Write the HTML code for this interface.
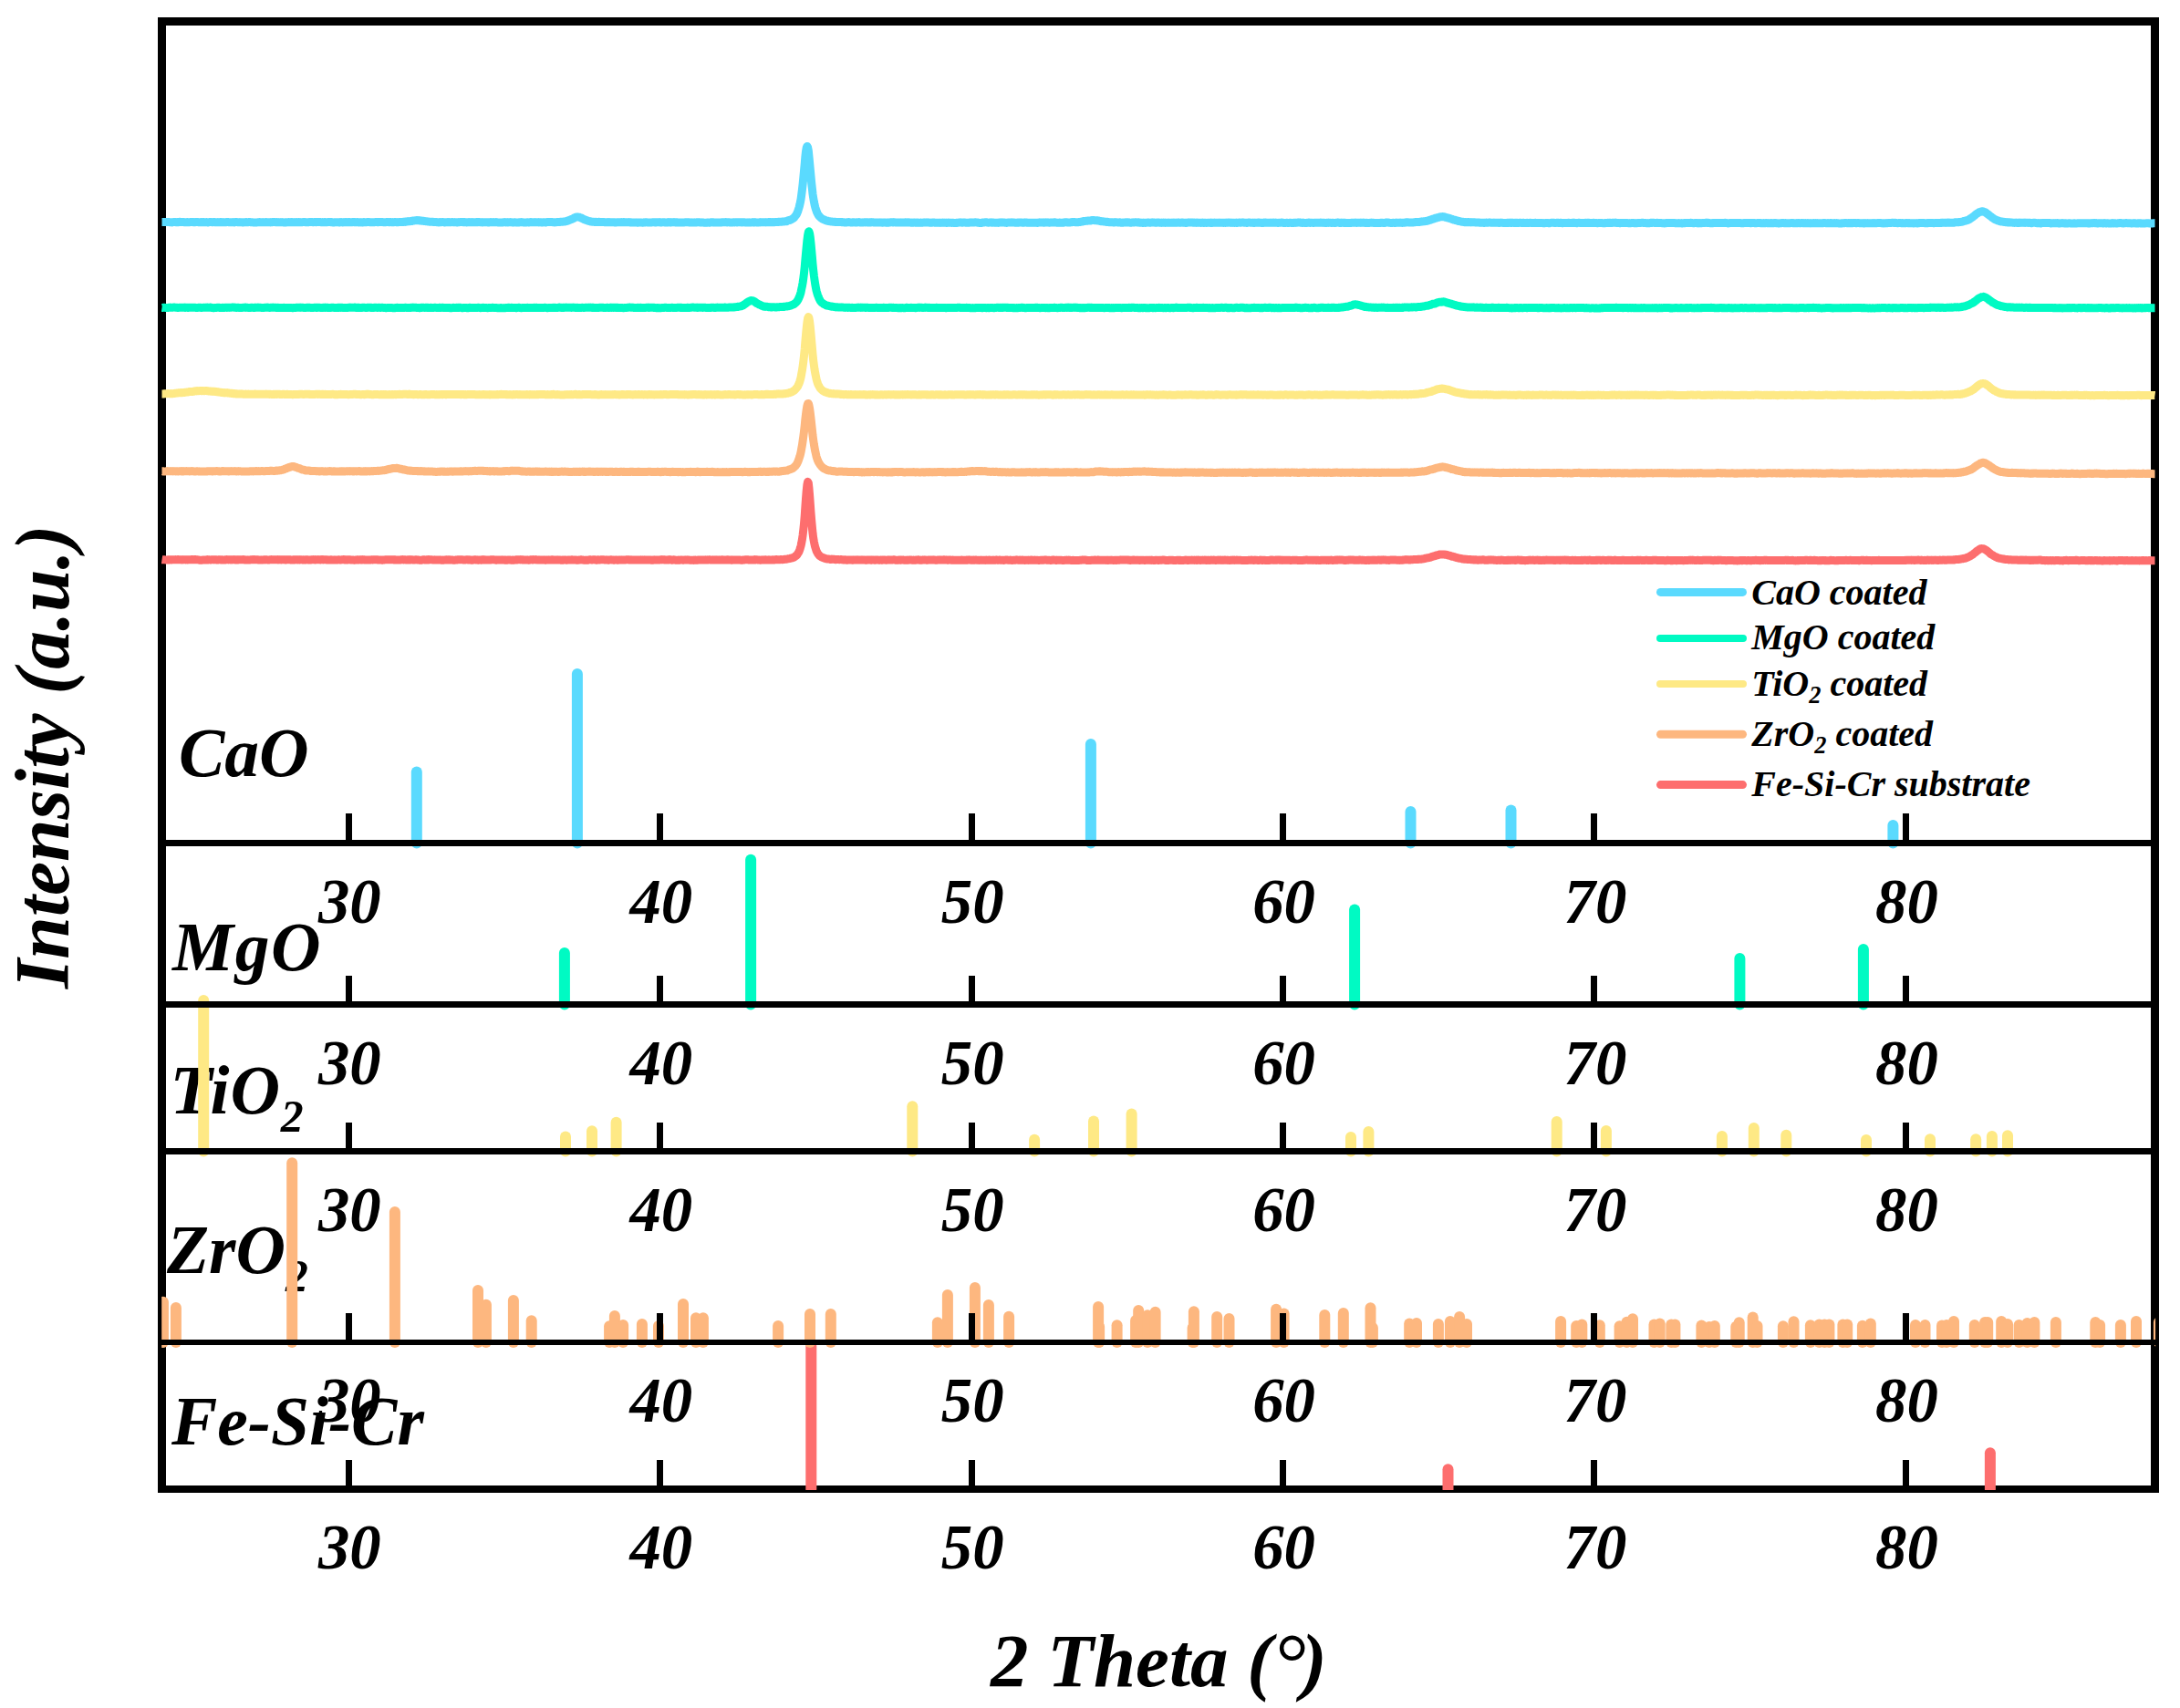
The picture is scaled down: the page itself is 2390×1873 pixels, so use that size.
<!DOCTYPE html>
<html lang="en"><head><meta charset="utf-8"><title>XRD patterns</title>
<style>html,body{margin:0;padding:0;background:#fff}svg{display:block}</style>
</head><body>
<svg width="2390" height="1873" viewBox="0 0 2390 1873"><rect x="0" y="0" width="2390" height="1873" fill="#fff"/>
<g fill="#000"><rect x="173" y="19" width="9" height="1618"/><rect x="2358" y="19" width="9" height="1618"/><rect x="173" y="19" width="2194" height="9"/><rect x="173" y="1629" width="2194" height="8"/></g>
<g style="font-family:'Liberation Serif','Times New Roman',serif;font-weight:bold;font-style:italic" fill="#000">
<text transform="translate(75.4,830) rotate(-90)" font-size="83.6" text-anchor="middle">Intensity (a.u.)</text>
<text x="1086" y="1849" font-size="83">2 Theta (<tspan style="font-weight:normal;font-style:normal" font-size="91" dx="3.5" dy="4.5">°</tspan><tspan dx="-7.7" dy="-4.5">)</tspan></text>
<text x="196.0" y="850.5" font-size="75.5" text-anchor="start" >CaO</text>
<text x="189.0" y="1064.0" font-size="75.5" text-anchor="start" letter-spacing="1.6">MgO</text>
<text x="186.5" y="1221" font-size="75.5" letter-spacing="0.8">TiO<tspan font-size="49.8" dy="20.0">2</tspan></text>
<text x="183" y="1396" font-size="75.5">ZrO<tspan font-size="49.8" dy="20.0">2</tspan></text>
<text x="188.0" y="1584.0" font-size="75.5" text-anchor="start" >Fe-Si-Cr</text>
<text x="383.3" y="1011.8" font-size="68.8" text-anchor="middle" >30</text>
<text x="724.8" y="1011.8" font-size="68.8" text-anchor="middle" >40</text>
<text x="1066.2" y="1011.8" font-size="68.8" text-anchor="middle" >50</text>
<text x="1407.6" y="1011.8" font-size="68.8" text-anchor="middle" >60</text>
<text x="1749.0" y="1011.8" font-size="68.8" text-anchor="middle" >70</text>
<text x="2090.4" y="1011.8" font-size="68.8" text-anchor="middle" >80</text>
<text x="383.3" y="1188.8" font-size="68.8" text-anchor="middle" >30</text>
<text x="724.8" y="1188.8" font-size="68.8" text-anchor="middle" >40</text>
<text x="1066.2" y="1188.8" font-size="68.8" text-anchor="middle" >50</text>
<text x="1407.6" y="1188.8" font-size="68.8" text-anchor="middle" >60</text>
<text x="1749.0" y="1188.8" font-size="68.8" text-anchor="middle" >70</text>
<text x="2090.4" y="1188.8" font-size="68.8" text-anchor="middle" >80</text>
<text x="383.3" y="1349.8" font-size="68.8" text-anchor="middle" >30</text>
<text x="724.8" y="1349.8" font-size="68.8" text-anchor="middle" >40</text>
<text x="1066.2" y="1349.8" font-size="68.8" text-anchor="middle" >50</text>
<text x="1407.6" y="1349.8" font-size="68.8" text-anchor="middle" >60</text>
<text x="1749.0" y="1349.8" font-size="68.8" text-anchor="middle" >70</text>
<text x="2090.4" y="1349.8" font-size="68.8" text-anchor="middle" >80</text>
<text x="383.3" y="1559.3" font-size="68.8" text-anchor="middle" >30</text>
<text x="724.8" y="1559.3" font-size="68.8" text-anchor="middle" >40</text>
<text x="1066.2" y="1559.3" font-size="68.8" text-anchor="middle" >50</text>
<text x="1407.6" y="1559.3" font-size="68.8" text-anchor="middle" >60</text>
<text x="1749.0" y="1559.3" font-size="68.8" text-anchor="middle" >70</text>
<text x="2090.4" y="1559.3" font-size="68.8" text-anchor="middle" >80</text>
<text x="383.3" y="1720.3" font-size="68.8" text-anchor="middle" >30</text>
<text x="724.8" y="1720.3" font-size="68.8" text-anchor="middle" >40</text>
<text x="1066.2" y="1720.3" font-size="68.8" text-anchor="middle" >50</text>
<text x="1407.6" y="1720.3" font-size="68.8" text-anchor="middle" >60</text>
<text x="1749.0" y="1720.3" font-size="68.8" text-anchor="middle" >70</text>
<text x="2090.4" y="1720.3" font-size="68.8" text-anchor="middle" >80</text>
<text x="1920.3" y="662.7" font-size="40.0" text-anchor="start" >CaO coated</text>
<text x="1920.3" y="712.4" font-size="40.0" text-anchor="start" >MgO coated</text>
<text x="1920.3" y="763.0" font-size="40.0" text-anchor="start" >TiO<tspan font-size="26.4" dy="7.8">2</tspan><tspan dy="-7.8"> coated</tspan></text>
<text x="1920.3" y="818.3" font-size="40.0" text-anchor="start" >ZrO<tspan font-size="26.4" dy="7.8">2</tspan><tspan dy="-7.8"> coated</tspan></text>
<text x="1920.3" y="873.4" font-size="40.0" text-anchor="start" >Fe-Si-Cr substrate</text>
</g>
<line x1="1820.5" y1="649.4" x2="1910.5" y2="649.4" stroke="#5ADAFE" stroke-width="9" stroke-linecap="round"/>
<line x1="1820.0" y1="699.9" x2="1911.0" y2="699.9" stroke="#00FAC3" stroke-width="8" stroke-linecap="round"/>
<line x1="1820.0" y1="750.0" x2="1911.0" y2="750.0" stroke="#FEE985" stroke-width="8" stroke-linecap="round"/>
<line x1="1820.5" y1="805.3" x2="1910.5" y2="805.3" stroke="#FDB77F" stroke-width="9" stroke-linecap="round"/>
<line x1="1820.5" y1="860.6" x2="1910.5" y2="860.6" stroke="#FD6E6E" stroke-width="9" stroke-linecap="round"/>
<clipPath id="clip_main"><rect x="177.0" y="0" width="2186.0" height="1873"/></clipPath>
<g clip-path="url(#clip_main)">
<path d="M177.5 243.6 L178.2 243.6 L178.9 243.6 L179.5 243.6 L180.2 243.6 L180.9 243.4 L181.6 243.5 L182.3 243.5 L183.0 243.5 L183.6 243.5 L184.3 243.4 L185.0 243.5 L185.7 243.6 L186.4 243.7 L187.1 243.8 L187.7 243.8 L188.4 243.9 L189.1 243.7 L189.8 243.6 L190.5 243.5 L191.2 243.5 L191.8 243.5 L192.5 243.5 L193.2 243.7 L193.9 243.6 L194.6 243.5 L195.3 243.7 L195.9 243.5 L196.6 243.4 L197.3 243.3 L198.0 243.5 L198.7 243.6 L199.4 243.6 L200.0 243.5 L200.7 243.6 L201.4 243.5 L202.1 243.6 L202.8 243.8 L203.4 243.8 L204.1 243.7 L204.8 243.6 L205.5 243.5 L206.2 243.7 L206.9 243.7 L207.5 243.7 L208.2 243.6 L208.9 243.5 L209.6 243.6 L210.3 243.5 L211.0 243.6 L211.6 243.6 L212.3 243.6 L213.0 243.8 L213.7 243.6 L214.4 243.5 L215.1 243.6 L215.7 243.4 L216.4 243.6 L217.1 243.5 L217.8 243.7 L218.5 243.7 L219.2 243.8 L219.8 243.6 L220.5 243.5 L221.2 243.7 L221.9 243.6 L222.6 243.8 L223.2 243.6 L223.9 243.6 L224.6 243.7 L225.3 243.7 L226.0 243.6 L226.7 243.6 L227.3 243.7 L228.0 243.9 L228.7 243.7 L229.4 243.6 L230.1 243.5 L230.8 243.5 L231.4 243.5 L232.1 243.6 L232.8 243.7 L233.5 243.6 L234.2 243.5 L234.9 243.6 L235.5 243.6 L236.2 243.8 L236.9 243.8 L237.6 243.8 L238.3 243.8 L239.0 243.6 L239.6 243.7 L240.3 243.7 L241.0 243.6 L241.7 243.6 L242.4 243.6 L243.1 243.8 L243.7 243.7 L244.4 243.6 L245.1 243.7 L245.8 243.7 L246.5 243.7 L247.1 243.8 L247.8 243.6 L248.5 243.5 L249.2 243.6 L249.9 243.5 L250.6 243.6 L251.2 243.7 L251.9 243.8 L252.6 243.8 L253.3 243.8 L254.0 243.8 L254.7 243.7 L255.3 243.6 L256.0 243.8 L256.7 243.9 L257.4 243.7 L258.1 243.5 L258.8 243.4 L259.4 243.6 L260.1 243.6 L260.8 243.7 L261.5 243.7 L262.2 243.7 L262.9 243.6 L263.5 243.7 L264.2 243.8 L264.9 243.8 L265.6 243.9 L266.3 243.9 L266.9 243.7 L267.6 243.7 L268.3 243.8 L269.0 243.8 L269.7 243.6 L270.4 243.6 L271.0 243.7 L271.7 243.7 L272.4 243.6 L273.1 243.6 L273.8 243.5 L274.5 243.6 L275.1 243.8 L275.8 243.7 L276.5 243.8 L277.2 243.9 L277.9 243.9 L278.6 243.9 L279.2 244.0 L279.9 244.0 L280.6 243.9 L281.3 243.9 L282.0 243.9 L282.7 243.8 L283.3 243.8 L284.0 243.6 L284.7 243.5 L285.4 243.7 L286.1 243.8 L286.8 243.8 L287.4 243.7 L288.1 243.6 L288.8 243.7 L289.5 243.7 L290.2 243.7 L290.8 243.8 L291.5 243.6 L292.2 243.6 L292.9 243.7 L293.6 243.7 L294.3 243.8 L294.9 243.7 L295.6 243.8 L296.3 243.9 L297.0 243.8 L297.7 243.8 L298.4 243.6 L299.0 243.6 L299.7 243.6 L300.4 243.5 L301.1 243.6 L301.8 243.6 L302.5 243.7 L303.1 243.6 L303.8 243.6 L304.5 243.7 L305.2 243.6 L305.9 243.7 L306.6 243.7 L307.2 243.7 L307.9 243.6 L308.6 243.7 L309.3 243.6 L310.0 243.7 L310.6 243.9 L311.3 244.0 L312.0 244.0 L312.7 243.9 L313.4 243.7 L314.1 243.9 L314.7 243.8 L315.4 243.8 L316.1 243.6 L316.8 243.5 L317.5 243.7 L318.2 243.7 L318.8 243.6 L319.5 243.6 L320.2 243.6 L320.9 243.8 L321.6 243.7 L322.3 243.7 L322.9 243.6 L323.6 243.7 L324.3 243.8 L325.0 243.6 L325.7 243.8 L326.4 243.7 L327.0 243.6 L327.7 243.5 L328.4 243.7 L329.1 243.6 L329.8 243.7 L330.5 243.7 L331.1 243.7 L331.8 243.6 L332.5 243.5 L333.2 243.6 L333.9 243.6 L334.5 243.5 L335.2 243.7 L335.9 243.8 L336.6 243.7 L337.3 243.7 L338.0 243.7 L338.6 243.6 L339.3 243.5 L340.0 243.4 L340.7 243.5 L341.4 243.5 L342.1 243.5 L342.7 243.6 L343.4 243.7 L344.1 243.6 L344.8 243.5 L345.5 243.4 L346.2 243.7 L346.8 243.6 L347.5 243.6 L348.2 243.5 L348.9 243.4 L349.6 243.4 L350.3 243.6 L350.9 243.5 L351.6 243.6 L352.3 243.7 L353.0 243.8 L353.7 243.6 L354.3 243.7 L355.0 243.8 L355.7 243.6 L356.4 243.6 L357.1 243.8 L357.8 243.7 L358.4 243.7 L359.1 243.6 L359.8 243.6 L360.5 243.5 L361.2 243.5 L361.9 243.6 L362.5 243.4 L363.2 243.6 L363.9 243.8 L364.6 243.9 L365.3 244.0 L366.0 244.0 L366.6 243.8 L367.3 243.7 L368.0 243.8 L368.7 243.7 L369.4 243.8 L370.1 243.7 L370.7 243.8 L371.4 243.7 L372.1 243.9 L372.8 243.9 L373.5 243.8 L374.1 243.6 L374.8 243.8 L375.5 243.9 L376.2 243.7 L376.9 243.6 L377.6 243.8 L378.2 243.8 L378.9 243.6 L379.6 243.6 L380.3 243.7 L381.0 243.6 L381.7 243.5 L382.3 243.7 L383.0 243.6 L383.7 243.6 L384.4 243.7 L385.1 243.7 L385.8 243.8 L386.4 243.6 L387.1 243.6 L387.8 243.5 L388.5 243.7 L389.2 243.5 L389.9 243.7 L390.5 243.7 L391.2 243.6 L391.9 243.6 L392.6 243.8 L393.3 243.9 L394.0 243.7 L394.6 243.8 L395.3 243.9 L396.0 243.8 L396.7 243.9 L397.4 244.0 L398.0 243.8 L398.7 243.6 L399.4 243.6 L400.1 243.7 L400.8 243.8 L401.5 243.7 L402.1 243.6 L402.8 243.5 L403.5 243.4 L404.2 243.6 L404.9 243.5 L405.6 243.7 L406.2 243.7 L406.9 243.7 L407.6 243.7 L408.3 243.7 L409.0 243.7 L409.7 243.7 L410.3 243.7 L411.0 243.6 L411.7 243.5 L412.4 243.5 L413.1 243.4 L413.8 243.6 L414.4 243.7 L415.1 243.5 L415.8 243.5 L416.5 243.5 L417.2 243.4 L417.8 243.6 L418.5 243.6 L419.2 243.5 L419.9 243.6 L420.6 243.7 L421.3 243.8 L421.9 243.8 L422.6 243.7 L423.3 243.6 L424.0 243.5 L424.7 243.4 L425.4 243.6 L426.0 243.5 L426.7 243.7 L427.4 243.6 L428.1 243.6 L428.8 243.6 L429.5 243.7 L430.1 243.8 L430.8 243.6 L431.5 243.7 L432.2 243.6 L432.9 243.6 L433.6 243.6 L434.2 243.6 L434.9 243.7 L435.6 243.6 L436.3 243.7 L437.0 243.6 L437.7 243.6 L438.3 243.6 L439.0 243.6 L439.7 243.6 L440.4 243.5 L441.1 243.6 L441.7 243.4 L442.4 243.3 L443.1 243.4 L443.8 243.3 L444.5 243.4 L445.2 243.1 L445.8 243.0 L446.5 242.8 L447.2 242.9 L447.9 242.8 L448.6 242.7 L449.3 242.8 L449.9 242.6 L450.6 242.6 L451.3 242.5 L452.0 242.2 L452.7 242.0 L453.4 241.9 L454.0 242.0 L454.7 241.9 L455.4 241.8 L456.1 241.7 L456.8 241.5 L457.5 241.6 L458.1 241.7 L458.8 241.6 L459.5 241.8 L460.2 242.0 L460.9 242.1 L461.6 242.0 L462.2 242.0 L462.9 242.3 L463.6 242.2 L464.3 242.3 L465.0 242.5 L465.6 242.6 L466.3 242.6 L467.0 242.7 L467.7 242.8 L468.4 242.9 L469.1 243.0 L469.7 243.0 L470.4 243.1 L471.1 243.2 L471.8 243.2 L472.5 243.3 L473.2 243.3 L473.8 243.2 L474.5 243.3 L475.2 243.4 L475.9 243.6 L476.6 243.5 L477.3 243.5 L477.9 243.4 L478.6 243.6 L479.3 243.7 L480.0 243.8 L480.7 243.9 L481.4 243.7 L482.0 243.6 L482.7 243.6 L483.4 243.7 L484.1 243.6 L484.8 243.6 L485.4 243.6 L486.1 243.6 L486.8 243.7 L487.5 243.9 L488.2 243.7 L488.9 243.7 L489.5 243.7 L490.2 243.6 L490.9 243.8 L491.6 243.6 L492.3 243.5 L493.0 243.7 L493.6 243.7 L494.3 243.7 L495.0 243.6 L495.7 243.6 L496.4 243.6 L497.1 243.7 L497.7 243.7 L498.4 243.6 L499.1 243.7 L499.8 243.7 L500.5 243.7 L501.2 243.9 L501.8 243.7 L502.5 243.6 L503.2 243.7 L503.9 243.6 L504.6 243.5 L505.3 243.4 L505.9 243.5 L506.6 243.4 L507.3 243.5 L508.0 243.7 L508.7 243.6 L509.3 243.5 L510.0 243.6 L510.7 243.8 L511.4 243.9 L512.1 243.7 L512.8 243.8 L513.4 243.8 L514.1 243.6 L514.8 243.8 L515.5 243.7 L516.2 243.6 L516.9 243.7 L517.5 243.8 L518.2 243.6 L518.9 243.7 L519.6 243.8 L520.3 243.7 L521.0 243.7 L521.6 243.8 L522.3 243.6 L523.0 243.8 L523.7 243.6 L524.4 243.6 L525.1 243.5 L525.7 243.5 L526.4 243.7 L527.1 243.7 L527.8 243.8 L528.5 243.9 L529.1 243.7 L529.8 243.8 L530.5 243.8 L531.2 243.7 L531.9 243.8 L532.6 243.7 L533.2 243.7 L533.9 243.8 L534.6 243.9 L535.3 243.7 L536.0 243.9 L536.7 243.7 L537.3 243.8 L538.0 243.6 L538.7 243.8 L539.4 243.8 L540.1 243.7 L540.8 243.6 L541.4 243.8 L542.1 243.7 L542.8 243.7 L543.5 243.6 L544.2 243.6 L544.9 243.7 L545.5 243.9 L546.2 244.0 L546.9 244.0 L547.6 243.9 L548.3 243.9 L549.0 243.9 L549.6 244.0 L550.3 243.9 L551.0 244.0 L551.7 243.9 L552.4 243.7 L553.0 243.8 L553.7 243.6 L554.4 243.7 L555.1 243.9 L555.8 243.8 L556.5 243.9 L557.1 243.7 L557.8 243.8 L558.5 243.7 L559.2 243.6 L559.9 243.8 L560.6 243.8 L561.2 243.8 L561.9 244.0 L562.6 244.0 L563.3 244.0 L564.0 243.8 L564.7 243.7 L565.3 243.9 L566.0 244.0 L566.7 243.9 L567.4 243.9 L568.1 244.0 L568.8 244.0 L569.4 243.8 L570.1 243.7 L570.8 243.8 L571.5 243.6 L572.2 243.8 L572.8 243.8 L573.5 243.9 L574.2 243.9 L574.9 243.9 L575.6 243.9 L576.3 244.0 L576.9 244.0 L577.6 243.9 L578.3 243.8 L579.0 243.9 L579.7 244.0 L580.4 243.9 L581.0 243.7 L581.7 243.5 L582.4 243.6 L583.1 243.7 L583.8 243.7 L584.5 243.7 L585.1 243.7 L585.8 243.7 L586.5 243.6 L587.2 243.7 L587.9 243.7 L588.6 243.8 L589.2 243.7 L589.9 243.8 L590.6 243.9 L591.3 243.8 L592.0 243.9 L592.6 243.8 L593.3 243.8 L594.0 244.0 L594.7 244.0 L595.4 243.9 L596.1 243.7 L596.7 243.8 L597.4 243.9 L598.1 244.0 L598.8 243.7 L599.5 243.6 L600.2 243.6 L600.8 243.5 L601.5 243.4 L602.2 243.6 L602.9 243.6 L603.6 243.5 L604.3 243.5 L604.9 243.5 L605.6 243.5 L606.3 243.7 L607.0 243.8 L607.7 243.9 L608.4 243.7 L609.0 243.7 L609.7 243.7 L610.4 243.6 L611.1 243.5 L611.8 243.6 L612.5 243.5 L613.1 243.4 L613.8 243.5 L614.5 243.3 L615.2 243.2 L615.9 243.2 L616.5 243.2 L617.2 243.2 L617.9 242.9 L618.6 242.9 L619.3 243.0 L620.0 242.8 L620.6 242.6 L621.3 242.5 L622.0 242.1 L622.7 242.1 L623.4 241.7 L624.1 241.5 L624.7 241.2 L625.4 240.8 L626.1 240.6 L626.8 240.4 L627.5 240.2 L628.2 239.8 L628.8 239.5 L629.5 239.0 L630.2 238.7 L630.9 238.4 L631.6 238.0 L632.3 238.1 L632.9 238.0 L633.6 238.1 L634.3 238.1 L635.0 238.2 L635.7 238.4 L636.3 238.7 L637.0 239.0 L637.7 239.2 L638.4 239.7 L639.1 239.9 L639.8 240.3 L640.4 240.7 L641.1 240.9 L641.8 241.1 L642.5 241.3 L643.2 241.6 L643.9 241.9 L644.5 242.1 L645.2 242.4 L645.9 242.4 L646.6 242.7 L647.3 242.9 L648.0 243.1 L648.6 243.0 L649.3 243.2 L650.0 243.2 L650.7 243.3 L651.4 243.4 L652.1 243.5 L652.7 243.4 L653.4 243.3 L654.1 243.5 L654.8 243.4 L655.5 243.5 L656.2 243.4 L656.8 243.3 L657.5 243.5 L658.2 243.6 L658.9 243.5 L659.6 243.5 L660.2 243.6 L660.9 243.5 L661.6 243.5 L662.3 243.5 L663.0 243.7 L663.7 243.7 L664.3 243.7 L665.0 243.7 L665.7 243.8 L666.4 243.6 L667.1 243.7 L667.8 243.6 L668.4 243.8 L669.1 243.8 L669.8 243.8 L670.5 243.7 L671.2 243.8 L671.9 243.7 L672.5 243.7 L673.2 243.7 L673.9 243.9 L674.6 243.9 L675.3 243.9 L676.0 243.9 L676.6 243.8 L677.3 243.7 L678.0 243.7 L678.7 243.8 L679.4 243.7 L680.0 243.8 L680.7 243.8 L681.4 243.6 L682.1 243.7 L682.8 243.8 L683.5 243.6 L684.1 243.6 L684.8 243.8 L685.5 243.7 L686.2 243.7 L686.9 243.8 L687.6 243.8 L688.2 243.7 L688.9 243.7 L689.6 243.6 L690.3 243.7 L691.0 243.9 L691.7 243.8 L692.3 244.0 L693.0 244.0 L693.7 243.9 L694.4 243.9 L695.1 243.9 L695.8 244.0 L696.4 243.9 L697.1 244.0 L697.8 244.1 L698.5 244.1 L699.2 244.2 L699.9 244.0 L700.5 243.9 L701.2 243.9 L701.9 244.0 L702.6 244.0 L703.3 243.9 L703.9 244.1 L704.6 244.2 L705.3 244.0 L706.0 244.1 L706.7 244.0 L707.4 243.8 L708.0 243.9 L708.7 243.8 L709.4 243.9 L710.1 244.0 L710.8 243.9 L711.5 243.9 L712.1 244.0 L712.8 243.9 L713.5 243.9 L714.2 244.0 L714.9 243.9 L715.6 243.8 L716.2 243.8 L716.9 243.8 L717.6 243.7 L718.3 243.9 L719.0 243.9 L719.7 243.9 L720.3 243.8 L721.0 243.7 L721.7 243.8 L722.4 243.7 L723.1 243.6 L723.8 243.7 L724.4 243.9 L725.1 243.9 L725.8 243.9 L726.5 243.8 L727.2 243.8 L727.8 243.7 L728.5 243.9 L729.2 244.0 L729.9 243.9 L730.6 243.9 L731.3 243.9 L731.9 243.8 L732.6 243.9 L733.3 243.8 L734.0 243.9 L734.7 243.8 L735.4 244.0 L736.0 243.8 L736.7 243.7 L737.4 243.8 L738.1 243.7 L738.8 243.6 L739.5 243.8 L740.1 243.9 L740.8 243.7 L741.5 243.7 L742.2 243.9 L742.9 243.9 L743.6 243.9 L744.2 244.0 L744.9 243.9 L745.6 244.0 L746.3 244.0 L747.0 243.9 L747.6 243.9 L748.3 244.0 L749.0 243.9 L749.7 243.9 L750.4 243.9 L751.1 243.8 L751.7 243.7 L752.4 243.7 L753.1 243.8 L753.8 243.8 L754.5 243.8 L755.2 243.9 L755.8 244.1 L756.5 244.0 L757.2 244.1 L757.9 244.1 L758.6 244.1 L759.3 244.0 L759.9 244.0 L760.6 244.0 L761.3 244.1 L762.0 244.0 L762.7 244.0 L763.4 244.1 L764.0 243.9 L764.7 243.8 L765.4 243.7 L766.1 243.7 L766.8 243.8 L767.5 244.0 L768.1 244.0 L768.8 244.0 L769.5 244.1 L770.2 244.0 L770.9 244.1 L771.5 244.1 L772.2 244.2 L772.9 244.3 L773.6 244.3 L774.3 244.3 L775.0 244.1 L775.6 244.0 L776.3 244.0 L777.0 244.1 L777.7 244.2 L778.4 244.0 L779.1 243.8 L779.7 243.9 L780.4 243.8 L781.1 243.7 L781.8 243.9 L782.5 244.1 L783.2 244.0 L783.8 243.9 L784.5 243.9 L785.2 244.0 L785.9 244.1 L786.6 243.9 L787.3 244.0 L787.9 244.0 L788.6 243.9 L789.3 244.0 L790.0 244.0 L790.7 244.0 L791.3 243.8 L792.0 243.8 L792.7 243.7 L793.4 243.7 L794.1 243.8 L794.8 243.7 L795.4 243.6 L796.1 243.8 L796.8 243.9 L797.5 243.9 L798.2 243.8 L798.9 243.7 L799.5 243.8 L800.2 243.9 L800.9 244.1 L801.6 244.0 L802.3 244.0 L803.0 244.0 L803.6 243.9 L804.3 243.8 L805.0 243.9 L805.7 243.9 L806.4 243.8 L807.1 243.8 L807.7 243.9 L808.4 243.9 L809.1 243.8 L809.8 243.7 L810.5 243.7 L811.2 243.7 L811.8 243.7 L812.5 243.7 L813.2 243.9 L813.9 243.8 L814.6 243.9 L815.2 243.8 L815.9 243.8 L816.6 243.9 L817.3 243.9 L818.0 243.9 L818.7 244.0 L819.3 244.0 L820.0 244.1 L820.7 244.0 L821.4 244.1 L822.1 244.0 L822.8 244.0 L823.4 244.0 L824.1 243.9 L824.8 243.8 L825.5 243.9 L826.2 243.8 L826.9 243.7 L827.5 243.9 L828.2 243.8 L828.9 243.9 L829.6 244.0 L830.3 243.9 L831.0 243.9 L831.6 244.0 L832.3 243.9 L833.0 243.8 L833.7 243.9 L834.4 243.8 L835.0 243.8 L835.7 243.7 L836.4 243.7 L837.1 243.8 L837.8 243.7 L838.5 243.7 L839.1 243.8 L839.8 243.9 L840.5 243.8 L841.2 243.7 L841.9 243.7 L842.6 243.5 L843.2 243.5 L843.9 243.7 L844.6 243.5 L845.3 243.6 L846.0 243.7 L846.7 243.7 L847.3 243.5 L848.0 243.6 L848.7 243.7 L849.4 243.6 L850.1 243.6 L850.8 243.4 L851.4 243.4 L852.1 243.5 L852.8 243.6 L853.5 243.4 L854.2 243.2 L854.9 243.3 L855.5 243.2 L856.2 243.3 L856.9 243.2 L857.6 243.1 L858.3 242.9 L858.9 242.9 L859.6 243.0 L860.3 242.8 L861.0 242.8 L861.7 242.8 L862.4 242.7 L863.0 242.3 L863.7 241.9 L864.4 241.6 L865.1 241.6 L865.8 241.5 L866.5 241.1 L867.1 240.9 L867.8 240.7 L868.5 240.1 L869.2 239.7 L869.9 239.3 L870.6 238.7 L871.2 237.8 L871.9 236.9 L872.6 236.1 L873.3 235.0 L874.0 233.5 L874.7 231.9 L875.3 229.8 L876.0 227.7 L876.7 225.0 L877.4 221.8 L878.1 218.1 L878.7 213.6 L879.4 208.1 L880.1 202.0 L880.8 195.0 L881.5 187.5 L882.2 179.9 L882.8 172.6 L883.5 166.2 L884.2 162.0 L884.9 160.4 L885.6 161.7 L886.3 165.2 L886.9 171.2 L887.6 178.4 L888.3 186.0 L889.0 193.5 L889.7 200.6 L890.4 207.1 L891.0 212.6 L891.7 217.1 L892.4 221.2 L893.1 224.6 L893.8 227.4 L894.5 229.6 L895.1 231.5 L895.8 233.2 L896.5 234.7 L897.2 235.8 L897.9 236.8 L898.6 237.5 L899.2 238.1 L899.9 238.8 L900.6 239.4 L901.3 239.8 L902.0 240.3 L902.6 240.5 L903.3 240.9 L904.0 241.2 L904.7 241.4 L905.4 241.8 L906.1 241.9 L906.7 242.3 L907.4 242.2 L908.1 242.4 L908.8 242.4 L909.5 242.7 L910.2 242.8 L910.8 242.7 L911.5 243.0 L912.2 242.9 L912.9 243.2 L913.6 243.2 L914.3 243.2 L914.9 243.2 L915.6 243.4 L916.3 243.6 L917.0 243.4 L917.7 243.5 L918.4 243.5 L919.0 243.4 L919.7 243.4 L920.4 243.5 L921.1 243.5 L921.8 243.4 L922.4 243.4 L923.1 243.6 L923.8 243.8 L924.5 243.7 L925.2 243.9 L925.9 244.0 L926.5 244.0 L927.2 244.0 L927.9 244.0 L928.6 243.8 L929.3 243.7 L930.0 243.6 L930.6 243.6 L931.3 243.8 L932.0 243.9 L932.7 244.0 L933.4 244.1 L934.1 243.9 L934.7 243.9 L935.4 243.7 L936.1 243.8 L936.8 243.9 L937.5 244.0 L938.2 244.1 L938.8 244.1 L939.5 244.0 L940.2 243.8 L940.9 243.7 L941.6 243.6 L942.2 243.8 L942.9 243.9 L943.6 244.1 L944.3 244.0 L945.0 244.0 L945.7 244.1 L946.3 243.9 L947.0 243.9 L947.7 243.8 L948.4 243.9 L949.1 243.7 L949.8 243.8 L950.4 243.7 L951.1 243.9 L951.8 243.9 L952.5 244.0 L953.2 243.8 L953.9 244.0 L954.5 243.8 L955.2 243.9 L955.9 243.8 L956.6 243.7 L957.3 243.9 L958.0 244.0 L958.6 244.0 L959.3 244.1 L960.0 243.9 L960.7 244.0 L961.4 244.0 L962.1 244.0 L962.7 243.9 L963.4 244.0 L964.1 244.1 L964.8 244.1 L965.5 244.1 L966.1 243.9 L966.8 244.1 L967.5 244.2 L968.2 244.1 L968.9 244.0 L969.6 244.0 L970.2 244.1 L970.9 244.0 L971.6 244.2 L972.3 244.1 L973.0 244.0 L973.7 244.2 L974.3 244.0 L975.0 244.1 L975.7 243.9 L976.4 243.8 L977.1 243.8 L977.8 243.7 L978.4 243.7 L979.1 243.9 L979.8 243.9 L980.5 243.8 L981.2 243.9 L981.9 244.0 L982.5 243.9 L983.2 244.0 L983.9 244.0 L984.6 243.9 L985.3 243.9 L986.0 244.0 L986.6 244.1 L987.3 244.1 L988.0 244.1 L988.7 244.0 L989.4 244.0 L990.0 244.1 L990.7 244.0 L991.4 243.9 L992.1 243.9 L992.8 243.8 L993.5 244.0 L994.1 244.0 L994.8 244.1 L995.5 244.0 L996.2 243.8 L996.9 244.0 L997.6 244.0 L998.2 244.1 L998.9 244.2 L999.6 244.1 L1000.3 244.1 L1001.0 244.2 L1001.7 244.1 L1002.3 244.0 L1003.0 244.0 L1003.7 244.2 L1004.4 244.1 L1005.1 244.2 L1005.8 244.0 L1006.4 244.1 L1007.1 244.2 L1007.8 244.3 L1008.5 244.2 L1009.2 244.1 L1009.8 244.1 L1010.5 244.2 L1011.2 244.2 L1011.9 244.1 L1012.6 244.0 L1013.3 244.1 L1013.9 244.1 L1014.6 243.9 L1015.3 244.0 L1016.0 244.1 L1016.7 244.0 L1017.4 244.1 L1018.0 244.1 L1018.7 244.1 L1019.4 244.2 L1020.1 244.1 L1020.8 244.2 L1021.5 244.3 L1022.1 244.1 L1022.8 244.1 L1023.5 243.9 L1024.2 244.0 L1024.9 244.2 L1025.6 244.3 L1026.2 244.3 L1026.9 244.2 L1027.6 244.2 L1028.3 244.3 L1029.0 244.2 L1029.7 244.2 L1030.3 244.3 L1031.0 244.4 L1031.7 244.3 L1032.4 244.3 L1033.1 244.3 L1033.7 244.1 L1034.4 244.2 L1035.1 244.1 L1035.8 244.2 L1036.5 244.3 L1037.2 244.4 L1037.8 244.4 L1038.5 244.2 L1039.2 244.2 L1039.9 244.0 L1040.6 244.2 L1041.3 244.2 L1041.9 244.2 L1042.6 244.3 L1043.3 244.4 L1044.0 244.4 L1044.7 244.3 L1045.4 244.4 L1046.0 244.4 L1046.7 244.4 L1047.4 244.4 L1048.1 244.4 L1048.8 244.4 L1049.5 244.2 L1050.1 244.2 L1050.8 244.1 L1051.5 244.0 L1052.2 244.1 L1052.9 244.1 L1053.5 244.1 L1054.2 244.0 L1054.9 244.2 L1055.6 244.1 L1056.3 244.1 L1057.0 244.1 L1057.6 244.1 L1058.3 244.1 L1059.0 244.2 L1059.7 244.2 L1060.4 244.2 L1061.1 244.3 L1061.7 244.3 L1062.4 244.1 L1063.1 244.0 L1063.8 244.0 L1064.5 244.1 L1065.2 244.0 L1065.8 243.9 L1066.5 243.9 L1067.2 243.9 L1067.9 244.0 L1068.6 243.9 L1069.3 243.8 L1069.9 243.9 L1070.6 244.0 L1071.3 243.9 L1072.0 244.1 L1072.7 244.3 L1073.3 244.4 L1074.0 244.4 L1074.7 244.5 L1075.4 244.4 L1076.1 244.4 L1076.8 244.2 L1077.4 244.0 L1078.1 243.9 L1078.8 243.9 L1079.5 243.9 L1080.2 243.8 L1080.9 243.7 L1081.5 243.8 L1082.2 244.0 L1082.9 244.1 L1083.6 244.2 L1084.3 244.1 L1085.0 244.0 L1085.6 244.0 L1086.3 244.1 L1087.0 244.0 L1087.7 244.2 L1088.4 244.0 L1089.1 243.9 L1089.7 244.1 L1090.4 244.2 L1091.1 244.2 L1091.8 244.3 L1092.5 244.3 L1093.2 244.2 L1093.8 244.3 L1094.5 244.4 L1095.2 244.1 L1095.9 244.0 L1096.6 244.1 L1097.2 244.1 L1097.9 244.0 L1098.6 244.1 L1099.3 244.0 L1100.0 244.0 L1100.7 244.0 L1101.3 244.0 L1102.0 244.2 L1102.7 244.3 L1103.4 244.4 L1104.1 244.2 L1104.8 244.1 L1105.4 244.0 L1106.1 243.9 L1106.8 244.1 L1107.5 244.1 L1108.2 244.1 L1108.9 243.9 L1109.5 244.1 L1110.2 243.9 L1110.9 243.9 L1111.6 244.0 L1112.3 244.1 L1113.0 244.2 L1113.6 244.3 L1114.3 244.3 L1115.0 244.3 L1115.7 244.1 L1116.4 244.2 L1117.0 244.1 L1117.7 243.9 L1118.4 244.1 L1119.1 244.0 L1119.8 244.0 L1120.5 244.1 L1121.1 244.2 L1121.8 244.3 L1122.5 244.1 L1123.2 244.1 L1123.9 244.1 L1124.6 244.0 L1125.2 244.1 L1125.9 244.1 L1126.6 244.3 L1127.3 244.2 L1128.0 244.2 L1128.7 244.3 L1129.3 244.2 L1130.0 244.2 L1130.7 244.2 L1131.4 244.3 L1132.1 244.2 L1132.8 244.2 L1133.4 244.2 L1134.1 244.3 L1134.8 244.2 L1135.5 244.3 L1136.2 244.3 L1136.9 244.4 L1137.5 244.2 L1138.2 244.2 L1138.9 244.0 L1139.6 244.1 L1140.3 244.0 L1140.9 244.0 L1141.6 243.9 L1142.3 243.9 L1143.0 243.9 L1143.7 244.0 L1144.4 244.2 L1145.0 244.0 L1145.7 244.0 L1146.4 244.1 L1147.1 244.0 L1147.8 244.1 L1148.5 244.1 L1149.1 244.1 L1149.8 244.0 L1150.5 244.2 L1151.2 244.1 L1151.9 244.0 L1152.6 244.0 L1153.2 243.9 L1153.9 244.0 L1154.6 244.0 L1155.3 243.9 L1156.0 243.8 L1156.7 243.8 L1157.3 244.0 L1158.0 244.0 L1158.7 244.2 L1159.4 244.2 L1160.1 244.2 L1160.8 244.2 L1161.4 244.1 L1162.1 244.1 L1162.8 244.2 L1163.5 244.2 L1164.2 244.3 L1164.8 244.2 L1165.5 244.3 L1166.2 244.0 L1166.9 243.9 L1167.6 243.8 L1168.3 243.7 L1168.9 243.7 L1169.6 243.9 L1170.3 244.0 L1171.0 244.0 L1171.7 244.0 L1172.4 243.9 L1173.0 243.9 L1173.7 243.9 L1174.4 243.8 L1175.1 243.6 L1175.8 243.6 L1176.5 243.5 L1177.1 243.5 L1177.8 243.6 L1178.5 243.6 L1179.2 243.7 L1179.9 243.7 L1180.6 243.7 L1181.2 243.7 L1181.9 243.7 L1182.6 243.5 L1183.3 243.5 L1184.0 243.5 L1184.6 243.4 L1185.3 243.2 L1186.0 243.0 L1186.7 243.0 L1187.4 242.7 L1188.1 242.5 L1188.7 242.4 L1189.4 242.4 L1190.1 242.4 L1190.8 242.3 L1191.5 242.3 L1192.2 242.1 L1192.8 242.0 L1193.5 242.0 L1194.2 242.0 L1194.9 242.0 L1195.6 242.0 L1196.3 241.7 L1196.9 241.5 L1197.6 241.5 L1198.3 241.6 L1199.0 241.6 L1199.7 241.6 L1200.4 241.7 L1201.0 241.7 L1201.7 241.7 L1202.4 241.7 L1203.1 241.9 L1203.8 242.1 L1204.5 242.0 L1205.1 242.1 L1205.8 242.4 L1206.5 242.6 L1207.2 242.6 L1207.9 242.8 L1208.5 242.8 L1209.2 242.8 L1209.9 243.0 L1210.6 243.0 L1211.3 243.1 L1212.0 243.2 L1212.6 243.2 L1213.3 243.4 L1214.0 243.3 L1214.7 243.4 L1215.4 243.6 L1216.1 243.7 L1216.7 243.7 L1217.4 243.8 L1218.1 243.7 L1218.8 243.7 L1219.5 243.8 L1220.2 243.9 L1220.8 244.0 L1221.5 243.8 L1222.2 243.9 L1222.9 243.8 L1223.6 243.8 L1224.3 243.7 L1224.9 243.9 L1225.6 244.0 L1226.3 244.0 L1227.0 243.9 L1227.7 243.8 L1228.3 244.0 L1229.0 244.2 L1229.7 244.2 L1230.4 244.1 L1231.1 244.2 L1231.8 244.0 L1232.4 244.0 L1233.1 244.0 L1233.8 243.9 L1234.5 243.8 L1235.2 244.0 L1235.9 243.9 L1236.5 243.8 L1237.2 244.0 L1237.9 244.1 L1238.6 244.1 L1239.3 244.2 L1240.0 244.2 L1240.6 244.1 L1241.3 244.1 L1242.0 244.0 L1242.7 244.1 L1243.4 244.0 L1244.1 243.9 L1244.7 243.8 L1245.4 243.8 L1246.1 243.9 L1246.8 244.0 L1247.5 243.9 L1248.2 243.8 L1248.8 244.0 L1249.5 244.2 L1250.2 244.2 L1250.9 244.1 L1251.6 244.2 L1252.2 244.2 L1252.9 244.4 L1253.6 244.4 L1254.3 244.3 L1255.0 244.2 L1255.7 244.4 L1256.3 244.3 L1257.0 244.2 L1257.7 244.1 L1258.4 244.1 L1259.1 244.1 L1259.8 244.1 L1260.4 244.2 L1261.1 244.2 L1261.8 244.1 L1262.5 244.0 L1263.2 244.1 L1263.9 244.0 L1264.5 244.1 L1265.2 244.1 L1265.9 244.1 L1266.6 244.2 L1267.3 244.1 L1268.0 244.2 L1268.6 244.1 L1269.3 244.0 L1270.0 244.0 L1270.7 244.0 L1271.4 244.2 L1272.0 244.2 L1272.7 244.3 L1273.4 244.4 L1274.1 244.3 L1274.8 244.2 L1275.5 244.0 L1276.1 244.2 L1276.8 244.3 L1277.5 244.4 L1278.2 244.3 L1278.9 244.2 L1279.6 244.2 L1280.2 244.2 L1280.9 244.1 L1281.6 244.3 L1282.3 244.2 L1283.0 244.3 L1283.7 244.3 L1284.3 244.2 L1285.0 244.1 L1285.7 244.2 L1286.4 244.1 L1287.1 244.2 L1287.8 244.1 L1288.4 244.2 L1289.1 244.2 L1289.8 244.1 L1290.5 244.2 L1291.2 244.1 L1291.8 244.1 L1292.5 244.0 L1293.2 244.2 L1293.9 244.3 L1294.6 244.1 L1295.3 244.0 L1295.9 243.9 L1296.6 244.1 L1297.3 244.2 L1298.0 244.2 L1298.7 244.2 L1299.4 244.2 L1300.0 244.4 L1300.7 244.4 L1301.4 244.2 L1302.1 244.1 L1302.8 244.1 L1303.5 244.0 L1304.1 244.0 L1304.8 243.9 L1305.5 243.9 L1306.2 244.1 L1306.9 244.0 L1307.6 244.0 L1308.2 244.1 L1308.9 244.3 L1309.6 244.1 L1310.3 244.3 L1311.0 244.3 L1311.7 244.4 L1312.3 244.3 L1313.0 244.1 L1313.7 244.2 L1314.4 244.2 L1315.1 244.2 L1315.7 244.3 L1316.4 244.4 L1317.1 244.2 L1317.8 244.3 L1318.5 244.1 L1319.2 244.2 L1319.8 244.4 L1320.5 244.2 L1321.2 244.3 L1321.9 244.3 L1322.6 244.5 L1323.3 244.3 L1323.9 244.3 L1324.6 244.2 L1325.3 244.2 L1326.0 244.2 L1326.7 244.2 L1327.4 244.4 L1328.0 244.2 L1328.7 244.4 L1329.4 244.2 L1330.1 244.2 L1330.8 244.2 L1331.5 244.1 L1332.1 244.2 L1332.8 244.2 L1333.5 244.2 L1334.2 244.2 L1334.9 244.3 L1335.5 244.2 L1336.2 244.2 L1336.9 244.1 L1337.6 244.2 L1338.3 244.3 L1339.0 244.2 L1339.6 244.3 L1340.3 244.3 L1341.0 244.4 L1341.7 244.2 L1342.4 244.3 L1343.1 244.4 L1343.7 244.4 L1344.4 244.3 L1345.1 244.1 L1345.8 244.2 L1346.5 244.1 L1347.2 244.0 L1347.8 244.0 L1348.5 244.2 L1349.2 244.3 L1349.9 244.4 L1350.6 244.3 L1351.3 244.3 L1351.9 244.4 L1352.6 244.3 L1353.3 244.4 L1354.0 244.4 L1354.7 244.3 L1355.4 244.4 L1356.0 244.4 L1356.7 244.2 L1357.4 244.2 L1358.1 244.1 L1358.8 244.1 L1359.4 244.1 L1360.1 244.2 L1360.8 244.1 L1361.5 244.0 L1362.2 244.1 L1362.9 244.1 L1363.5 244.0 L1364.2 244.2 L1364.9 244.3 L1365.6 244.2 L1366.3 244.2 L1367.0 244.4 L1367.6 244.2 L1368.3 244.1 L1369.0 244.1 L1369.7 244.1 L1370.4 244.1 L1371.1 244.2 L1371.7 244.2 L1372.4 244.3 L1373.1 244.3 L1373.8 244.4 L1374.5 244.4 L1375.2 244.2 L1375.8 244.4 L1376.5 244.3 L1377.2 244.3 L1377.9 244.3 L1378.6 244.3 L1379.2 244.1 L1379.9 244.1 L1380.6 244.1 L1381.3 244.3 L1382.0 244.2 L1382.7 244.3 L1383.3 244.5 L1384.0 244.5 L1384.7 244.3 L1385.4 244.4 L1386.1 244.3 L1386.8 244.1 L1387.4 244.1 L1388.1 244.1 L1388.8 244.2 L1389.5 244.2 L1390.2 244.3 L1390.9 244.3 L1391.5 244.3 L1392.2 244.2 L1392.9 244.1 L1393.6 244.2 L1394.3 244.2 L1395.0 244.1 L1395.6 244.2 L1396.3 244.1 L1397.0 244.3 L1397.7 244.2 L1398.4 244.1 L1399.1 244.2 L1399.7 244.3 L1400.4 244.3 L1401.1 244.5 L1401.8 244.3 L1402.5 244.3 L1403.1 244.3 L1403.8 244.2 L1404.5 244.1 L1405.2 244.1 L1405.9 244.1 L1406.6 244.2 L1407.2 244.4 L1407.9 244.4 L1408.6 244.4 L1409.3 244.5 L1410.0 244.4 L1410.7 244.3 L1411.3 244.4 L1412.0 244.5 L1412.7 244.5 L1413.4 244.4 L1414.1 244.3 L1414.8 244.3 L1415.4 244.4 L1416.1 244.4 L1416.8 244.5 L1417.5 244.6 L1418.2 244.4 L1418.9 244.2 L1419.5 244.3 L1420.2 244.4 L1420.9 244.3 L1421.6 244.2 L1422.3 244.1 L1422.9 244.1 L1423.6 244.1 L1424.3 244.0 L1425.0 244.1 L1425.7 244.1 L1426.4 244.3 L1427.0 244.2 L1427.7 244.4 L1428.4 244.4 L1429.1 244.3 L1429.8 244.4 L1430.5 244.4 L1431.1 244.5 L1431.8 244.4 L1432.5 244.5 L1433.2 244.4 L1433.9 244.2 L1434.6 244.1 L1435.2 244.0 L1435.9 244.2 L1436.6 244.4 L1437.3 244.3 L1438.0 244.3 L1438.7 244.2 L1439.3 244.4 L1440.0 244.5 L1440.7 244.3 L1441.4 244.3 L1442.1 244.3 L1442.8 244.2 L1443.4 244.2 L1444.1 244.3 L1444.8 244.2 L1445.5 244.3 L1446.2 244.3 L1446.8 244.2 L1447.5 244.1 L1448.2 244.1 L1448.9 244.2 L1449.6 244.3 L1450.3 244.3 L1450.9 244.4 L1451.6 244.3 L1452.3 244.4 L1453.0 244.4 L1453.7 244.5 L1454.4 244.3 L1455.0 244.4 L1455.7 244.3 L1456.4 244.4 L1457.1 244.3 L1457.8 244.2 L1458.5 244.3 L1459.1 244.4 L1459.8 244.4 L1460.5 244.4 L1461.2 244.3 L1461.9 244.4 L1462.6 244.5 L1463.2 244.5 L1463.9 244.5 L1464.6 244.3 L1465.3 244.2 L1466.0 244.1 L1466.6 244.1 L1467.3 244.0 L1468.0 244.2 L1468.7 244.4 L1469.4 244.2 L1470.1 244.4 L1470.7 244.4 L1471.4 244.3 L1472.1 244.2 L1472.8 244.4 L1473.5 244.5 L1474.2 244.3 L1474.8 244.3 L1475.5 244.5 L1476.2 244.5 L1476.9 244.5 L1477.6 244.5 L1478.3 244.4 L1478.9 244.5 L1479.6 244.5 L1480.3 244.6 L1481.0 244.5 L1481.7 244.3 L1482.4 244.2 L1483.0 244.2 L1483.7 244.3 L1484.4 244.3 L1485.1 244.2 L1485.8 244.1 L1486.5 244.3 L1487.1 244.4 L1487.8 244.2 L1488.5 244.2 L1489.2 244.3 L1489.9 244.3 L1490.5 244.3 L1491.2 244.3 L1491.9 244.4 L1492.6 244.3 L1493.3 244.2 L1494.0 244.2 L1494.6 244.1 L1495.3 244.2 L1496.0 244.3 L1496.7 244.5 L1497.4 244.6 L1498.1 244.3 L1498.7 244.4 L1499.4 244.5 L1500.1 244.4 L1500.8 244.4 L1501.5 244.4 L1502.2 244.3 L1502.8 244.2 L1503.5 244.1 L1504.2 244.2 L1504.9 244.2 L1505.6 244.4 L1506.3 244.5 L1506.9 244.6 L1507.6 244.5 L1508.3 244.5 L1509.0 244.4 L1509.7 244.5 L1510.3 244.4 L1511.0 244.5 L1511.7 244.4 L1512.4 244.4 L1513.1 244.5 L1513.8 244.2 L1514.4 244.3 L1515.1 244.3 L1515.8 244.3 L1516.5 244.5 L1517.2 244.5 L1517.9 244.5 L1518.5 244.3 L1519.2 244.1 L1519.9 244.1 L1520.6 244.0 L1521.3 244.0 L1522.0 243.9 L1522.6 244.1 L1523.3 244.3 L1524.0 244.4 L1524.7 244.5 L1525.4 244.5 L1526.1 244.4 L1526.7 244.4 L1527.4 244.3 L1528.1 244.4 L1528.8 244.4 L1529.5 244.4 L1530.2 244.4 L1530.8 244.1 L1531.5 244.2 L1532.2 244.2 L1532.9 244.2 L1533.6 244.3 L1534.2 244.2 L1534.9 244.1 L1535.6 244.3 L1536.3 244.3 L1537.0 244.4 L1537.7 244.4 L1538.3 244.3 L1539.0 244.2 L1539.7 244.2 L1540.4 244.1 L1541.1 243.9 L1541.8 243.8 L1542.4 243.9 L1543.1 243.8 L1543.8 243.8 L1544.5 244.0 L1545.2 244.0 L1545.9 244.0 L1546.5 244.1 L1547.2 243.9 L1547.9 244.0 L1548.6 243.9 L1549.3 244.0 L1550.0 243.9 L1550.6 243.8 L1551.3 243.6 L1552.0 243.5 L1552.7 243.4 L1553.4 243.6 L1554.0 243.5 L1554.7 243.6 L1555.4 243.6 L1556.1 243.4 L1556.8 243.3 L1557.5 243.2 L1558.1 243.0 L1558.8 243.1 L1559.5 243.0 L1560.2 242.9 L1560.9 242.8 L1561.6 242.8 L1562.2 242.6 L1562.9 242.5 L1563.6 242.5 L1564.3 242.4 L1565.0 242.2 L1565.7 242.0 L1566.3 241.7 L1567.0 241.4 L1567.7 241.3 L1568.4 241.1 L1569.1 240.9 L1569.8 240.5 L1570.4 240.3 L1571.1 240.2 L1571.8 240.1 L1572.5 239.7 L1573.2 239.4 L1573.9 239.2 L1574.5 239.1 L1575.2 238.8 L1575.9 238.7 L1576.6 238.5 L1577.3 238.3 L1577.9 238.2 L1578.6 238.0 L1579.3 237.7 L1580.0 237.7 L1580.7 237.7 L1581.4 237.5 L1582.0 237.6 L1582.7 237.7 L1583.4 237.8 L1584.1 238.0 L1584.8 238.3 L1585.5 238.5 L1586.1 238.5 L1586.8 238.8 L1587.5 238.9 L1588.2 239.2 L1588.9 239.3 L1589.6 239.4 L1590.2 239.7 L1590.9 240.1 L1591.6 240.2 L1592.3 240.5 L1593.0 240.6 L1593.7 241.0 L1594.3 241.0 L1595.0 241.2 L1595.7 241.6 L1596.4 241.6 L1597.1 241.9 L1597.7 242.0 L1598.4 242.4 L1599.1 242.4 L1599.8 242.5 L1600.5 242.6 L1601.2 242.9 L1601.8 243.1 L1602.5 243.2 L1603.2 243.2 L1603.9 243.4 L1604.6 243.5 L1605.3 243.5 L1605.9 243.7 L1606.6 243.6 L1607.3 243.6 L1608.0 243.7 L1608.7 243.6 L1609.4 243.5 L1610.0 243.7 L1610.7 243.6 L1611.4 243.7 L1612.1 243.8 L1612.8 243.9 L1613.5 243.8 L1614.1 243.8 L1614.8 243.8 L1615.5 243.8 L1616.2 243.8 L1616.9 243.8 L1617.6 244.0 L1618.2 244.0 L1618.9 243.9 L1619.6 243.9 L1620.3 244.0 L1621.0 244.0 L1621.6 244.0 L1622.3 244.1 L1623.0 244.3 L1623.7 244.2 L1624.4 244.2 L1625.1 244.3 L1625.7 244.3 L1626.4 244.3 L1627.1 244.5 L1627.8 244.3 L1628.5 244.2 L1629.2 244.1 L1629.8 244.1 L1630.5 244.2 L1631.2 244.2 L1631.9 244.1 L1632.6 244.0 L1633.3 244.1 L1633.9 244.1 L1634.6 244.2 L1635.3 244.3 L1636.0 244.3 L1636.7 244.2 L1637.4 244.2 L1638.0 244.1 L1638.7 244.2 L1639.4 244.2 L1640.1 244.2 L1640.8 244.3 L1641.4 244.2 L1642.1 244.2 L1642.8 244.2 L1643.5 244.4 L1644.2 244.2 L1644.9 244.2 L1645.5 244.1 L1646.2 244.2 L1646.9 244.3 L1647.6 244.4 L1648.3 244.4 L1649.0 244.4 L1649.6 244.4 L1650.3 244.5 L1651.0 244.5 L1651.7 244.5 L1652.4 244.3 L1653.1 244.3 L1653.7 244.5 L1654.4 244.3 L1655.1 244.3 L1655.8 244.4 L1656.5 244.3 L1657.2 244.2 L1657.8 244.4 L1658.5 244.3 L1659.2 244.4 L1659.9 244.5 L1660.6 244.4 L1661.3 244.3 L1661.9 244.5 L1662.6 244.4 L1663.3 244.3 L1664.0 244.5 L1664.7 244.6 L1665.3 244.4 L1666.0 244.3 L1666.7 244.3 L1667.4 244.3 L1668.1 244.5 L1668.8 244.6 L1669.4 244.4 L1670.1 244.3 L1670.8 244.4 L1671.5 244.6 L1672.2 244.6 L1672.9 244.5 L1673.5 244.5 L1674.2 244.3 L1674.9 244.5 L1675.6 244.5 L1676.3 244.5 L1677.0 244.4 L1677.6 244.3 L1678.3 244.4 L1679.0 244.5 L1679.7 244.6 L1680.4 244.5 L1681.1 244.4 L1681.7 244.5 L1682.4 244.5 L1683.1 244.3 L1683.8 244.4 L1684.5 244.4 L1685.1 244.5 L1685.8 244.4 L1686.5 244.4 L1687.2 244.5 L1687.9 244.4 L1688.6 244.4 L1689.2 244.4 L1689.9 244.4 L1690.6 244.5 L1691.3 244.6 L1692.0 244.7 L1692.7 244.6 L1693.3 244.7 L1694.0 244.6 L1694.7 244.6 L1695.4 244.5 L1696.1 244.5 L1696.8 244.6 L1697.4 244.6 L1698.1 244.7 L1698.8 244.7 L1699.5 244.5 L1700.2 244.4 L1700.9 244.3 L1701.5 244.3 L1702.2 244.3 L1702.9 244.2 L1703.6 244.4 L1704.3 244.5 L1705.0 244.4 L1705.6 244.5 L1706.3 244.4 L1707.0 244.3 L1707.7 244.2 L1708.4 244.4 L1709.0 244.4 L1709.7 244.4 L1710.4 244.4 L1711.1 244.3 L1711.8 244.4 L1712.5 244.6 L1713.1 244.7 L1713.8 244.6 L1714.5 244.6 L1715.2 244.5 L1715.9 244.6 L1716.6 244.5 L1717.2 244.4 L1717.9 244.5 L1718.6 244.5 L1719.3 244.3 L1720.0 244.3 L1720.7 244.5 L1721.3 244.6 L1722.0 244.6 L1722.7 244.4 L1723.4 244.4 L1724.1 244.3 L1724.8 244.2 L1725.4 244.4 L1726.1 244.3 L1726.8 244.5 L1727.5 244.5 L1728.2 244.6 L1728.8 244.7 L1729.5 244.5 L1730.2 244.4 L1730.9 244.3 L1731.6 244.3 L1732.3 244.5 L1732.9 244.6 L1733.6 244.6 L1734.3 244.6 L1735.0 244.5 L1735.7 244.5 L1736.4 244.4 L1737.0 244.5 L1737.7 244.4 L1738.4 244.3 L1739.1 244.5 L1739.8 244.5 L1740.5 244.3 L1741.1 244.2 L1741.8 244.4 L1742.5 244.4 L1743.2 244.5 L1743.9 244.6 L1744.6 244.4 L1745.2 244.5 L1745.9 244.6 L1746.6 244.4 L1747.3 244.3 L1748.0 244.5 L1748.7 244.6 L1749.3 244.6 L1750.0 244.6 L1750.7 244.6 L1751.4 244.7 L1752.1 244.6 L1752.7 244.5 L1753.4 244.5 L1754.1 244.5 L1754.8 244.4 L1755.5 244.5 L1756.2 244.6 L1756.8 244.6 L1757.5 244.7 L1758.2 244.7 L1758.9 244.8 L1759.6 244.6 L1760.3 244.4 L1760.9 244.4 L1761.6 244.4 L1762.3 244.4 L1763.0 244.3 L1763.7 244.5 L1764.4 244.4 L1765.0 244.3 L1765.7 244.4 L1766.4 244.6 L1767.1 244.4 L1767.8 244.3 L1768.5 244.3 L1769.1 244.3 L1769.8 244.2 L1770.5 244.2 L1771.2 244.1 L1771.9 244.4 L1772.5 244.4 L1773.2 244.4 L1773.9 244.4 L1774.6 244.5 L1775.3 244.6 L1776.0 244.7 L1776.6 244.5 L1777.3 244.6 L1778.0 244.6 L1778.7 244.5 L1779.4 244.5 L1780.1 244.5 L1780.7 244.5 L1781.4 244.5 L1782.1 244.4 L1782.8 244.4 L1783.5 244.4 L1784.2 244.5 L1784.8 244.5 L1785.5 244.7 L1786.2 244.6 L1786.9 244.7 L1787.6 244.7 L1788.3 244.6 L1788.9 244.6 L1789.6 244.5 L1790.3 244.4 L1791.0 244.6 L1791.7 244.7 L1792.4 244.8 L1793.0 244.7 L1793.7 244.6 L1794.4 244.7 L1795.1 244.6 L1795.8 244.6 L1796.4 244.6 L1797.1 244.5 L1797.8 244.4 L1798.5 244.5 L1799.2 244.4 L1799.9 244.3 L1800.5 244.2 L1801.2 244.4 L1801.9 244.5 L1802.6 244.6 L1803.3 244.6 L1804.0 244.5 L1804.6 244.5 L1805.3 244.7 L1806.0 244.7 L1806.7 244.6 L1807.4 244.7 L1808.1 244.8 L1808.7 244.6 L1809.4 244.4 L1810.1 244.3 L1810.8 244.4 L1811.5 244.4 L1812.2 244.3 L1812.8 244.3 L1813.5 244.4 L1814.2 244.4 L1814.9 244.4 L1815.6 244.5 L1816.2 244.4 L1816.9 244.3 L1817.6 244.5 L1818.3 244.6 L1819.0 244.6 L1819.7 244.5 L1820.3 244.4 L1821.0 244.5 L1821.7 244.6 L1822.4 244.7 L1823.1 244.8 L1823.8 244.8 L1824.4 244.9 L1825.1 244.7 L1825.8 244.8 L1826.5 244.6 L1827.2 244.6 L1827.9 244.5 L1828.5 244.6 L1829.2 244.6 L1829.9 244.6 L1830.6 244.6 L1831.3 244.6 L1832.0 244.5 L1832.6 244.4 L1833.3 244.4 L1834.0 244.4 L1834.7 244.5 L1835.4 244.4 L1836.1 244.4 L1836.7 244.6 L1837.4 244.8 L1838.1 244.7 L1838.8 244.7 L1839.5 244.7 L1840.1 244.8 L1840.8 244.6 L1841.5 244.7 L1842.2 244.8 L1842.9 244.8 L1843.6 244.9 L1844.2 244.9 L1844.9 244.7 L1845.6 244.7 L1846.3 244.5 L1847.0 244.7 L1847.7 244.5 L1848.3 244.5 L1849.0 244.6 L1849.7 244.6 L1850.4 244.5 L1851.1 244.6 L1851.8 244.5 L1852.4 244.4 L1853.1 244.4 L1853.8 244.3 L1854.5 244.5 L1855.2 244.5 L1855.9 244.6 L1856.5 244.7 L1857.2 244.7 L1857.9 244.5 L1858.6 244.6 L1859.3 244.6 L1860.0 244.5 L1860.6 244.6 L1861.3 244.8 L1862.0 244.9 L1862.7 244.8 L1863.4 244.6 L1864.0 244.7 L1864.7 244.6 L1865.4 244.7 L1866.1 244.5 L1866.8 244.6 L1867.5 244.5 L1868.1 244.6 L1868.8 244.5 L1869.5 244.4 L1870.2 244.3 L1870.9 244.4 L1871.6 244.3 L1872.2 244.4 L1872.9 244.3 L1873.6 244.5 L1874.3 244.6 L1875.0 244.7 L1875.7 244.8 L1876.3 244.7 L1877.0 244.6 L1877.7 244.7 L1878.4 244.5 L1879.1 244.4 L1879.8 244.5 L1880.4 244.5 L1881.1 244.5 L1881.8 244.5 L1882.5 244.6 L1883.2 244.5 L1883.8 244.6 L1884.5 244.5 L1885.2 244.6 L1885.9 244.6 L1886.6 244.6 L1887.3 244.5 L1887.9 244.6 L1888.6 244.5 L1889.3 244.4 L1890.0 244.5 L1890.7 244.4 L1891.4 244.3 L1892.0 244.5 L1892.7 244.6 L1893.4 244.6 L1894.1 244.7 L1894.8 244.9 L1895.5 244.8 L1896.1 244.6 L1896.8 244.5 L1897.5 244.6 L1898.2 244.5 L1898.9 244.5 L1899.6 244.4 L1900.2 244.6 L1900.9 244.6 L1901.6 244.4 L1902.3 244.5 L1903.0 244.6 L1903.7 244.4 L1904.3 244.6 L1905.0 244.6 L1905.7 244.5 L1906.4 244.6 L1907.1 244.6 L1907.7 244.6 L1908.4 244.6 L1909.1 244.7 L1909.8 244.8 L1910.5 244.7 L1911.2 244.7 L1911.8 244.5 L1912.5 244.5 L1913.2 244.5 L1913.9 244.6 L1914.6 244.5 L1915.3 244.4 L1915.9 244.4 L1916.6 244.5 L1917.3 244.6 L1918.0 244.6 L1918.7 244.6 L1919.4 244.7 L1920.0 244.6 L1920.7 244.4 L1921.4 244.4 L1922.1 244.5 L1922.8 244.4 L1923.5 244.6 L1924.1 244.7 L1924.8 244.8 L1925.5 244.7 L1926.2 244.6 L1926.9 244.6 L1927.5 244.5 L1928.2 244.5 L1928.9 244.4 L1929.6 244.6 L1930.3 244.6 L1931.0 244.8 L1931.6 244.7 L1932.3 244.7 L1933.0 244.8 L1933.7 244.6 L1934.4 244.8 L1935.1 244.7 L1935.7 244.6 L1936.4 244.6 L1937.1 244.6 L1937.8 244.7 L1938.5 244.6 L1939.2 244.7 L1939.8 244.7 L1940.5 244.7 L1941.2 244.5 L1941.9 244.7 L1942.6 244.6 L1943.3 244.8 L1943.9 244.8 L1944.6 244.6 L1945.3 244.5 L1946.0 244.4 L1946.7 244.5 L1947.4 244.7 L1948.0 244.8 L1948.7 244.8 L1949.4 244.9 L1950.1 244.9 L1950.8 244.9 L1951.4 244.8 L1952.1 244.8 L1952.8 244.6 L1953.5 244.5 L1954.2 244.5 L1954.9 244.6 L1955.5 244.6 L1956.2 244.7 L1956.9 244.6 L1957.6 244.5 L1958.3 244.7 L1959.0 244.8 L1959.6 244.7 L1960.3 244.7 L1961.0 244.8 L1961.7 244.8 L1962.4 244.7 L1963.1 244.6 L1963.7 244.5 L1964.4 244.6 L1965.1 244.4 L1965.8 244.6 L1966.5 244.8 L1967.2 244.8 L1967.8 244.8 L1968.5 244.8 L1969.2 244.7 L1969.9 244.5 L1970.6 244.7 L1971.2 244.6 L1971.9 244.6 L1972.6 244.6 L1973.3 244.7 L1974.0 244.7 L1974.7 244.5 L1975.3 244.6 L1976.0 244.5 L1976.7 244.7 L1977.4 244.6 L1978.1 244.7 L1978.8 244.7 L1979.4 244.5 L1980.1 244.7 L1980.8 244.7 L1981.5 244.6 L1982.2 244.6 L1982.9 244.7 L1983.5 244.8 L1984.2 244.8 L1984.9 244.9 L1985.6 244.8 L1986.3 244.8 L1987.0 244.7 L1987.6 244.8 L1988.3 244.6 L1989.0 244.6 L1989.7 244.7 L1990.4 244.6 L1991.1 244.8 L1991.7 244.8 L1992.4 244.6 L1993.1 244.7 L1993.8 244.7 L1994.5 244.8 L1995.1 244.7 L1995.8 244.7 L1996.5 244.7 L1997.2 244.7 L1997.9 244.8 L1998.6 244.6 L1999.2 244.5 L1999.9 244.6 L2000.6 244.5 L2001.3 244.6 L2002.0 244.7 L2002.7 244.7 L2003.3 244.7 L2004.0 244.5 L2004.7 244.7 L2005.4 244.7 L2006.1 244.6 L2006.8 244.8 L2007.4 244.6 L2008.1 244.6 L2008.8 244.7 L2009.5 244.7 L2010.2 244.7 L2010.9 244.6 L2011.5 244.6 L2012.2 244.7 L2012.9 244.8 L2013.6 244.6 L2014.3 244.8 L2014.9 244.8 L2015.6 244.9 L2016.3 244.9 L2017.0 245.0 L2017.7 244.9 L2018.4 244.9 L2019.0 244.9 L2019.7 244.7 L2020.4 244.7 L2021.1 244.6 L2021.8 244.7 L2022.5 244.6 L2023.1 244.5 L2023.8 244.5 L2024.5 244.6 L2025.2 244.7 L2025.9 244.6 L2026.6 244.6 L2027.2 244.6 L2027.9 244.8 L2028.6 244.6 L2029.3 244.5 L2030.0 244.5 L2030.7 244.7 L2031.3 244.6 L2032.0 244.5 L2032.7 244.5 L2033.4 244.4 L2034.1 244.5 L2034.8 244.7 L2035.4 244.7 L2036.1 244.5 L2036.8 244.5 L2037.5 244.5 L2038.2 244.6 L2038.8 244.7 L2039.5 244.8 L2040.2 244.7 L2040.9 244.7 L2041.6 244.8 L2042.3 244.8 L2042.9 244.9 L2043.6 244.9 L2044.3 244.7 L2045.0 244.6 L2045.7 244.7 L2046.4 244.7 L2047.0 244.7 L2047.7 244.6 L2048.4 244.7 L2049.1 244.8 L2049.8 244.7 L2050.5 244.8 L2051.1 244.8 L2051.8 244.8 L2052.5 244.8 L2053.2 244.6 L2053.9 244.7 L2054.6 244.6 L2055.2 244.7 L2055.9 244.6 L2056.6 244.7 L2057.3 244.7 L2058.0 244.6 L2058.6 244.6 L2059.3 244.5 L2060.0 244.4 L2060.7 244.4 L2061.4 244.4 L2062.1 244.4 L2062.7 244.7 L2063.4 244.8 L2064.1 244.7 L2064.8 244.9 L2065.5 244.8 L2066.2 244.9 L2066.8 244.8 L2067.5 244.8 L2068.2 244.6 L2068.9 244.7 L2069.6 244.6 L2070.3 244.5 L2070.9 244.6 L2071.6 244.5 L2072.3 244.6 L2073.0 244.5 L2073.7 244.4 L2074.4 244.3 L2075.0 244.3 L2075.7 244.3 L2076.4 244.5 L2077.1 244.4 L2077.8 244.3 L2078.5 244.5 L2079.1 244.6 L2079.8 244.6 L2080.5 244.7 L2081.2 244.6 L2081.9 244.5 L2082.5 244.6 L2083.2 244.6 L2083.9 244.5 L2084.6 244.7 L2085.3 244.6 L2086.0 244.6 L2086.6 244.7 L2087.3 244.7 L2088.0 244.8 L2088.7 244.8 L2089.4 244.6 L2090.1 244.6 L2090.7 244.5 L2091.4 244.6 L2092.1 244.7 L2092.8 244.5 L2093.5 244.6 L2094.2 244.7 L2094.8 244.8 L2095.5 244.8 L2096.2 244.8 L2096.9 244.8 L2097.6 244.9 L2098.3 244.7 L2098.9 244.8 L2099.6 244.8 L2100.3 244.8 L2101.0 244.8 L2101.7 244.9 L2102.3 244.7 L2103.0 244.8 L2103.7 244.6 L2104.4 244.6 L2105.1 244.6 L2105.8 244.6 L2106.4 244.5 L2107.1 244.5 L2107.8 244.4 L2108.5 244.6 L2109.2 244.5 L2109.9 244.6 L2110.5 244.8 L2111.2 244.8 L2111.9 244.7 L2112.6 244.6 L2113.3 244.7 L2114.0 244.5 L2114.6 244.4 L2115.3 244.4 L2116.0 244.5 L2116.7 244.6 L2117.4 244.5 L2118.1 244.4 L2118.7 244.6 L2119.4 244.6 L2120.1 244.7 L2120.8 244.6 L2121.5 244.5 L2122.2 244.5 L2122.8 244.5 L2123.5 244.5 L2124.2 244.5 L2124.9 244.4 L2125.6 244.4 L2126.2 244.5 L2126.9 244.6 L2127.6 244.4 L2128.3 244.3 L2129.0 244.4 L2129.7 244.3 L2130.3 244.2 L2131.0 244.3 L2131.7 244.2 L2132.4 244.3 L2133.1 244.4 L2133.8 244.3 L2134.4 244.2 L2135.1 244.1 L2135.8 244.0 L2136.5 244.2 L2137.2 244.1 L2137.9 244.2 L2138.5 244.3 L2139.2 244.2 L2139.9 244.2 L2140.6 244.3 L2141.3 244.3 L2142.0 244.2 L2142.6 244.1 L2143.3 243.9 L2144.0 243.7 L2144.7 243.7 L2145.4 243.7 L2146.0 243.8 L2146.7 243.8 L2147.4 243.6 L2148.1 243.6 L2148.8 243.6 L2149.5 243.4 L2150.1 243.2 L2150.8 243.2 L2151.5 243.1 L2152.2 242.8 L2152.9 242.5 L2153.6 242.4 L2154.2 242.2 L2154.9 242.1 L2155.6 241.9 L2156.3 241.7 L2157.0 241.5 L2157.7 241.3 L2158.3 240.9 L2159.0 240.5 L2159.7 240.0 L2160.4 239.5 L2161.1 239.1 L2161.8 238.6 L2162.4 238.3 L2163.1 237.6 L2163.8 237.1 L2164.5 236.6 L2165.2 236.0 L2165.9 235.4 L2166.5 234.8 L2167.2 234.3 L2167.9 233.8 L2168.6 233.5 L2169.3 233.1 L2169.9 232.7 L2170.6 232.5 L2171.3 232.3 L2172.0 232.0 L2172.7 231.8 L2173.4 231.8 L2174.0 231.9 L2174.7 232.1 L2175.4 232.5 L2176.1 232.7 L2176.8 233.0 L2177.5 233.6 L2178.1 234.0 L2178.8 234.5 L2179.5 234.9 L2180.2 235.5 L2180.9 236.1 L2181.6 236.6 L2182.2 237.1 L2182.9 237.7 L2183.6 238.2 L2184.3 238.8 L2185.0 239.2 L2185.7 239.7 L2186.3 240.1 L2187.0 240.6 L2187.7 240.9 L2188.4 241.1 L2189.1 241.4 L2189.7 241.7 L2190.4 242.0 L2191.1 242.2 L2191.8 242.3 L2192.5 242.6 L2193.2 242.9 L2193.8 243.1 L2194.5 243.1 L2195.2 243.0 L2195.9 243.2 L2196.6 243.3 L2197.3 243.5 L2197.9 243.5 L2198.6 243.5 L2199.3 243.8 L2200.0 243.8 L2200.7 243.9 L2201.4 243.8 L2202.0 243.9 L2202.7 243.8 L2203.4 243.9 L2204.1 244.1 L2204.8 244.1 L2205.5 244.0 L2206.1 244.1 L2206.8 244.2 L2207.5 244.3 L2208.2 244.4 L2208.9 244.2 L2209.6 244.2 L2210.2 244.1 L2210.9 244.2 L2211.6 244.4 L2212.3 244.2 L2213.0 244.4 L2213.6 244.4 L2214.3 244.3 L2215.0 244.4 L2215.7 244.3 L2216.4 244.2 L2217.1 244.3 L2217.7 244.3 L2218.4 244.3 L2219.1 244.4 L2219.8 244.3 L2220.5 244.4 L2221.2 244.3 L2221.8 244.2 L2222.5 244.3 L2223.2 244.4 L2223.9 244.4 L2224.6 244.3 L2225.3 244.3 L2225.9 244.4 L2226.6 244.6 L2227.3 244.7 L2228.0 244.5 L2228.7 244.4 L2229.4 244.3 L2230.0 244.3 L2230.7 244.3 L2231.4 244.4 L2232.1 244.4 L2232.8 244.4 L2233.4 244.7 L2234.1 244.8 L2234.8 244.6 L2235.5 244.8 L2236.2 244.7 L2236.9 244.7 L2237.5 244.9 L2238.2 244.7 L2238.9 244.5 L2239.6 244.6 L2240.3 244.5 L2241.0 244.6 L2241.6 244.6 L2242.3 244.5 L2243.0 244.6 L2243.7 244.6 L2244.4 244.6 L2245.1 244.6 L2245.7 244.5 L2246.4 244.4 L2247.1 244.6 L2247.8 244.7 L2248.5 244.9 L2249.2 244.7 L2249.8 244.8 L2250.5 244.7 L2251.2 244.7 L2251.9 244.6 L2252.6 244.7 L2253.2 244.7 L2253.9 244.6 L2254.6 244.7 L2255.3 244.6 L2256.0 244.6 L2256.7 244.7 L2257.3 244.9 L2258.0 244.9 L2258.7 244.9 L2259.4 244.8 L2260.1 244.7 L2260.8 244.6 L2261.4 244.8 L2262.1 244.8 L2262.8 244.9 L2263.5 245.0 L2264.2 244.9 L2264.9 244.7 L2265.5 244.9 L2266.2 244.9 L2266.9 245.0 L2267.6 244.8 L2268.3 244.8 L2269.0 244.8 L2269.6 244.9 L2270.3 245.0 L2271.0 245.0 L2271.7 245.0 L2272.4 245.0 L2273.1 244.9 L2273.7 244.7 L2274.4 244.9 L2275.1 244.9 L2275.8 244.9 L2276.5 245.0 L2277.1 244.9 L2277.8 244.8 L2278.5 244.8 L2279.2 244.7 L2279.9 244.8 L2280.6 244.7 L2281.2 244.8 L2281.9 244.8 L2282.6 244.7 L2283.3 244.7 L2284.0 244.8 L2284.7 244.8 L2285.3 244.8 L2286.0 244.8 L2286.7 244.8 L2287.4 244.7 L2288.1 244.8 L2288.8 244.9 L2289.4 244.8 L2290.1 244.9 L2290.8 245.0 L2291.5 244.8 L2292.2 244.7 L2292.9 244.7 L2293.5 244.6 L2294.2 244.7 L2294.9 244.6 L2295.6 244.5 L2296.3 244.5 L2296.9 244.6 L2297.6 244.8 L2298.3 244.6 L2299.0 244.9 L2299.7 244.9 L2300.4 244.9 L2301.0 244.8 L2301.7 244.8 L2302.4 244.7 L2303.1 244.7 L2303.8 244.7 L2304.5 244.8 L2305.1 244.9 L2305.8 245.0 L2306.5 244.8 L2307.2 244.6 L2307.9 244.7 L2308.6 244.7 L2309.2 244.9 L2309.9 244.9 L2310.6 244.8 L2311.3 244.9 L2312.0 244.9 L2312.7 245.0 L2313.3 245.0 L2314.0 245.0 L2314.7 244.8 L2315.4 244.9 L2316.1 244.8 L2316.8 244.9 L2317.4 244.9 L2318.1 244.7 L2318.8 244.8 L2319.5 244.9 L2320.2 244.9 L2320.8 245.0 L2321.5 244.9 L2322.2 244.8 L2322.9 244.6 L2323.6 244.5 L2324.3 244.5 L2324.9 244.5 L2325.6 244.6 L2326.3 244.8 L2327.0 244.8 L2327.7 245.0 L2328.4 244.9 L2329.0 244.8 L2329.7 244.7 L2330.4 244.6 L2331.1 244.5 L2331.8 244.6 L2332.5 244.7 L2333.1 244.8 L2333.8 244.8 L2334.5 244.7 L2335.2 244.8 L2335.9 244.8 L2336.6 245.0 L2337.2 245.0 L2337.9 244.9 L2338.6 244.8 L2339.3 244.8 L2340.0 244.9 L2340.7 244.8 L2341.3 244.9 L2342.0 245.0 L2342.7 244.9 L2343.4 244.9 L2344.1 244.8 L2344.7 244.9 L2345.4 244.8 L2346.1 244.7 L2346.8 244.9 L2347.5 244.9 L2348.2 244.9 L2348.8 244.9 L2349.5 245.0 L2350.2 245.0 L2350.9 245.0 L2351.6 245.0 L2352.3 244.8 L2352.9 244.8 L2353.6 244.7 L2354.3 244.8 L2355.0 244.7 L2355.7 244.8 L2356.4 245.0 L2357.0 244.9 L2357.7 245.0 L2358.4 245.1 L2359.1 245.1 L2359.8 244.9 L2360.5 244.8 L2361.1 244.8 L2361.8 244.7 L2362.5 244.7" fill="none" stroke="#5ADAFE" stroke-width="9" stroke-linejoin="round" stroke-linecap="butt"/>
<path d="M177.5 337.4 L178.2 337.5 L178.9 337.3 L179.5 337.3 L180.2 337.3 L180.9 337.4 L181.6 337.5 L182.3 337.6 L183.0 337.5 L183.6 337.5 L184.3 337.5 L185.0 337.3 L185.7 337.2 L186.4 337.1 L187.1 337.3 L187.7 337.2 L188.4 337.2 L189.1 337.2 L189.8 337.1 L190.5 337.0 L191.2 337.0 L191.8 337.1 L192.5 337.2 L193.2 337.2 L193.9 337.3 L194.6 337.5 L195.3 337.6 L195.9 337.4 L196.6 337.3 L197.3 337.2 L198.0 337.3 L198.7 337.3 L199.4 337.2 L200.0 337.2 L200.7 337.2 L201.4 337.2 L202.1 337.1 L202.8 337.4 L203.4 337.4 L204.1 337.3 L204.8 337.2 L205.5 337.4 L206.2 337.5 L206.9 337.4 L207.5 337.3 L208.2 337.2 L208.9 337.3 L209.6 337.3 L210.3 337.2 L211.0 337.2 L211.6 337.3 L212.3 337.3 L213.0 337.3 L213.7 337.3 L214.4 337.4 L215.1 337.4 L215.7 337.4 L216.4 337.5 L217.1 337.4 L217.8 337.3 L218.5 337.2 L219.2 337.2 L219.8 337.3 L220.5 337.5 L221.2 337.5 L221.9 337.3 L222.6 337.3 L223.2 337.2 L223.9 337.2 L224.6 337.3 L225.3 337.2 L226.0 337.1 L226.7 337.2 L227.3 337.1 L228.0 337.3 L228.7 337.2 L229.4 337.2 L230.1 337.1 L230.8 337.1 L231.4 337.3 L232.1 337.4 L232.8 337.6 L233.5 337.6 L234.2 337.7 L234.9 337.6 L235.5 337.5 L236.2 337.6 L236.9 337.5 L237.6 337.4 L238.3 337.3 L239.0 337.3 L239.6 337.2 L240.3 337.4 L241.0 337.5 L241.7 337.5 L242.4 337.4 L243.1 337.4 L243.7 337.4 L244.4 337.3 L245.1 337.5 L245.8 337.5 L246.5 337.3 L247.1 337.3 L247.8 337.3 L248.5 337.4 L249.2 337.2 L249.9 337.2 L250.6 337.3 L251.2 337.4 L251.9 337.3 L252.6 337.2 L253.3 337.2 L254.0 337.1 L254.7 337.1 L255.3 337.1 L256.0 337.0 L256.7 337.2 L257.4 337.1 L258.1 337.3 L258.8 337.3 L259.4 337.5 L260.1 337.4 L260.8 337.3 L261.5 337.3 L262.2 337.5 L262.9 337.5 L263.5 337.5 L264.2 337.4 L264.9 337.4 L265.6 337.4 L266.3 337.3 L266.9 337.2 L267.6 337.2 L268.3 337.1 L269.0 337.3 L269.7 337.4 L270.4 337.3 L271.0 337.3 L271.7 337.4 L272.4 337.5 L273.1 337.4 L273.8 337.4 L274.5 337.5 L275.1 337.3 L275.8 337.3 L276.5 337.3 L277.2 337.4 L277.9 337.5 L278.6 337.5 L279.2 337.3 L279.9 337.4 L280.6 337.3 L281.3 337.3 L282.0 337.2 L282.7 337.1 L283.3 337.3 L284.0 337.2 L284.7 337.2 L285.4 337.3 L286.1 337.4 L286.8 337.5 L287.4 337.4 L288.1 337.5 L288.8 337.6 L289.5 337.3 L290.2 337.3 L290.8 337.2 L291.5 337.2 L292.2 337.1 L292.9 337.2 L293.6 337.1 L294.3 337.2 L294.9 337.4 L295.6 337.5 L296.3 337.4 L297.0 337.3 L297.7 337.2 L298.4 337.2 L299.0 337.1 L299.7 337.3 L300.4 337.2 L301.1 337.3 L301.8 337.2 L302.5 337.4 L303.1 337.5 L303.8 337.5 L304.5 337.3 L305.2 337.4 L305.9 337.4 L306.6 337.4 L307.2 337.5 L307.9 337.5 L308.6 337.6 L309.3 337.6 L310.0 337.4 L310.6 337.5 L311.3 337.3 L312.0 337.5 L312.7 337.5 L313.4 337.5 L314.1 337.5 L314.7 337.6 L315.4 337.4 L316.1 337.5 L316.8 337.5 L317.5 337.6 L318.2 337.6 L318.8 337.6 L319.5 337.6 L320.2 337.6 L320.9 337.7 L321.6 337.5 L322.3 337.5 L322.9 337.5 L323.6 337.6 L324.3 337.4 L325.0 337.3 L325.7 337.2 L326.4 337.3 L327.0 337.3 L327.7 337.3 L328.4 337.3 L329.1 337.4 L329.8 337.3 L330.5 337.3 L331.1 337.2 L331.8 337.3 L332.5 337.4 L333.2 337.5 L333.9 337.4 L334.5 337.4 L335.2 337.4 L335.9 337.4 L336.6 337.3 L337.3 337.3 L338.0 337.4 L338.6 337.3 L339.3 337.3 L340.0 337.4 L340.7 337.5 L341.4 337.5 L342.1 337.6 L342.7 337.6 L343.4 337.4 L344.1 337.4 L344.8 337.3 L345.5 337.3 L346.2 337.4 L346.8 337.3 L347.5 337.5 L348.2 337.3 L348.9 337.2 L349.6 337.2 L350.3 337.2 L350.9 337.4 L351.6 337.5 L352.3 337.5 L353.0 337.4 L353.7 337.4 L354.3 337.2 L355.0 337.2 L355.7 337.3 L356.4 337.5 L357.1 337.3 L357.8 337.2 L358.4 337.2 L359.1 337.4 L359.8 337.6 L360.5 337.6 L361.2 337.6 L361.9 337.6 L362.5 337.5 L363.2 337.3 L363.9 337.3 L364.6 337.3 L365.3 337.3 L366.0 337.4 L366.6 337.5 L367.3 337.6 L368.0 337.5 L368.7 337.5 L369.4 337.6 L370.1 337.4 L370.7 337.3 L371.4 337.2 L372.1 337.4 L372.8 337.3 L373.5 337.4 L374.1 337.4 L374.8 337.3 L375.5 337.4 L376.2 337.5 L376.9 337.5 L377.6 337.5 L378.2 337.4 L378.9 337.4 L379.6 337.5 L380.3 337.4 L381.0 337.5 L381.7 337.4 L382.3 337.3 L383.0 337.2 L383.7 337.1 L384.4 337.3 L385.1 337.2 L385.8 337.2 L386.4 337.3 L387.1 337.3 L387.8 337.2 L388.5 337.1 L389.2 337.1 L389.9 337.3 L390.5 337.5 L391.2 337.6 L391.9 337.4 L392.6 337.2 L393.3 337.3 L394.0 337.5 L394.6 337.6 L395.3 337.4 L396.0 337.5 L396.7 337.5 L397.4 337.3 L398.0 337.2 L398.7 337.2 L399.4 337.3 L400.1 337.4 L400.8 337.4 L401.5 337.6 L402.1 337.5 L402.8 337.3 L403.5 337.2 L404.2 337.2 L404.9 337.3 L405.6 337.3 L406.2 337.2 L406.9 337.4 L407.6 337.4 L408.3 337.5 L409.0 337.6 L409.7 337.4 L410.3 337.2 L411.0 337.2 L411.7 337.2 L412.4 337.3 L413.1 337.4 L413.8 337.4 L414.4 337.4 L415.1 337.3 L415.8 337.3 L416.5 337.4 L417.2 337.4 L417.8 337.4 L418.5 337.3 L419.2 337.3 L419.9 337.4 L420.6 337.5 L421.3 337.6 L421.9 337.6 L422.6 337.6 L423.3 337.7 L424.0 337.6 L424.7 337.6 L425.4 337.6 L426.0 337.6 L426.7 337.4 L427.4 337.5 L428.1 337.5 L428.8 337.5 L429.5 337.5 L430.1 337.6 L430.8 337.7 L431.5 337.7 L432.2 337.8 L432.9 337.6 L433.6 337.5 L434.2 337.5 L434.9 337.4 L435.6 337.3 L436.3 337.5 L437.0 337.6 L437.7 337.4 L438.3 337.5 L439.0 337.4 L439.7 337.5 L440.4 337.5 L441.1 337.4 L441.7 337.5 L442.4 337.6 L443.1 337.5 L443.8 337.4 L444.5 337.3 L445.2 337.4 L445.8 337.5 L446.5 337.6 L447.2 337.5 L447.9 337.5 L448.6 337.6 L449.3 337.5 L449.9 337.6 L450.6 337.3 L451.3 337.2 L452.0 337.2 L452.7 337.1 L453.4 337.3 L454.0 337.2 L454.7 337.2 L455.4 337.2 L456.1 337.4 L456.8 337.5 L457.5 337.4 L458.1 337.5 L458.8 337.5 L459.5 337.6 L460.2 337.7 L460.9 337.5 L461.6 337.3 L462.2 337.4 L462.9 337.4 L463.6 337.3 L464.3 337.3 L465.0 337.4 L465.6 337.4 L466.3 337.4 L467.0 337.3 L467.7 337.4 L468.4 337.4 L469.1 337.3 L469.7 337.5 L470.4 337.5 L471.1 337.6 L471.8 337.4 L472.5 337.3 L473.2 337.5 L473.8 337.4 L474.5 337.4 L475.2 337.5 L475.9 337.4 L476.6 337.3 L477.3 337.2 L477.9 337.4 L478.6 337.5 L479.3 337.4 L480.0 337.5 L480.7 337.6 L481.4 337.4 L482.0 337.3 L482.7 337.4 L483.4 337.4 L484.1 337.4 L484.8 337.3 L485.4 337.3 L486.1 337.4 L486.8 337.6 L487.5 337.5 L488.2 337.6 L488.9 337.5 L489.5 337.5 L490.2 337.4 L490.9 337.5 L491.6 337.5 L492.3 337.4 L493.0 337.5 L493.6 337.7 L494.3 337.7 L495.0 337.7 L495.7 337.6 L496.4 337.5 L497.1 337.3 L497.7 337.5 L498.4 337.5 L499.1 337.4 L499.8 337.5 L500.5 337.3 L501.2 337.5 L501.8 337.4 L502.5 337.3 L503.2 337.5 L503.9 337.3 L504.6 337.3 L505.3 337.4 L505.9 337.6 L506.6 337.7 L507.3 337.7 L508.0 337.5 L508.7 337.4 L509.3 337.4 L510.0 337.4 L510.7 337.6 L511.4 337.5 L512.1 337.7 L512.8 337.6 L513.4 337.7 L514.1 337.5 L514.8 337.3 L515.5 337.4 L516.2 337.5 L516.9 337.6 L517.5 337.5 L518.2 337.6 L518.9 337.6 L519.6 337.6 L520.3 337.5 L521.0 337.5 L521.6 337.6 L522.3 337.4 L523.0 337.4 L523.7 337.4 L524.4 337.3 L525.1 337.4 L525.7 337.5 L526.4 337.6 L527.1 337.7 L527.8 337.4 L528.5 337.6 L529.1 337.4 L529.8 337.3 L530.5 337.5 L531.2 337.6 L531.9 337.5 L532.6 337.4 L533.2 337.5 L533.9 337.6 L534.6 337.7 L535.3 337.5 L536.0 337.5 L536.7 337.4 L537.3 337.4 L538.0 337.4 L538.7 337.4 L539.4 337.4 L540.1 337.3 L540.8 337.4 L541.4 337.5 L542.1 337.5 L542.8 337.5 L543.5 337.6 L544.2 337.6 L544.9 337.6 L545.5 337.7 L546.2 337.7 L546.9 337.7 L547.6 337.8 L548.3 337.7 L549.0 337.5 L549.6 337.6 L550.3 337.7 L551.0 337.7 L551.7 337.7 L552.4 337.7 L553.0 337.6 L553.7 337.7 L554.4 337.6 L555.1 337.5 L555.8 337.4 L556.5 337.4 L557.1 337.2 L557.8 337.4 L558.5 337.6 L559.2 337.6 L559.9 337.5 L560.6 337.3 L561.2 337.4 L561.9 337.4 L562.6 337.5 L563.3 337.5 L564.0 337.4 L564.7 337.5 L565.3 337.6 L566.0 337.7 L566.7 337.6 L567.4 337.4 L568.1 337.4 L568.8 337.3 L569.4 337.4 L570.1 337.5 L570.8 337.6 L571.5 337.7 L572.2 337.6 L572.8 337.5 L573.5 337.6 L574.2 337.5 L574.9 337.5 L575.6 337.6 L576.3 337.6 L576.9 337.4 L577.6 337.5 L578.3 337.3 L579.0 337.5 L579.7 337.6 L580.4 337.6 L581.0 337.5 L581.7 337.5 L582.4 337.6 L583.1 337.5 L583.8 337.6 L584.5 337.5 L585.1 337.4 L585.8 337.3 L586.5 337.5 L587.2 337.5 L587.9 337.3 L588.6 337.4 L589.2 337.5 L589.9 337.6 L590.6 337.5 L591.3 337.4 L592.0 337.5 L592.6 337.5 L593.3 337.5 L594.0 337.5 L594.7 337.5 L595.4 337.5 L596.1 337.4 L596.7 337.4 L597.4 337.3 L598.1 337.4 L598.8 337.5 L599.5 337.6 L600.2 337.7 L600.8 337.6 L601.5 337.5 L602.2 337.4 L602.9 337.4 L603.6 337.5 L604.3 337.5 L604.9 337.5 L605.6 337.5 L606.3 337.3 L607.0 337.5 L607.7 337.4 L608.4 337.3 L609.0 337.5 L609.7 337.4 L610.4 337.5 L611.1 337.4 L611.8 337.4 L612.5 337.3 L613.1 337.1 L613.8 337.1 L614.5 337.2 L615.2 337.2 L615.9 337.5 L616.5 337.5 L617.2 337.3 L617.9 337.5 L618.6 337.3 L619.3 337.2 L620.0 337.2 L620.6 337.1 L621.3 337.3 L622.0 337.3 L622.7 337.2 L623.4 337.3 L624.1 337.3 L624.7 337.2 L625.4 337.3 L626.1 337.4 L626.8 337.2 L627.5 337.2 L628.2 337.1 L628.8 337.2 L629.5 337.2 L630.2 337.4 L630.9 337.5 L631.6 337.5 L632.3 337.4 L632.9 337.3 L633.6 337.5 L634.3 337.6 L635.0 337.5 L635.7 337.6 L636.3 337.4 L637.0 337.4 L637.7 337.4 L638.4 337.3 L639.1 337.4 L639.8 337.5 L640.4 337.4 L641.1 337.4 L641.8 337.3 L642.5 337.3 L643.2 337.2 L643.9 337.3 L644.5 337.3 L645.2 337.2 L645.9 337.1 L646.6 337.2 L647.3 337.1 L648.0 337.2 L648.6 337.2 L649.3 337.4 L650.0 337.4 L650.7 337.3 L651.4 337.5 L652.1 337.4 L652.7 337.5 L653.4 337.5 L654.1 337.4 L654.8 337.4 L655.5 337.4 L656.2 337.5 L656.8 337.4 L657.5 337.3 L658.2 337.2 L658.9 337.3 L659.6 337.2 L660.2 337.2 L660.9 337.3 L661.6 337.5 L662.3 337.5 L663.0 337.6 L663.7 337.6 L664.3 337.4 L665.0 337.4 L665.7 337.3 L666.4 337.4 L667.1 337.5 L667.8 337.5 L668.4 337.4 L669.1 337.3 L669.8 337.4 L670.5 337.4 L671.2 337.2 L671.9 337.3 L672.5 337.4 L673.2 337.4 L673.9 337.3 L674.6 337.2 L675.3 337.4 L676.0 337.3 L676.6 337.4 L677.3 337.3 L678.0 337.5 L678.7 337.5 L679.4 337.5 L680.0 337.5 L680.7 337.5 L681.4 337.5 L682.1 337.6 L682.8 337.6 L683.5 337.7 L684.1 337.6 L684.8 337.6 L685.5 337.6 L686.2 337.6 L686.9 337.4 L687.6 337.3 L688.2 337.2 L688.9 337.2 L689.6 337.1 L690.3 337.1 L691.0 337.1 L691.7 337.2 L692.3 337.2 L693.0 337.1 L693.7 337.2 L694.4 337.4 L695.1 337.5 L695.8 337.5 L696.4 337.6 L697.1 337.6 L697.8 337.6 L698.5 337.5 L699.2 337.3 L699.9 337.4 L700.5 337.6 L701.2 337.5 L701.9 337.3 L702.6 337.3 L703.3 337.5 L703.9 337.5 L704.6 337.4 L705.3 337.5 L706.0 337.6 L706.7 337.5 L707.4 337.5 L708.0 337.4 L708.7 337.3 L709.4 337.3 L710.1 337.3 L710.8 337.4 L711.5 337.3 L712.1 337.4 L712.8 337.3 L713.5 337.2 L714.2 337.2 L714.9 337.2 L715.6 337.2 L716.2 337.2 L716.9 337.4 L717.6 337.4 L718.3 337.5 L719.0 337.6 L719.7 337.7 L720.3 337.5 L721.0 337.5 L721.7 337.6 L722.4 337.7 L723.1 337.6 L723.8 337.7 L724.4 337.7 L725.1 337.6 L725.8 337.6 L726.5 337.5 L727.2 337.6 L727.8 337.5 L728.5 337.3 L729.2 337.3 L729.9 337.3 L730.6 337.4 L731.3 337.4 L731.9 337.4 L732.6 337.5 L733.3 337.4 L734.0 337.6 L734.7 337.6 L735.4 337.4 L736.0 337.4 L736.7 337.3 L737.4 337.4 L738.1 337.4 L738.8 337.5 L739.5 337.6 L740.1 337.4 L740.8 337.4 L741.5 337.4 L742.2 337.4 L742.9 337.3 L743.6 337.3 L744.2 337.2 L744.9 337.2 L745.6 337.4 L746.3 337.5 L747.0 337.3 L747.6 337.5 L748.3 337.5 L749.0 337.4 L749.7 337.5 L750.4 337.4 L751.1 337.4 L751.7 337.6 L752.4 337.6 L753.1 337.4 L753.8 337.3 L754.5 337.4 L755.2 337.4 L755.8 337.4 L756.5 337.4 L757.2 337.3 L757.9 337.2 L758.6 337.1 L759.3 337.1 L759.9 337.1 L760.6 337.1 L761.3 337.2 L762.0 337.3 L762.7 337.2 L763.4 337.3 L764.0 337.4 L764.7 337.4 L765.4 337.2 L766.1 337.3 L766.8 337.3 L767.5 337.3 L768.1 337.3 L768.8 337.2 L769.5 337.3 L770.2 337.4 L770.9 337.2 L771.5 337.2 L772.2 337.2 L772.9 337.3 L773.6 337.4 L774.3 337.4 L775.0 337.5 L775.6 337.6 L776.3 337.4 L777.0 337.4 L777.7 337.5 L778.4 337.5 L779.1 337.5 L779.7 337.3 L780.4 337.2 L781.1 337.3 L781.8 337.2 L782.5 337.4 L783.2 337.5 L783.8 337.6 L784.5 337.4 L785.2 337.3 L785.9 337.3 L786.6 337.1 L787.3 337.2 L787.9 337.2 L788.6 337.2 L789.3 337.3 L790.0 337.2 L790.7 337.3 L791.3 337.3 L792.0 337.2 L792.7 337.2 L793.4 337.2 L794.1 337.1 L794.8 337.3 L795.4 337.1 L796.1 337.2 L796.8 337.3 L797.5 337.2 L798.2 337.2 L798.9 337.1 L799.5 337.0 L800.2 336.9 L800.9 336.9 L801.6 336.9 L802.3 337.0 L803.0 337.0 L803.6 336.9 L804.3 337.0 L805.0 336.7 L805.7 336.7 L806.4 336.7 L807.1 336.6 L807.7 336.5 L808.4 336.4 L809.1 336.4 L809.8 336.2 L810.5 335.9 L811.2 336.0 L811.8 335.9 L812.5 335.8 L813.2 335.5 L813.9 335.1 L814.6 334.9 L815.2 334.6 L815.9 334.0 L816.6 333.7 L817.3 333.1 L818.0 332.5 L818.7 331.9 L819.3 331.5 L820.0 331.1 L820.7 330.7 L821.4 330.4 L822.1 330.2 L822.8 329.7 L823.4 329.5 L824.1 329.6 L824.8 329.7 L825.5 329.9 L826.2 330.1 L826.9 330.5 L827.5 331.0 L828.2 331.5 L828.9 332.0 L829.6 332.6 L830.3 332.9 L831.0 333.2 L831.6 333.6 L832.3 334.0 L833.0 334.2 L833.7 334.6 L834.4 334.8 L835.0 335.2 L835.7 335.6 L836.4 335.7 L837.1 336.0 L837.8 336.1 L838.5 336.3 L839.1 336.4 L839.8 336.3 L840.5 336.3 L841.2 336.3 L841.9 336.5 L842.6 336.7 L843.2 336.7 L843.9 336.6 L844.6 336.7 L845.3 336.9 L846.0 336.7 L846.7 336.9 L847.3 336.8 L848.0 336.8 L848.7 336.8 L849.4 336.9 L850.1 337.0 L850.8 336.9 L851.4 336.9 L852.1 336.7 L852.8 336.7 L853.5 336.8 L854.2 336.6 L854.9 336.5 L855.5 336.4 L856.2 336.6 L856.9 336.4 L857.6 336.5 L858.3 336.5 L858.9 336.3 L859.6 336.4 L860.3 336.2 L861.0 336.1 L861.7 336.1 L862.4 335.9 L863.0 335.9 L863.7 335.7 L864.4 335.7 L865.1 335.7 L865.8 335.4 L866.5 335.2 L867.1 335.0 L867.8 334.6 L868.5 334.4 L869.2 334.2 L869.9 333.9 L870.6 333.6 L871.2 333.0 L871.9 332.3 L872.6 331.8 L873.3 331.1 L874.0 330.1 L874.7 329.1 L875.3 328.0 L876.0 326.4 L876.7 324.8 L877.4 322.7 L878.1 320.2 L878.7 317.2 L879.4 313.9 L880.1 310.0 L880.8 305.1 L881.5 299.5 L882.2 293.1 L882.8 285.9 L883.5 278.2 L884.2 270.6 L884.9 263.5 L885.6 258.1 L886.3 254.5 L886.9 253.8 L887.6 256.0 L888.3 260.5 L889.0 266.9 L889.7 274.3 L890.4 282.1 L891.0 289.5 L891.7 296.5 L892.4 302.5 L893.1 307.5 L893.8 312.1 L894.5 315.8 L895.1 318.9 L895.8 321.4 L896.5 323.6 L897.2 325.3 L897.9 327.1 L898.6 328.6 L899.2 329.8 L899.9 330.7 L900.6 331.6 L901.3 332.1 L902.0 332.6 L902.6 333.0 L903.3 333.5 L904.0 333.9 L904.7 334.2 L905.4 334.6 L906.1 335.0 L906.7 335.1 L907.4 335.2 L908.1 335.4 L908.8 335.5 L909.5 335.6 L910.2 335.9 L910.8 335.9 L911.5 336.0 L912.2 336.3 L912.9 336.3 L913.6 336.3 L914.3 336.5 L914.9 336.6 L915.6 336.7 L916.3 336.7 L917.0 336.9 L917.7 336.8 L918.4 336.9 L919.0 336.9 L919.7 336.9 L920.4 337.1 L921.1 337.0 L921.8 336.9 L922.4 337.1 L923.1 337.1 L923.8 337.0 L924.5 337.1 L925.2 337.2 L925.9 337.3 L926.5 337.4 L927.2 337.3 L927.9 337.3 L928.6 337.3 L929.3 337.4 L930.0 337.2 L930.6 337.3 L931.3 337.3 L932.0 337.4 L932.7 337.5 L933.4 337.5 L934.1 337.3 L934.7 337.5 L935.4 337.5 L936.1 337.6 L936.8 337.4 L937.5 337.6 L938.2 337.4 L938.8 337.4 L939.5 337.3 L940.2 337.2 L940.9 337.1 L941.6 337.3 L942.2 337.3 L942.9 337.3 L943.6 337.4 L944.3 337.3 L945.0 337.4 L945.7 337.3 L946.3 337.3 L947.0 337.2 L947.7 337.3 L948.4 337.4 L949.1 337.2 L949.8 337.4 L950.4 337.3 L951.1 337.3 L951.8 337.4 L952.5 337.4 L953.2 337.4 L953.9 337.5 L954.5 337.5 L955.2 337.4 L955.9 337.5 L956.6 337.6 L957.3 337.5 L958.0 337.4 L958.6 337.5 L959.3 337.4 L960.0 337.4 L960.7 337.3 L961.4 337.4 L962.1 337.5 L962.7 337.4 L963.4 337.4 L964.1 337.4 L964.8 337.5 L965.5 337.6 L966.1 337.5 L966.8 337.5 L967.5 337.6 L968.2 337.4 L968.9 337.3 L969.6 337.5 L970.2 337.4 L970.9 337.5 L971.6 337.5 L972.3 337.6 L973.0 337.6 L973.7 337.5 L974.3 337.4 L975.0 337.3 L975.7 337.3 L976.4 337.2 L977.1 337.3 L977.8 337.4 L978.4 337.5 L979.1 337.3 L979.8 337.4 L980.5 337.4 L981.2 337.5 L981.9 337.5 L982.5 337.6 L983.2 337.6 L983.9 337.6 L984.6 337.7 L985.3 337.8 L986.0 337.6 L986.6 337.7 L987.3 337.5 L988.0 337.7 L988.7 337.6 L989.4 337.6 L990.0 337.6 L990.7 337.7 L991.4 337.7 L992.1 337.7 L992.8 337.6 L993.5 337.4 L994.1 337.3 L994.8 337.4 L995.5 337.4 L996.2 337.4 L996.9 337.5 L997.6 337.5 L998.2 337.5 L998.9 337.3 L999.6 337.5 L1000.3 337.4 L1001.0 337.4 L1001.7 337.5 L1002.3 337.5 L1003.0 337.5 L1003.7 337.7 L1004.4 337.5 L1005.1 337.5 L1005.8 337.4 L1006.4 337.3 L1007.1 337.4 L1007.8 337.3 L1008.5 337.4 L1009.2 337.3 L1009.8 337.2 L1010.5 337.3 L1011.2 337.5 L1011.9 337.6 L1012.6 337.5 L1013.3 337.4 L1013.9 337.3 L1014.6 337.4 L1015.3 337.3 L1016.0 337.3 L1016.7 337.4 L1017.4 337.4 L1018.0 337.4 L1018.7 337.3 L1019.4 337.5 L1020.1 337.4 L1020.8 337.6 L1021.5 337.4 L1022.1 337.5 L1022.8 337.5 L1023.5 337.6 L1024.2 337.6 L1024.9 337.5 L1025.6 337.4 L1026.2 337.4 L1026.9 337.3 L1027.6 337.5 L1028.3 337.6 L1029.0 337.6 L1029.7 337.5 L1030.3 337.5 L1031.0 337.4 L1031.7 337.5 L1032.4 337.4 L1033.1 337.5 L1033.7 337.6 L1034.4 337.5 L1035.1 337.6 L1035.8 337.5 L1036.5 337.6 L1037.2 337.7 L1037.8 337.5 L1038.5 337.5 L1039.2 337.4 L1039.9 337.5 L1040.6 337.4 L1041.3 337.6 L1041.9 337.5 L1042.6 337.5 L1043.3 337.6 L1044.0 337.4 L1044.7 337.4 L1045.4 337.4 L1046.0 337.5 L1046.7 337.6 L1047.4 337.5 L1048.1 337.6 L1048.8 337.5 L1049.5 337.4 L1050.1 337.3 L1050.8 337.3 L1051.5 337.2 L1052.2 337.4 L1052.9 337.5 L1053.5 337.5 L1054.2 337.6 L1054.9 337.6 L1055.6 337.6 L1056.3 337.6 L1057.0 337.6 L1057.6 337.6 L1058.3 337.4 L1059.0 337.5 L1059.7 337.3 L1060.4 337.5 L1061.1 337.4 L1061.7 337.6 L1062.4 337.4 L1063.1 337.5 L1063.8 337.7 L1064.5 337.8 L1065.2 337.8 L1065.8 337.8 L1066.5 337.6 L1067.2 337.7 L1067.9 337.8 L1068.6 337.8 L1069.3 337.6 L1069.9 337.6 L1070.6 337.5 L1071.3 337.5 L1072.0 337.4 L1072.7 337.5 L1073.3 337.5 L1074.0 337.4 L1074.7 337.4 L1075.4 337.6 L1076.1 337.6 L1076.8 337.7 L1077.4 337.5 L1078.1 337.4 L1078.8 337.4 L1079.5 337.5 L1080.2 337.5 L1080.9 337.6 L1081.5 337.7 L1082.2 337.5 L1082.9 337.5 L1083.6 337.6 L1084.3 337.7 L1085.0 337.5 L1085.6 337.6 L1086.3 337.6 L1087.0 337.5 L1087.7 337.5 L1088.4 337.5 L1089.1 337.6 L1089.7 337.7 L1090.4 337.6 L1091.1 337.6 L1091.8 337.4 L1092.5 337.4 L1093.2 337.3 L1093.8 337.3 L1094.5 337.3 L1095.2 337.5 L1095.9 337.4 L1096.6 337.3 L1097.2 337.5 L1097.9 337.4 L1098.6 337.4 L1099.3 337.2 L1100.0 337.4 L1100.7 337.3 L1101.3 337.2 L1102.0 337.2 L1102.7 337.3 L1103.4 337.4 L1104.1 337.4 L1104.8 337.3 L1105.4 337.5 L1106.1 337.4 L1106.8 337.5 L1107.5 337.6 L1108.2 337.6 L1108.9 337.5 L1109.5 337.4 L1110.2 337.6 L1110.9 337.7 L1111.6 337.6 L1112.3 337.6 L1113.0 337.7 L1113.6 337.7 L1114.3 337.6 L1115.0 337.6 L1115.7 337.7 L1116.4 337.5 L1117.0 337.6 L1117.7 337.6 L1118.4 337.5 L1119.1 337.4 L1119.8 337.3 L1120.5 337.3 L1121.1 337.2 L1121.8 337.5 L1122.5 337.6 L1123.2 337.5 L1123.9 337.7 L1124.6 337.7 L1125.2 337.6 L1125.9 337.5 L1126.6 337.6 L1127.3 337.5 L1128.0 337.4 L1128.7 337.4 L1129.3 337.5 L1130.0 337.5 L1130.7 337.5 L1131.4 337.6 L1132.1 337.5 L1132.8 337.5 L1133.4 337.5 L1134.1 337.4 L1134.8 337.4 L1135.5 337.3 L1136.2 337.5 L1136.9 337.3 L1137.5 337.4 L1138.2 337.6 L1138.9 337.5 L1139.6 337.6 L1140.3 337.7 L1140.9 337.6 L1141.6 337.5 L1142.3 337.5 L1143.0 337.4 L1143.7 337.4 L1144.4 337.4 L1145.0 337.4 L1145.7 337.5 L1146.4 337.7 L1147.1 337.6 L1147.8 337.6 L1148.5 337.6 L1149.1 337.7 L1149.8 337.6 L1150.5 337.7 L1151.2 337.5 L1151.9 337.4 L1152.6 337.6 L1153.2 337.5 L1153.9 337.6 L1154.6 337.6 L1155.3 337.4 L1156.0 337.3 L1156.7 337.4 L1157.3 337.5 L1158.0 337.5 L1158.7 337.6 L1159.4 337.7 L1160.1 337.6 L1160.8 337.5 L1161.4 337.6 L1162.1 337.5 L1162.8 337.3 L1163.5 337.2 L1164.2 337.4 L1164.8 337.5 L1165.5 337.4 L1166.2 337.5 L1166.9 337.4 L1167.6 337.4 L1168.3 337.3 L1168.9 337.2 L1169.6 337.4 L1170.3 337.4 L1171.0 337.3 L1171.7 337.4 L1172.4 337.3 L1173.0 337.4 L1173.7 337.4 L1174.4 337.3 L1175.1 337.5 L1175.8 337.4 L1176.5 337.3 L1177.1 337.3 L1177.8 337.4 L1178.5 337.3 L1179.2 337.4 L1179.9 337.3 L1180.6 337.4 L1181.2 337.3 L1181.9 337.5 L1182.6 337.4 L1183.3 337.5 L1184.0 337.7 L1184.6 337.5 L1185.3 337.6 L1186.0 337.7 L1186.7 337.5 L1187.4 337.7 L1188.1 337.5 L1188.7 337.6 L1189.4 337.7 L1190.1 337.5 L1190.8 337.6 L1191.5 337.5 L1192.2 337.4 L1192.8 337.3 L1193.5 337.3 L1194.2 337.2 L1194.9 337.2 L1195.6 337.5 L1196.3 337.4 L1196.9 337.3 L1197.6 337.5 L1198.3 337.5 L1199.0 337.4 L1199.7 337.4 L1200.4 337.5 L1201.0 337.4 L1201.7 337.4 L1202.4 337.6 L1203.1 337.5 L1203.8 337.6 L1204.5 337.4 L1205.1 337.4 L1205.8 337.5 L1206.5 337.6 L1207.2 337.5 L1207.9 337.4 L1208.5 337.6 L1209.2 337.6 L1209.9 337.6 L1210.6 337.7 L1211.3 337.6 L1212.0 337.6 L1212.6 337.4 L1213.3 337.5 L1214.0 337.6 L1214.7 337.5 L1215.4 337.4 L1216.1 337.6 L1216.7 337.7 L1217.4 337.7 L1218.1 337.6 L1218.8 337.6 L1219.5 337.7 L1220.2 337.5 L1220.8 337.5 L1221.5 337.7 L1222.2 337.6 L1222.9 337.5 L1223.6 337.4 L1224.3 337.6 L1224.9 337.6 L1225.6 337.6 L1226.3 337.5 L1227.0 337.6 L1227.7 337.5 L1228.3 337.5 L1229.0 337.6 L1229.7 337.7 L1230.4 337.5 L1231.1 337.6 L1231.8 337.6 L1232.4 337.5 L1233.1 337.5 L1233.8 337.4 L1234.5 337.5 L1235.2 337.6 L1235.9 337.5 L1236.5 337.4 L1237.2 337.5 L1237.9 337.3 L1238.6 337.5 L1239.3 337.4 L1240.0 337.5 L1240.6 337.3 L1241.3 337.2 L1242.0 337.2 L1242.7 337.3 L1243.4 337.4 L1244.1 337.5 L1244.7 337.5 L1245.4 337.6 L1246.1 337.5 L1246.8 337.6 L1247.5 337.6 L1248.2 337.7 L1248.8 337.7 L1249.5 337.5 L1250.2 337.7 L1250.9 337.6 L1251.6 337.5 L1252.2 337.6 L1252.9 337.7 L1253.6 337.5 L1254.3 337.6 L1255.0 337.6 L1255.7 337.6 L1256.3 337.7 L1257.0 337.6 L1257.7 337.7 L1258.4 337.8 L1259.1 337.7 L1259.8 337.7 L1260.4 337.6 L1261.1 337.5 L1261.8 337.6 L1262.5 337.4 L1263.2 337.5 L1263.9 337.7 L1264.5 337.6 L1265.2 337.6 L1265.9 337.6 L1266.6 337.7 L1267.3 337.6 L1268.0 337.5 L1268.6 337.5 L1269.3 337.6 L1270.0 337.5 L1270.7 337.3 L1271.4 337.5 L1272.0 337.6 L1272.7 337.5 L1273.4 337.4 L1274.1 337.5 L1274.8 337.6 L1275.5 337.7 L1276.1 337.6 L1276.8 337.5 L1277.5 337.5 L1278.2 337.7 L1278.9 337.6 L1279.6 337.6 L1280.2 337.5 L1280.9 337.5 L1281.6 337.6 L1282.3 337.7 L1283.0 337.7 L1283.7 337.6 L1284.3 337.5 L1285.0 337.6 L1285.7 337.5 L1286.4 337.7 L1287.1 337.5 L1287.8 337.4 L1288.4 337.4 L1289.1 337.3 L1289.8 337.4 L1290.5 337.3 L1291.2 337.5 L1291.8 337.6 L1292.5 337.5 L1293.2 337.5 L1293.9 337.4 L1294.6 337.5 L1295.3 337.5 L1295.9 337.4 L1296.6 337.4 L1297.3 337.4 L1298.0 337.6 L1298.7 337.6 L1299.4 337.6 L1300.0 337.5 L1300.7 337.5 L1301.4 337.4 L1302.1 337.3 L1302.8 337.2 L1303.5 337.2 L1304.1 337.2 L1304.8 337.4 L1305.5 337.6 L1306.2 337.6 L1306.9 337.6 L1307.6 337.7 L1308.2 337.7 L1308.9 337.6 L1309.6 337.4 L1310.3 337.5 L1311.0 337.5 L1311.7 337.4 L1312.3 337.3 L1313.0 337.5 L1313.7 337.6 L1314.4 337.5 L1315.1 337.6 L1315.7 337.4 L1316.4 337.6 L1317.1 337.5 L1317.8 337.5 L1318.5 337.5 L1319.2 337.3 L1319.8 337.5 L1320.5 337.5 L1321.2 337.5 L1321.9 337.6 L1322.6 337.5 L1323.3 337.4 L1323.9 337.5 L1324.6 337.6 L1325.3 337.7 L1326.0 337.5 L1326.7 337.6 L1327.4 337.7 L1328.0 337.8 L1328.7 337.6 L1329.4 337.5 L1330.1 337.7 L1330.8 337.7 L1331.5 337.8 L1332.1 337.7 L1332.8 337.5 L1333.5 337.5 L1334.2 337.5 L1334.9 337.4 L1335.5 337.5 L1336.2 337.6 L1336.9 337.5 L1337.6 337.5 L1338.3 337.4 L1339.0 337.3 L1339.6 337.3 L1340.3 337.4 L1341.0 337.4 L1341.7 337.5 L1342.4 337.4 L1343.1 337.3 L1343.7 337.2 L1344.4 337.4 L1345.1 337.5 L1345.8 337.7 L1346.5 337.6 L1347.2 337.6 L1347.8 337.7 L1348.5 337.5 L1349.2 337.6 L1349.9 337.5 L1350.6 337.6 L1351.3 337.7 L1351.9 337.8 L1352.6 337.8 L1353.3 337.6 L1354.0 337.5 L1354.7 337.4 L1355.4 337.3 L1356.0 337.3 L1356.7 337.4 L1357.4 337.4 L1358.1 337.5 L1358.8 337.4 L1359.4 337.4 L1360.1 337.3 L1360.8 337.2 L1361.5 337.2 L1362.2 337.2 L1362.9 337.2 L1363.5 337.4 L1364.2 337.6 L1364.9 337.7 L1365.6 337.7 L1366.3 337.5 L1367.0 337.5 L1367.6 337.7 L1368.3 337.7 L1369.0 337.8 L1369.7 337.7 L1370.4 337.7 L1371.1 337.7 L1371.7 337.6 L1372.4 337.5 L1373.1 337.4 L1373.8 337.6 L1374.5 337.4 L1375.2 337.3 L1375.8 337.5 L1376.5 337.4 L1377.2 337.6 L1377.9 337.5 L1378.6 337.4 L1379.2 337.5 L1379.9 337.6 L1380.6 337.6 L1381.3 337.7 L1382.0 337.8 L1382.7 337.5 L1383.3 337.6 L1384.0 337.7 L1384.7 337.5 L1385.4 337.5 L1386.1 337.4 L1386.8 337.3 L1387.4 337.3 L1388.1 337.5 L1388.8 337.5 L1389.5 337.6 L1390.2 337.6 L1390.9 337.4 L1391.5 337.3 L1392.2 337.3 L1392.9 337.3 L1393.6 337.5 L1394.3 337.7 L1395.0 337.5 L1395.6 337.4 L1396.3 337.6 L1397.0 337.7 L1397.7 337.7 L1398.4 337.5 L1399.1 337.6 L1399.7 337.6 L1400.4 337.7 L1401.1 337.6 L1401.8 337.5 L1402.5 337.5 L1403.1 337.7 L1403.8 337.7 L1404.5 337.7 L1405.2 337.6 L1405.9 337.5 L1406.6 337.5 L1407.2 337.6 L1407.9 337.6 L1408.6 337.6 L1409.3 337.5 L1410.0 337.5 L1410.7 337.5 L1411.3 337.4 L1412.0 337.6 L1412.7 337.5 L1413.4 337.5 L1414.1 337.4 L1414.8 337.5 L1415.4 337.6 L1416.1 337.5 L1416.8 337.6 L1417.5 337.6 L1418.2 337.6 L1418.9 337.5 L1419.5 337.4 L1420.2 337.3 L1420.9 337.4 L1421.6 337.3 L1422.3 337.4 L1422.9 337.4 L1423.6 337.5 L1424.3 337.5 L1425.0 337.5 L1425.7 337.7 L1426.4 337.7 L1427.0 337.8 L1427.7 337.7 L1428.4 337.5 L1429.1 337.6 L1429.8 337.5 L1430.5 337.4 L1431.1 337.3 L1431.8 337.3 L1432.5 337.5 L1433.2 337.5 L1433.9 337.5 L1434.6 337.6 L1435.2 337.7 L1435.9 337.7 L1436.6 337.8 L1437.3 337.6 L1438.0 337.5 L1438.7 337.7 L1439.3 337.5 L1440.0 337.4 L1440.7 337.3 L1441.4 337.4 L1442.1 337.5 L1442.8 337.6 L1443.4 337.7 L1444.1 337.7 L1444.8 337.7 L1445.5 337.7 L1446.2 337.5 L1446.8 337.4 L1447.5 337.5 L1448.2 337.3 L1448.9 337.2 L1449.6 337.2 L1450.3 337.3 L1450.9 337.5 L1451.6 337.6 L1452.3 337.6 L1453.0 337.6 L1453.7 337.5 L1454.4 337.5 L1455.0 337.4 L1455.7 337.4 L1456.4 337.3 L1457.1 337.5 L1457.8 337.5 L1458.5 337.6 L1459.1 337.5 L1459.8 337.3 L1460.5 337.5 L1461.2 337.3 L1461.9 337.3 L1462.6 337.2 L1463.2 337.4 L1463.9 337.4 L1464.6 337.5 L1465.3 337.6 L1466.0 337.5 L1466.6 337.6 L1467.3 337.6 L1468.0 337.3 L1468.7 337.2 L1469.4 337.2 L1470.1 337.1 L1470.7 337.0 L1471.4 337.1 L1472.1 336.9 L1472.8 336.8 L1473.5 336.7 L1474.2 336.6 L1474.8 336.5 L1475.5 336.3 L1476.2 336.3 L1476.9 336.3 L1477.6 336.2 L1478.3 336.0 L1478.9 335.9 L1479.6 335.5 L1480.3 335.4 L1481.0 335.2 L1481.7 335.1 L1482.4 334.7 L1483.0 334.4 L1483.7 334.1 L1484.4 333.9 L1485.1 333.9 L1485.8 333.8 L1486.5 333.9 L1487.1 333.9 L1487.8 334.1 L1488.5 334.2 L1489.2 334.2 L1489.9 334.6 L1490.5 334.6 L1491.2 334.9 L1491.9 335.2 L1492.6 335.3 L1493.3 335.5 L1494.0 335.7 L1494.6 336.0 L1495.3 336.2 L1496.0 336.4 L1496.7 336.3 L1497.4 336.4 L1498.1 336.6 L1498.7 336.7 L1499.4 336.8 L1500.1 336.8 L1500.8 337.0 L1501.5 337.0 L1502.2 337.1 L1502.8 337.1 L1503.5 337.1 L1504.2 337.2 L1504.9 337.1 L1505.6 337.3 L1506.3 337.4 L1506.9 337.4 L1507.6 337.3 L1508.3 337.4 L1509.0 337.3 L1509.7 337.4 L1510.3 337.5 L1511.0 337.3 L1511.7 337.3 L1512.4 337.3 L1513.1 337.2 L1513.8 337.2 L1514.4 337.1 L1515.1 337.3 L1515.8 337.3 L1516.5 337.1 L1517.2 337.3 L1517.9 337.3 L1518.5 337.4 L1519.2 337.5 L1519.9 337.6 L1520.6 337.4 L1521.3 337.3 L1522.0 337.5 L1522.6 337.5 L1523.3 337.5 L1524.0 337.5 L1524.7 337.5 L1525.4 337.5 L1526.1 337.4 L1526.7 337.5 L1527.4 337.3 L1528.1 337.4 L1528.8 337.4 L1529.5 337.4 L1530.2 337.3 L1530.8 337.4 L1531.5 337.2 L1532.2 337.4 L1532.9 337.4 L1533.6 337.5 L1534.2 337.3 L1534.9 337.4 L1535.6 337.5 L1536.3 337.5 L1537.0 337.3 L1537.7 337.4 L1538.3 337.2 L1539.0 337.1 L1539.7 337.1 L1540.4 337.0 L1541.1 336.9 L1541.8 337.0 L1542.4 337.0 L1543.1 336.9 L1543.8 337.0 L1544.5 337.2 L1545.2 337.1 L1545.9 337.0 L1546.5 336.9 L1547.2 336.9 L1547.9 336.8 L1548.6 337.0 L1549.3 336.9 L1550.0 336.8 L1550.6 336.8 L1551.3 336.9 L1552.0 336.9 L1552.7 336.9 L1553.4 336.7 L1554.0 336.6 L1554.7 336.6 L1555.4 336.6 L1556.1 336.6 L1556.8 336.5 L1557.5 336.5 L1558.1 336.4 L1558.8 336.2 L1559.5 336.0 L1560.2 336.0 L1560.9 336.0 L1561.6 335.8 L1562.2 335.7 L1562.9 335.4 L1563.6 335.3 L1564.3 335.3 L1565.0 335.2 L1565.7 335.2 L1566.3 334.8 L1567.0 334.6 L1567.7 334.4 L1568.4 334.3 L1569.1 334.0 L1569.8 333.7 L1570.4 333.4 L1571.1 333.2 L1571.8 333.2 L1572.5 333.1 L1573.2 333.0 L1573.9 332.7 L1574.5 332.4 L1575.2 332.1 L1575.9 331.9 L1576.6 331.6 L1577.3 331.6 L1577.9 331.3 L1578.6 331.3 L1579.3 331.3 L1580.0 331.3 L1580.7 331.1 L1581.4 330.9 L1582.0 330.9 L1582.7 330.8 L1583.4 331.0 L1584.1 331.1 L1584.8 331.4 L1585.5 331.7 L1586.1 331.9 L1586.8 332.1 L1587.5 332.2 L1588.2 332.5 L1588.9 332.7 L1589.6 332.7 L1590.2 333.0 L1590.9 333.1 L1591.6 333.3 L1592.3 333.6 L1593.0 333.9 L1593.7 334.0 L1594.3 334.3 L1595.0 334.4 L1595.7 334.6 L1596.4 334.9 L1597.1 335.1 L1597.7 335.3 L1598.4 335.3 L1599.1 335.5 L1599.8 335.5 L1600.5 335.7 L1601.2 336.0 L1601.8 336.1 L1602.5 336.2 L1603.2 336.3 L1603.9 336.3 L1604.6 336.5 L1605.3 336.6 L1605.9 336.5 L1606.6 336.7 L1607.3 336.8 L1608.0 336.8 L1608.7 337.0 L1609.4 337.0 L1610.0 337.0 L1610.7 337.1 L1611.4 337.1 L1612.1 336.9 L1612.8 337.0 L1613.5 336.9 L1614.1 337.1 L1614.8 337.0 L1615.5 337.1 L1616.2 337.0 L1616.9 337.1 L1617.6 337.3 L1618.2 337.2 L1618.9 337.0 L1619.6 337.0 L1620.3 337.2 L1621.0 337.2 L1621.6 337.3 L1622.3 337.2 L1623.0 337.0 L1623.7 337.3 L1624.4 337.4 L1625.1 337.3 L1625.7 337.4 L1626.4 337.5 L1627.1 337.4 L1627.8 337.4 L1628.5 337.4 L1629.2 337.3 L1629.8 337.4 L1630.5 337.5 L1631.2 337.4 L1631.9 337.5 L1632.6 337.4 L1633.3 337.4 L1633.9 337.5 L1634.6 337.5 L1635.3 337.3 L1636.0 337.4 L1636.7 337.3 L1637.4 337.4 L1638.0 337.4 L1638.7 337.4 L1639.4 337.4 L1640.1 337.5 L1640.8 337.5 L1641.4 337.5 L1642.1 337.5 L1642.8 337.3 L1643.5 337.4 L1644.2 337.4 L1644.9 337.4 L1645.5 337.4 L1646.2 337.5 L1646.9 337.5 L1647.6 337.4 L1648.3 337.4 L1649.0 337.4 L1649.6 337.5 L1650.3 337.5 L1651.0 337.5 L1651.7 337.3 L1652.4 337.4 L1653.1 337.4 L1653.7 337.5 L1654.4 337.6 L1655.1 337.7 L1655.8 337.8 L1656.5 337.8 L1657.2 337.9 L1657.8 337.7 L1658.5 337.8 L1659.2 337.8 L1659.9 337.8 L1660.6 337.6 L1661.3 337.7 L1661.9 337.5 L1662.6 337.4 L1663.3 337.5 L1664.0 337.6 L1664.7 337.7 L1665.3 337.8 L1666.0 337.6 L1666.7 337.6 L1667.4 337.5 L1668.1 337.5 L1668.8 337.7 L1669.4 337.7 L1670.1 337.6 L1670.8 337.6 L1671.5 337.6 L1672.2 337.6 L1672.9 337.5 L1673.5 337.6 L1674.2 337.7 L1674.9 337.5 L1675.6 337.5 L1676.3 337.6 L1677.0 337.5 L1677.6 337.5 L1678.3 337.4 L1679.0 337.6 L1679.7 337.5 L1680.4 337.6 L1681.1 337.4 L1681.7 337.4 L1682.4 337.5 L1683.1 337.6 L1683.8 337.4 L1684.5 337.5 L1685.1 337.5 L1685.8 337.6 L1686.5 337.8 L1687.2 337.6 L1687.9 337.6 L1688.6 337.5 L1689.2 337.6 L1689.9 337.6 L1690.6 337.5 L1691.3 337.6 L1692.0 337.7 L1692.7 337.7 L1693.3 337.7 L1694.0 337.8 L1694.7 337.8 L1695.4 337.6 L1696.1 337.6 L1696.8 337.7 L1697.4 337.8 L1698.1 337.9 L1698.8 337.8 L1699.5 337.6 L1700.2 337.7 L1700.9 337.5 L1701.5 337.4 L1702.2 337.5 L1702.9 337.4 L1703.6 337.5 L1704.3 337.5 L1705.0 337.7 L1705.6 337.7 L1706.3 337.7 L1707.0 337.6 L1707.7 337.7 L1708.4 337.6 L1709.0 337.6 L1709.7 337.7 L1710.4 337.8 L1711.1 337.9 L1711.8 337.9 L1712.5 337.8 L1713.1 337.8 L1713.8 337.7 L1714.5 337.5 L1715.2 337.6 L1715.9 337.6 L1716.6 337.7 L1717.2 337.7 L1717.9 337.6 L1718.6 337.8 L1719.3 337.7 L1720.0 337.7 L1720.7 337.7 L1721.3 337.5 L1722.0 337.5 L1722.7 337.5 L1723.4 337.6 L1724.1 337.7 L1724.8 337.5 L1725.4 337.5 L1726.1 337.6 L1726.8 337.6 L1727.5 337.7 L1728.2 337.5 L1728.8 337.5 L1729.5 337.5 L1730.2 337.6 L1730.9 337.5 L1731.6 337.6 L1732.3 337.6 L1732.9 337.5 L1733.6 337.5 L1734.3 337.6 L1735.0 337.5 L1735.7 337.6 L1736.4 337.5 L1737.0 337.7 L1737.7 337.7 L1738.4 337.8 L1739.1 337.6 L1739.8 337.6 L1740.5 337.7 L1741.1 337.7 L1741.8 337.8 L1742.5 337.9 L1743.2 337.9 L1743.9 337.9 L1744.6 337.9 L1745.2 337.8 L1745.9 337.7 L1746.6 337.8 L1747.3 337.9 L1748.0 337.9 L1748.7 338.0 L1749.3 337.8 L1750.0 337.8 L1750.7 337.9 L1751.4 337.9 L1752.1 338.0 L1752.7 338.0 L1753.4 337.9 L1754.1 337.9 L1754.8 337.7 L1755.5 337.6 L1756.2 337.6 L1756.8 337.7 L1757.5 337.6 L1758.2 337.5 L1758.9 337.5 L1759.6 337.4 L1760.3 337.6 L1760.9 337.4 L1761.6 337.6 L1762.3 337.4 L1763.0 337.4 L1763.7 337.5 L1764.4 337.5 L1765.0 337.4 L1765.7 337.4 L1766.4 337.5 L1767.1 337.5 L1767.8 337.6 L1768.5 337.6 L1769.1 337.4 L1769.8 337.6 L1770.5 337.5 L1771.2 337.4 L1771.9 337.3 L1772.5 337.3 L1773.2 337.6 L1773.9 337.5 L1774.6 337.4 L1775.3 337.5 L1776.0 337.5 L1776.6 337.6 L1777.3 337.5 L1778.0 337.4 L1778.7 337.5 L1779.4 337.7 L1780.1 337.5 L1780.7 337.6 L1781.4 337.5 L1782.1 337.5 L1782.8 337.4 L1783.5 337.4 L1784.2 337.6 L1784.8 337.7 L1785.5 337.7 L1786.2 337.5 L1786.9 337.5 L1787.6 337.5 L1788.3 337.7 L1788.9 337.6 L1789.6 337.6 L1790.3 337.5 L1791.0 337.7 L1791.7 337.8 L1792.4 337.6 L1793.0 337.8 L1793.7 337.6 L1794.4 337.7 L1795.1 337.7 L1795.8 337.7 L1796.4 337.7 L1797.1 337.8 L1797.8 337.7 L1798.5 337.8 L1799.2 337.6 L1799.9 337.6 L1800.5 337.7 L1801.2 337.7 L1801.9 337.5 L1802.6 337.6 L1803.3 337.6 L1804.0 337.7 L1804.6 337.8 L1805.3 337.8 L1806.0 337.8 L1806.7 337.8 L1807.4 337.8 L1808.1 337.7 L1808.7 337.8 L1809.4 337.7 L1810.1 337.7 L1810.8 337.7 L1811.5 337.6 L1812.2 337.7 L1812.8 337.7 L1813.5 337.8 L1814.2 337.6 L1814.9 337.7 L1815.6 337.6 L1816.2 337.6 L1816.9 337.7 L1817.6 337.9 L1818.3 337.8 L1819.0 337.8 L1819.7 337.6 L1820.3 337.7 L1821.0 337.8 L1821.7 337.6 L1822.4 337.7 L1823.1 337.5 L1823.8 337.5 L1824.4 337.4 L1825.1 337.6 L1825.8 337.6 L1826.5 337.6 L1827.2 337.5 L1827.9 337.6 L1828.5 337.5 L1829.2 337.4 L1829.9 337.6 L1830.6 337.7 L1831.3 337.9 L1832.0 337.9 L1832.6 337.8 L1833.3 337.9 L1834.0 337.7 L1834.7 337.8 L1835.4 337.7 L1836.1 337.7 L1836.7 337.5 L1837.4 337.4 L1838.1 337.5 L1838.8 337.7 L1839.5 337.7 L1840.1 337.7 L1840.8 337.8 L1841.5 337.7 L1842.2 337.6 L1842.9 337.5 L1843.6 337.5 L1844.2 337.7 L1844.9 337.8 L1845.6 337.7 L1846.3 337.7 L1847.0 337.7 L1847.7 337.6 L1848.3 337.6 L1849.0 337.8 L1849.7 337.6 L1850.4 337.6 L1851.1 337.7 L1851.8 337.6 L1852.4 337.6 L1853.1 337.5 L1853.8 337.6 L1854.5 337.6 L1855.2 337.7 L1855.9 337.7 L1856.5 337.8 L1857.2 337.9 L1857.9 337.8 L1858.6 337.8 L1859.3 337.7 L1860.0 337.7 L1860.6 337.6 L1861.3 337.5 L1862.0 337.7 L1862.7 337.7 L1863.4 337.8 L1864.0 337.7 L1864.7 337.5 L1865.4 337.7 L1866.1 337.5 L1866.8 337.4 L1867.5 337.5 L1868.1 337.6 L1868.8 337.5 L1869.5 337.5 L1870.2 337.4 L1870.9 337.5 L1871.6 337.4 L1872.2 337.5 L1872.9 337.5 L1873.6 337.5 L1874.3 337.4 L1875.0 337.5 L1875.7 337.4 L1876.3 337.3 L1877.0 337.6 L1877.7 337.6 L1878.4 337.6 L1879.1 337.5 L1879.8 337.7 L1880.4 337.7 L1881.1 337.7 L1881.8 337.7 L1882.5 337.7 L1883.2 337.7 L1883.8 337.6 L1884.5 337.7 L1885.2 337.6 L1885.9 337.5 L1886.6 337.4 L1887.3 337.5 L1887.9 337.6 L1888.6 337.8 L1889.3 337.6 L1890.0 337.7 L1890.7 337.6 L1891.4 337.7 L1892.0 337.7 L1892.7 337.7 L1893.4 337.7 L1894.1 337.7 L1894.8 337.5 L1895.5 337.5 L1896.1 337.6 L1896.8 337.7 L1897.5 337.8 L1898.2 337.9 L1898.9 337.8 L1899.6 337.9 L1900.2 337.9 L1900.9 337.8 L1901.6 337.8 L1902.3 337.6 L1903.0 337.7 L1903.7 337.7 L1904.3 337.8 L1905.0 337.7 L1905.7 337.8 L1906.4 337.7 L1907.1 337.7 L1907.7 337.6 L1908.4 337.5 L1909.1 337.5 L1909.8 337.5 L1910.5 337.6 L1911.2 337.7 L1911.8 337.7 L1912.5 337.6 L1913.2 337.5 L1913.9 337.5 L1914.6 337.5 L1915.3 337.7 L1915.9 337.7 L1916.6 337.8 L1917.3 337.8 L1918.0 337.7 L1918.7 337.8 L1919.4 337.7 L1920.0 337.5 L1920.7 337.7 L1921.4 337.6 L1922.1 337.7 L1922.8 337.6 L1923.5 337.6 L1924.1 337.6 L1924.8 337.7 L1925.5 337.7 L1926.2 337.7 L1926.9 337.8 L1927.5 337.7 L1928.2 337.8 L1928.9 337.9 L1929.6 337.8 L1930.3 337.8 L1931.0 337.6 L1931.6 337.7 L1932.3 337.7 L1933.0 337.8 L1933.7 337.7 L1934.4 337.7 L1935.1 337.8 L1935.7 337.8 L1936.4 337.6 L1937.1 337.7 L1937.8 337.5 L1938.5 337.4 L1939.2 337.5 L1939.8 337.6 L1940.5 337.6 L1941.2 337.5 L1941.9 337.5 L1942.6 337.6 L1943.3 337.5 L1943.9 337.7 L1944.6 337.8 L1945.3 337.6 L1946.0 337.6 L1946.7 337.6 L1947.4 337.7 L1948.0 337.8 L1948.7 337.8 L1949.4 337.8 L1950.1 337.6 L1950.8 337.5 L1951.4 337.6 L1952.1 337.7 L1952.8 337.7 L1953.5 337.7 L1954.2 337.6 L1954.9 337.6 L1955.5 337.5 L1956.2 337.4 L1956.9 337.5 L1957.6 337.6 L1958.3 337.5 L1959.0 337.4 L1959.6 337.4 L1960.3 337.6 L1961.0 337.6 L1961.7 337.5 L1962.4 337.5 L1963.1 337.6 L1963.7 337.7 L1964.4 337.6 L1965.1 337.6 L1965.8 337.7 L1966.5 337.8 L1967.2 337.7 L1967.8 337.8 L1968.5 337.8 L1969.2 337.9 L1969.9 337.8 L1970.6 337.7 L1971.2 337.8 L1971.9 337.7 L1972.6 337.6 L1973.3 337.6 L1974.0 337.6 L1974.7 337.6 L1975.3 337.6 L1976.0 337.6 L1976.7 337.5 L1977.4 337.5 L1978.1 337.7 L1978.8 337.8 L1979.4 337.8 L1980.1 337.7 L1980.8 337.6 L1981.5 337.6 L1982.2 337.6 L1982.9 337.7 L1983.5 337.6 L1984.2 337.4 L1984.9 337.4 L1985.6 337.6 L1986.3 337.5 L1987.0 337.4 L1987.6 337.4 L1988.3 337.3 L1989.0 337.6 L1989.7 337.5 L1990.4 337.4 L1991.1 337.4 L1991.7 337.5 L1992.4 337.6 L1993.1 337.7 L1993.8 337.5 L1994.5 337.6 L1995.1 337.8 L1995.8 337.8 L1996.5 337.9 L1997.2 337.9 L1997.9 337.9 L1998.6 337.8 L1999.2 337.8 L1999.9 337.7 L2000.6 337.7 L2001.3 337.6 L2002.0 337.5 L2002.7 337.5 L2003.3 337.5 L2004.0 337.6 L2004.7 337.6 L2005.4 337.5 L2006.1 337.4 L2006.8 337.6 L2007.4 337.7 L2008.1 337.8 L2008.8 337.9 L2009.5 337.9 L2010.2 337.7 L2010.9 337.8 L2011.5 337.8 L2012.2 337.8 L2012.9 337.8 L2013.6 337.7 L2014.3 337.8 L2014.9 337.8 L2015.6 337.7 L2016.3 337.7 L2017.0 337.7 L2017.7 337.5 L2018.4 337.5 L2019.0 337.7 L2019.7 337.8 L2020.4 337.7 L2021.1 337.5 L2021.8 337.6 L2022.5 337.7 L2023.1 337.7 L2023.8 337.5 L2024.5 337.6 L2025.2 337.8 L2025.9 337.6 L2026.6 337.6 L2027.2 337.6 L2027.9 337.7 L2028.6 337.5 L2029.3 337.7 L2030.0 337.6 L2030.7 337.6 L2031.3 337.6 L2032.0 337.5 L2032.7 337.4 L2033.4 337.6 L2034.1 337.5 L2034.8 337.5 L2035.4 337.5 L2036.1 337.4 L2036.8 337.4 L2037.5 337.4 L2038.2 337.5 L2038.8 337.4 L2039.5 337.6 L2040.2 337.6 L2040.9 337.6 L2041.6 337.8 L2042.3 337.6 L2042.9 337.4 L2043.6 337.5 L2044.3 337.6 L2045.0 337.8 L2045.7 337.8 L2046.4 337.7 L2047.0 337.8 L2047.7 337.9 L2048.4 337.9 L2049.1 337.9 L2049.8 337.8 L2050.5 337.9 L2051.1 338.0 L2051.8 338.0 L2052.5 337.9 L2053.2 337.8 L2053.9 337.9 L2054.6 337.9 L2055.2 337.9 L2055.9 337.9 L2056.6 337.8 L2057.3 337.8 L2058.0 337.7 L2058.6 337.6 L2059.3 337.7 L2060.0 337.6 L2060.7 337.8 L2061.4 337.7 L2062.1 337.6 L2062.7 337.6 L2063.4 337.6 L2064.1 337.4 L2064.8 337.4 L2065.5 337.5 L2066.2 337.6 L2066.8 337.6 L2067.5 337.6 L2068.2 337.7 L2068.9 337.8 L2069.6 337.7 L2070.3 337.5 L2070.9 337.5 L2071.6 337.5 L2072.3 337.7 L2073.0 337.7 L2073.7 337.8 L2074.4 337.9 L2075.0 337.7 L2075.7 337.6 L2076.4 337.6 L2077.1 337.6 L2077.8 337.7 L2078.5 337.6 L2079.1 337.6 L2079.8 337.7 L2080.5 337.8 L2081.2 337.7 L2081.9 337.8 L2082.5 337.7 L2083.2 337.6 L2083.9 337.6 L2084.6 337.5 L2085.3 337.6 L2086.0 337.6 L2086.6 337.6 L2087.3 337.7 L2088.0 337.6 L2088.7 337.5 L2089.4 337.7 L2090.1 337.8 L2090.7 337.8 L2091.4 337.6 L2092.1 337.5 L2092.8 337.5 L2093.5 337.5 L2094.2 337.4 L2094.8 337.6 L2095.5 337.6 L2096.2 337.7 L2096.9 337.5 L2097.6 337.5 L2098.3 337.6 L2098.9 337.7 L2099.6 337.6 L2100.3 337.6 L2101.0 337.7 L2101.7 337.8 L2102.3 337.6 L2103.0 337.6 L2103.7 337.6 L2104.4 337.6 L2105.1 337.5 L2105.8 337.5 L2106.4 337.5 L2107.1 337.4 L2107.8 337.5 L2108.5 337.6 L2109.2 337.7 L2109.9 337.6 L2110.5 337.6 L2111.2 337.5 L2111.9 337.6 L2112.6 337.4 L2113.3 337.5 L2114.0 337.5 L2114.6 337.6 L2115.3 337.4 L2116.0 337.3 L2116.7 337.4 L2117.4 337.3 L2118.1 337.2 L2118.7 337.3 L2119.4 337.3 L2120.1 337.2 L2120.8 337.2 L2121.5 337.3 L2122.2 337.3 L2122.8 337.5 L2123.5 337.4 L2124.2 337.3 L2124.9 337.4 L2125.6 337.3 L2126.2 337.2 L2126.9 337.4 L2127.6 337.4 L2128.3 337.2 L2129.0 337.3 L2129.7 337.3 L2130.3 337.4 L2131.0 337.4 L2131.7 337.4 L2132.4 337.4 L2133.1 337.5 L2133.8 337.3 L2134.4 337.3 L2135.1 337.2 L2135.8 337.3 L2136.5 337.2 L2137.2 337.2 L2137.9 337.1 L2138.5 337.2 L2139.2 337.1 L2139.9 337.1 L2140.6 337.2 L2141.3 337.0 L2142.0 337.0 L2142.6 336.9 L2143.3 336.8 L2144.0 336.9 L2144.7 337.0 L2145.4 336.8 L2146.0 336.8 L2146.7 336.9 L2147.4 336.9 L2148.1 336.9 L2148.8 336.8 L2149.5 336.7 L2150.1 336.6 L2150.8 336.5 L2151.5 336.2 L2152.2 336.1 L2152.9 336.1 L2153.6 336.0 L2154.2 335.9 L2154.9 335.7 L2155.6 335.3 L2156.3 335.1 L2157.0 334.7 L2157.7 334.6 L2158.3 334.3 L2159.0 334.1 L2159.7 333.7 L2160.4 333.3 L2161.1 332.9 L2161.8 332.7 L2162.4 332.3 L2163.1 332.0 L2163.8 331.5 L2164.5 331.0 L2165.2 330.4 L2165.9 329.9 L2166.5 329.5 L2167.2 328.9 L2167.9 328.4 L2168.6 327.7 L2169.3 327.2 L2169.9 327.0 L2170.6 326.5 L2171.3 326.3 L2172.0 325.9 L2172.7 325.7 L2173.4 325.4 L2174.0 325.4 L2174.7 325.3 L2175.4 325.7 L2176.1 325.8 L2176.8 326.1 L2177.5 326.5 L2178.1 326.8 L2178.8 327.3 L2179.5 327.9 L2180.2 328.5 L2180.9 329.0 L2181.6 329.5 L2182.2 329.9 L2182.9 330.3 L2183.6 330.9 L2184.3 331.5 L2185.0 331.8 L2185.7 332.2 L2186.3 332.6 L2187.0 332.9 L2187.7 333.3 L2188.4 333.8 L2189.1 334.2 L2189.7 334.4 L2190.4 334.6 L2191.1 334.7 L2191.8 335.0 L2192.5 335.2 L2193.2 335.5 L2193.8 335.5 L2194.5 335.8 L2195.2 335.9 L2195.9 336.0 L2196.6 336.2 L2197.3 336.4 L2197.9 336.5 L2198.6 336.5 L2199.3 336.6 L2200.0 336.7 L2200.7 336.9 L2201.4 336.9 L2202.0 336.9 L2202.7 336.8 L2203.4 336.8 L2204.1 337.0 L2204.8 337.1 L2205.5 337.0 L2206.1 337.1 L2206.8 337.1 L2207.5 337.0 L2208.2 337.2 L2208.9 337.2 L2209.6 337.2 L2210.2 337.2 L2210.9 337.1 L2211.6 337.3 L2212.3 337.2 L2213.0 337.2 L2213.6 337.1 L2214.3 337.3 L2215.0 337.3 L2215.7 337.2 L2216.4 337.1 L2217.1 337.2 L2217.7 337.3 L2218.4 337.4 L2219.1 337.5 L2219.8 337.5 L2220.5 337.3 L2221.2 337.3 L2221.8 337.3 L2222.5 337.4 L2223.2 337.4 L2223.9 337.4 L2224.6 337.4 L2225.3 337.2 L2225.9 337.3 L2226.6 337.4 L2227.3 337.6 L2228.0 337.6 L2228.7 337.5 L2229.4 337.5 L2230.0 337.5 L2230.7 337.5 L2231.4 337.4 L2232.1 337.5 L2232.8 337.5 L2233.4 337.4 L2234.1 337.5 L2234.8 337.5 L2235.5 337.4 L2236.2 337.4 L2236.9 337.5 L2237.5 337.5 L2238.2 337.5 L2238.9 337.6 L2239.6 337.5 L2240.3 337.4 L2241.0 337.4 L2241.6 337.5 L2242.3 337.4 L2243.0 337.4 L2243.7 337.6 L2244.4 337.5 L2245.1 337.6 L2245.7 337.5 L2246.4 337.5 L2247.1 337.5 L2247.8 337.4 L2248.5 337.5 L2249.2 337.5 L2249.8 337.6 L2250.5 337.5 L2251.2 337.7 L2251.9 337.6 L2252.6 337.6 L2253.2 337.8 L2253.9 337.6 L2254.6 337.7 L2255.3 337.8 L2256.0 337.7 L2256.7 337.7 L2257.3 337.6 L2258.0 337.7 L2258.7 337.6 L2259.4 337.8 L2260.1 337.8 L2260.8 337.9 L2261.4 337.7 L2262.1 337.7 L2262.8 337.7 L2263.5 337.8 L2264.2 337.7 L2264.9 337.8 L2265.5 337.8 L2266.2 337.6 L2266.9 337.6 L2267.6 337.8 L2268.3 337.6 L2269.0 337.6 L2269.6 337.6 L2270.3 337.8 L2271.0 337.6 L2271.7 337.5 L2272.4 337.5 L2273.1 337.5 L2273.7 337.6 L2274.4 337.5 L2275.1 337.7 L2275.8 337.8 L2276.5 337.8 L2277.1 337.9 L2277.8 337.7 L2278.5 337.5 L2279.2 337.5 L2279.9 337.5 L2280.6 337.5 L2281.2 337.7 L2281.9 337.6 L2282.6 337.7 L2283.3 337.5 L2284.0 337.5 L2284.7 337.5 L2285.3 337.5 L2286.0 337.5 L2286.7 337.7 L2287.4 337.7 L2288.1 337.6 L2288.8 337.5 L2289.4 337.7 L2290.1 337.5 L2290.8 337.7 L2291.5 337.6 L2292.2 337.7 L2292.9 337.6 L2293.5 337.6 L2294.2 337.7 L2294.9 337.7 L2295.6 337.8 L2296.3 337.7 L2296.9 337.7 L2297.6 337.8 L2298.3 337.7 L2299.0 337.6 L2299.7 337.7 L2300.4 337.6 L2301.0 337.6 L2301.7 337.5 L2302.4 337.4 L2303.1 337.4 L2303.8 337.6 L2304.5 337.7 L2305.1 337.8 L2305.8 337.8 L2306.5 337.8 L2307.2 337.9 L2307.9 337.7 L2308.6 337.6 L2309.2 337.6 L2309.9 337.6 L2310.6 337.8 L2311.3 337.9 L2312.0 337.9 L2312.7 337.9 L2313.3 337.8 L2314.0 337.9 L2314.7 337.8 L2315.4 337.6 L2316.1 337.7 L2316.8 337.6 L2317.4 337.6 L2318.1 337.7 L2318.8 337.7 L2319.5 337.6 L2320.2 337.6 L2320.8 337.5 L2321.5 337.5 L2322.2 337.5 L2322.9 337.5 L2323.6 337.7 L2324.3 337.7 L2324.9 337.7 L2325.6 337.8 L2326.3 337.9 L2327.0 337.7 L2327.7 337.6 L2328.4 337.7 L2329.0 337.7 L2329.7 337.8 L2330.4 337.7 L2331.1 337.6 L2331.8 337.6 L2332.5 337.7 L2333.1 337.8 L2333.8 337.8 L2334.5 337.6 L2335.2 337.8 L2335.9 337.8 L2336.6 337.7 L2337.2 337.8 L2337.9 337.9 L2338.6 337.9 L2339.3 337.7 L2340.0 337.8 L2340.7 337.9 L2341.3 337.9 L2342.0 337.7 L2342.7 337.6 L2343.4 337.7 L2344.1 337.6 L2344.7 337.5 L2345.4 337.7 L2346.1 337.6 L2346.8 337.5 L2347.5 337.7 L2348.2 337.9 L2348.8 337.7 L2349.5 337.8 L2350.2 337.8 L2350.9 337.6 L2351.6 337.5 L2352.3 337.7 L2352.9 337.6 L2353.6 337.6 L2354.3 337.5 L2355.0 337.5 L2355.7 337.6 L2356.4 337.8 L2357.0 337.6 L2357.7 337.6 L2358.4 337.6 L2359.1 337.7 L2359.8 337.7 L2360.5 337.6 L2361.1 337.7 L2361.8 337.7 L2362.5 337.7" fill="none" stroke="#00FAC3" stroke-width="9" stroke-linejoin="round" stroke-linecap="butt"/>
<path d="M177.5 431.9 L178.2 431.9 L178.9 431.9 L179.5 432.0 L180.2 431.9 L180.9 431.7 L181.6 431.8 L182.3 431.7 L183.0 431.7 L183.6 431.6 L184.3 431.5 L185.0 431.6 L185.7 431.7 L186.4 431.7 L187.1 431.6 L187.7 431.6 L188.4 431.7 L189.1 431.7 L189.8 431.6 L190.5 431.5 L191.2 431.5 L191.8 431.4 L192.5 431.2 L193.2 431.1 L193.9 431.1 L194.6 430.9 L195.3 430.9 L195.9 430.8 L196.6 430.8 L197.3 430.7 L198.0 430.6 L198.7 430.6 L199.4 430.7 L200.0 430.6 L200.7 430.5 L201.4 430.6 L202.1 430.5 L202.8 430.3 L203.4 430.2 L204.1 430.1 L204.8 430.0 L205.5 430.0 L206.2 429.7 L206.9 429.7 L207.5 429.5 L208.2 429.4 L208.9 429.5 L209.6 429.5 L210.3 429.5 L211.0 429.5 L211.6 429.3 L212.3 429.3 L213.0 429.0 L213.7 428.9 L214.4 428.8 L215.1 428.8 L215.7 428.9 L216.4 428.8 L217.1 428.6 L217.8 428.7 L218.5 428.6 L219.2 428.5 L219.8 428.4 L220.5 428.6 L221.2 428.7 L221.9 428.6 L222.6 428.6 L223.2 428.6 L223.9 428.7 L224.6 428.6 L225.3 428.5 L226.0 428.6 L226.7 428.6 L227.3 428.8 L228.0 428.8 L228.7 428.9 L229.4 429.1 L230.1 429.1 L230.8 429.1 L231.4 429.1 L232.1 429.3 L232.8 429.3 L233.5 429.4 L234.2 429.3 L234.9 429.2 L235.5 429.3 L236.2 429.6 L236.9 429.6 L237.6 429.6 L238.3 429.8 L239.0 429.9 L239.6 430.1 L240.3 430.0 L241.0 430.1 L241.7 430.2 L242.4 430.3 L243.1 430.6 L243.7 430.5 L244.4 430.5 L245.1 430.6 L245.8 430.8 L246.5 430.9 L247.1 430.8 L247.8 430.8 L248.5 430.8 L249.2 430.9 L249.9 430.8 L250.6 431.0 L251.2 431.0 L251.9 431.1 L252.6 431.3 L253.3 431.4 L254.0 431.4 L254.7 431.3 L255.3 431.6 L256.0 431.7 L256.7 431.6 L257.4 431.6 L258.1 431.7 L258.8 431.9 L259.4 431.8 L260.1 431.9 L260.8 431.9 L261.5 431.9 L262.2 432.0 L262.9 432.1 L263.5 431.9 L264.2 432.0 L264.9 432.1 L265.6 432.0 L266.3 432.1 L266.9 432.2 L267.6 432.3 L268.3 432.2 L269.0 432.1 L269.7 432.1 L270.4 432.2 L271.0 432.2 L271.7 432.3 L272.4 432.1 L273.1 432.2 L273.8 432.3 L274.5 432.2 L275.1 432.2 L275.8 432.3 L276.5 432.3 L277.2 432.2 L277.9 432.3 L278.6 432.2 L279.2 432.1 L279.9 432.1 L280.6 432.3 L281.3 432.3 L282.0 432.3 L282.7 432.2 L283.3 432.3 L284.0 432.3 L284.7 432.3 L285.4 432.3 L286.1 432.2 L286.8 432.3 L287.4 432.2 L288.1 432.2 L288.8 432.2 L289.5 432.2 L290.2 432.2 L290.8 432.2 L291.5 432.1 L292.2 432.3 L292.9 432.2 L293.6 432.3 L294.3 432.2 L294.9 432.2 L295.6 432.4 L296.3 432.3 L297.0 432.4 L297.7 432.5 L298.4 432.4 L299.0 432.5 L299.7 432.3 L300.4 432.4 L301.1 432.5 L301.8 432.3 L302.5 432.3 L303.1 432.4 L303.8 432.2 L304.5 432.2 L305.2 432.3 L305.9 432.2 L306.6 432.4 L307.2 432.6 L307.9 432.6 L308.6 432.6 L309.3 432.4 L310.0 432.3 L310.6 432.2 L311.3 432.3 L312.0 432.5 L312.7 432.5 L313.4 432.6 L314.1 432.4 L314.7 432.3 L315.4 432.4 L316.1 432.5 L316.8 432.5 L317.5 432.5 L318.2 432.5 L318.8 432.5 L319.5 432.5 L320.2 432.6 L320.9 432.7 L321.6 432.5 L322.3 432.5 L322.9 432.5 L323.6 432.6 L324.3 432.6 L325.0 432.5 L325.7 432.6 L326.4 432.5 L327.0 432.6 L327.7 432.4 L328.4 432.3 L329.1 432.3 L329.8 432.3 L330.5 432.2 L331.1 432.3 L331.8 432.4 L332.5 432.5 L333.2 432.4 L333.9 432.4 L334.5 432.3 L335.2 432.3 L335.9 432.3 L336.6 432.2 L337.3 432.3 L338.0 432.3 L338.6 432.2 L339.3 432.4 L340.0 432.6 L340.7 432.6 L341.4 432.5 L342.1 432.4 L342.7 432.6 L343.4 432.5 L344.1 432.6 L344.8 432.5 L345.5 432.4 L346.2 432.3 L346.8 432.2 L347.5 432.3 L348.2 432.2 L348.9 432.4 L349.6 432.3 L350.3 432.3 L350.9 432.4 L351.6 432.5 L352.3 432.5 L353.0 432.3 L353.7 432.3 L354.3 432.4 L355.0 432.6 L355.7 432.5 L356.4 432.3 L357.1 432.5 L357.8 432.6 L358.4 432.5 L359.1 432.5 L359.8 432.5 L360.5 432.4 L361.2 432.5 L361.9 432.4 L362.5 432.5 L363.2 432.5 L363.9 432.4 L364.6 432.3 L365.3 432.3 L366.0 432.5 L366.6 432.6 L367.3 432.7 L368.0 432.6 L368.7 432.6 L369.4 432.7 L370.1 432.7 L370.7 432.6 L371.4 432.6 L372.1 432.5 L372.8 432.5 L373.5 432.3 L374.1 432.5 L374.8 432.5 L375.5 432.5 L376.2 432.6 L376.9 432.5 L377.6 432.5 L378.2 432.6 L378.9 432.5 L379.6 432.5 L380.3 432.6 L381.0 432.6 L381.7 432.7 L382.3 432.7 L383.0 432.6 L383.7 432.6 L384.4 432.6 L385.1 432.6 L385.8 432.4 L386.4 432.4 L387.1 432.4 L387.8 432.3 L388.5 432.3 L389.2 432.3 L389.9 432.3 L390.5 432.5 L391.2 432.5 L391.9 432.5 L392.6 432.5 L393.3 432.5 L394.0 432.5 L394.6 432.6 L395.3 432.7 L396.0 432.7 L396.7 432.6 L397.4 432.5 L398.0 432.5 L398.7 432.6 L399.4 432.7 L400.1 432.6 L400.8 432.4 L401.5 432.3 L402.1 432.3 L402.8 432.4 L403.5 432.3 L404.2 432.3 L404.9 432.4 L405.6 432.6 L406.2 432.6 L406.9 432.5 L407.6 432.7 L408.3 432.7 L409.0 432.8 L409.7 432.8 L410.3 432.5 L411.0 432.4 L411.7 432.6 L412.4 432.5 L413.1 432.4 L413.8 432.4 L414.4 432.5 L415.1 432.6 L415.8 432.7 L416.5 432.8 L417.2 432.6 L417.8 432.6 L418.5 432.6 L419.2 432.7 L419.9 432.5 L420.6 432.6 L421.3 432.7 L421.9 432.5 L422.6 432.6 L423.3 432.6 L424.0 432.7 L424.7 432.8 L425.4 432.7 L426.0 432.8 L426.7 432.6 L427.4 432.6 L428.1 432.7 L428.8 432.8 L429.5 432.6 L430.1 432.6 L430.8 432.6 L431.5 432.7 L432.2 432.5 L432.9 432.6 L433.6 432.6 L434.2 432.7 L434.9 432.5 L435.6 432.5 L436.3 432.4 L437.0 432.5 L437.7 432.4 L438.3 432.3 L439.0 432.5 L439.7 432.5 L440.4 432.5 L441.1 432.6 L441.7 432.4 L442.4 432.3 L443.1 432.2 L443.8 432.3 L444.5 432.3 L445.2 432.3 L445.8 432.3 L446.5 432.5 L447.2 432.5 L447.9 432.3 L448.6 432.4 L449.3 432.3 L449.9 432.4 L450.6 432.5 L451.3 432.5 L452.0 432.4 L452.7 432.6 L453.4 432.7 L454.0 432.6 L454.7 432.5 L455.4 432.5 L456.1 432.6 L456.8 432.5 L457.5 432.6 L458.1 432.7 L458.8 432.7 L459.5 432.6 L460.2 432.6 L460.9 432.6 L461.6 432.6 L462.2 432.7 L462.9 432.8 L463.6 432.8 L464.3 432.7 L465.0 432.6 L465.6 432.7 L466.3 432.5 L467.0 432.5 L467.7 432.6 L468.4 432.7 L469.1 432.8 L469.7 432.8 L470.4 432.8 L471.1 432.7 L471.8 432.6 L472.5 432.6 L473.2 432.6 L473.8 432.6 L474.5 432.6 L475.2 432.6 L475.9 432.6 L476.6 432.6 L477.3 432.7 L477.9 432.8 L478.6 432.6 L479.3 432.7 L480.0 432.6 L480.7 432.7 L481.4 432.6 L482.0 432.7 L482.7 432.6 L483.4 432.5 L484.1 432.5 L484.8 432.7 L485.4 432.5 L486.1 432.4 L486.8 432.4 L487.5 432.4 L488.2 432.6 L488.9 432.7 L489.5 432.6 L490.2 432.6 L490.9 432.5 L491.6 432.5 L492.3 432.4 L493.0 432.5 L493.6 432.6 L494.3 432.5 L495.0 432.5 L495.7 432.5 L496.4 432.5 L497.1 432.4 L497.7 432.5 L498.4 432.4 L499.1 432.4 L499.8 432.5 L500.5 432.6 L501.2 432.5 L501.8 432.6 L502.5 432.5 L503.2 432.4 L503.9 432.4 L504.6 432.5 L505.3 432.7 L505.9 432.6 L506.6 432.5 L507.3 432.4 L508.0 432.6 L508.7 432.7 L509.3 432.8 L510.0 432.6 L510.7 432.6 L511.4 432.7 L512.1 432.6 L512.8 432.6 L513.4 432.6 L514.1 432.4 L514.8 432.6 L515.5 432.6 L516.2 432.6 L516.9 432.6 L517.5 432.5 L518.2 432.5 L518.9 432.6 L519.6 432.6 L520.3 432.5 L521.0 432.6 L521.6 432.7 L522.3 432.7 L523.0 432.7 L523.7 432.7 L524.4 432.7 L525.1 432.6 L525.7 432.8 L526.4 432.7 L527.1 432.8 L527.8 432.7 L528.5 432.7 L529.1 432.6 L529.8 432.5 L530.5 432.6 L531.2 432.7 L531.9 432.6 L532.6 432.7 L533.2 432.7 L533.9 432.7 L534.6 432.8 L535.3 432.7 L536.0 432.8 L536.7 432.9 L537.3 432.7 L538.0 432.6 L538.7 432.7 L539.4 432.7 L540.1 432.7 L540.8 432.7 L541.4 432.7 L542.1 432.8 L542.8 432.7 L543.5 432.8 L544.2 432.7 L544.9 432.5 L545.5 432.6 L546.2 432.7 L546.9 432.6 L547.6 432.5 L548.3 432.5 L549.0 432.4 L549.6 432.3 L550.3 432.5 L551.0 432.6 L551.7 432.5 L552.4 432.4 L553.0 432.4 L553.7 432.5 L554.4 432.5 L555.1 432.7 L555.8 432.5 L556.5 432.7 L557.1 432.7 L557.8 432.7 L558.5 432.8 L559.2 432.6 L559.9 432.7 L560.6 432.7 L561.2 432.7 L561.9 432.9 L562.6 432.6 L563.3 432.5 L564.0 432.6 L564.7 432.7 L565.3 432.6 L566.0 432.5 L566.7 432.6 L567.4 432.6 L568.1 432.7 L568.8 432.8 L569.4 432.6 L570.1 432.7 L570.8 432.6 L571.5 432.7 L572.2 432.7 L572.8 432.7 L573.5 432.7 L574.2 432.7 L574.9 432.8 L575.6 432.7 L576.3 432.7 L576.9 432.7 L577.6 432.5 L578.3 432.6 L579.0 432.7 L579.7 432.8 L580.4 432.9 L581.0 432.8 L581.7 432.6 L582.4 432.7 L583.1 432.6 L583.8 432.7 L584.5 432.8 L585.1 432.7 L585.8 432.6 L586.5 432.7 L587.2 432.8 L587.9 432.7 L588.6 432.6 L589.2 432.5 L589.9 432.7 L590.6 432.6 L591.3 432.6 L592.0 432.6 L592.6 432.5 L593.3 432.4 L594.0 432.4 L594.7 432.4 L595.4 432.5 L596.1 432.6 L596.7 432.5 L597.4 432.6 L598.1 432.7 L598.8 432.8 L599.5 432.7 L600.2 432.6 L600.8 432.6 L601.5 432.7 L602.2 432.8 L602.9 432.7 L603.6 432.8 L604.3 432.6 L604.9 432.7 L605.6 432.5 L606.3 432.4 L607.0 432.3 L607.7 432.6 L608.4 432.7 L609.0 432.7 L609.7 432.8 L610.4 432.8 L611.1 432.6 L611.8 432.8 L612.5 432.7 L613.1 432.8 L613.8 432.9 L614.5 432.9 L615.2 433.0 L615.9 433.0 L616.5 432.9 L617.2 432.9 L617.9 433.0 L618.6 433.0 L619.3 432.8 L620.0 432.7 L620.6 432.7 L621.3 432.7 L622.0 432.6 L622.7 432.7 L623.4 432.7 L624.1 432.6 L624.7 432.7 L625.4 432.7 L626.1 432.5 L626.8 432.6 L627.5 432.7 L628.2 432.7 L628.8 432.6 L629.5 432.5 L630.2 432.4 L630.9 432.3 L631.6 432.5 L632.3 432.7 L632.9 432.6 L633.6 432.7 L634.3 432.6 L635.0 432.5 L635.7 432.6 L636.3 432.8 L637.0 432.7 L637.7 432.7 L638.4 432.6 L639.1 432.5 L639.8 432.5 L640.4 432.5 L641.1 432.4 L641.8 432.6 L642.5 432.5 L643.2 432.4 L643.9 432.6 L644.5 432.5 L645.2 432.5 L645.9 432.6 L646.6 432.5 L647.3 432.5 L648.0 432.6 L648.6 432.7 L649.3 432.8 L650.0 432.7 L650.7 432.8 L651.4 432.7 L652.1 432.5 L652.7 432.6 L653.4 432.7 L654.1 432.8 L654.8 432.9 L655.5 432.9 L656.2 433.0 L656.8 433.0 L657.5 432.9 L658.2 432.7 L658.9 432.6 L659.6 432.6 L660.2 432.7 L660.9 432.8 L661.6 432.7 L662.3 432.7 L663.0 432.7 L663.7 432.6 L664.3 432.7 L665.0 432.7 L665.7 432.7 L666.4 432.7 L667.1 432.8 L667.8 432.7 L668.4 432.7 L669.1 432.7 L669.8 432.8 L670.5 432.7 L671.2 432.7 L671.9 432.6 L672.5 432.7 L673.2 432.6 L673.9 432.6 L674.6 432.5 L675.3 432.7 L676.0 432.7 L676.6 432.7 L677.3 432.7 L678.0 432.7 L678.7 432.9 L679.4 432.9 L680.0 432.9 L680.7 432.8 L681.4 432.6 L682.1 432.5 L682.8 432.5 L683.5 432.7 L684.1 432.6 L684.8 432.7 L685.5 432.7 L686.2 432.8 L686.9 432.6 L687.6 432.8 L688.2 432.6 L688.9 432.6 L689.6 432.5 L690.3 432.5 L691.0 432.7 L691.7 432.6 L692.3 432.7 L693.0 432.7 L693.7 432.9 L694.4 432.7 L695.1 432.6 L695.8 432.7 L696.4 432.6 L697.1 432.6 L697.8 432.7 L698.5 432.7 L699.2 432.6 L699.9 432.6 L700.5 432.8 L701.2 432.6 L701.9 432.7 L702.6 432.7 L703.3 432.6 L703.9 432.6 L704.6 432.8 L705.3 432.9 L706.0 432.7 L706.7 432.6 L707.4 432.8 L708.0 432.8 L708.7 432.8 L709.4 432.9 L710.1 432.7 L710.8 432.6 L711.5 432.6 L712.1 432.8 L712.8 432.6 L713.5 432.7 L714.2 432.6 L714.9 432.7 L715.6 432.8 L716.2 432.8 L716.9 432.9 L717.6 432.9 L718.3 432.8 L719.0 432.7 L719.7 432.8 L720.3 432.7 L721.0 432.8 L721.7 432.7 L722.4 432.7 L723.1 432.7 L723.8 432.6 L724.4 432.6 L725.1 432.7 L725.8 432.6 L726.5 432.7 L727.2 432.6 L727.8 432.5 L728.5 432.6 L729.2 432.5 L729.9 432.6 L730.6 432.5 L731.3 432.7 L731.9 432.8 L732.6 432.7 L733.3 432.7 L734.0 432.6 L734.7 432.5 L735.4 432.6 L736.0 432.6 L736.7 432.5 L737.4 432.5 L738.1 432.6 L738.8 432.5 L739.5 432.5 L740.1 432.5 L740.8 432.4 L741.5 432.4 L742.2 432.4 L742.9 432.5 L743.6 432.7 L744.2 432.8 L744.9 432.8 L745.6 432.8 L746.3 432.7 L747.0 432.7 L747.6 432.8 L748.3 432.8 L749.0 432.7 L749.7 432.8 L750.4 432.9 L751.1 432.8 L751.7 432.8 L752.4 432.8 L753.1 432.9 L753.8 433.0 L754.5 433.0 L755.2 432.7 L755.8 432.8 L756.5 432.8 L757.2 432.8 L757.9 432.6 L758.6 432.7 L759.3 432.5 L759.9 432.6 L760.6 432.6 L761.3 432.6 L762.0 432.6 L762.7 432.6 L763.4 432.7 L764.0 432.6 L764.7 432.7 L765.4 432.7 L766.1 432.5 L766.8 432.6 L767.5 432.7 L768.1 432.8 L768.8 432.9 L769.5 432.8 L770.2 432.9 L770.9 433.0 L771.5 433.0 L772.2 432.7 L772.9 432.6 L773.6 432.8 L774.3 432.9 L775.0 432.7 L775.6 432.8 L776.3 432.7 L777.0 432.8 L777.7 432.8 L778.4 432.7 L779.1 432.6 L779.7 432.8 L780.4 432.9 L781.1 432.7 L781.8 432.8 L782.5 432.8 L783.2 432.9 L783.8 432.9 L784.5 432.7 L785.2 432.6 L785.9 432.7 L786.6 432.6 L787.3 432.6 L787.9 432.7 L788.6 432.8 L789.3 432.9 L790.0 432.9 L790.7 433.0 L791.3 433.0 L792.0 433.0 L792.7 433.0 L793.4 432.8 L794.1 432.7 L794.8 432.6 L795.4 432.6 L796.1 432.7 L796.8 432.7 L797.5 432.8 L798.2 432.6 L798.9 432.6 L799.5 432.6 L800.2 432.5 L800.9 432.7 L801.6 432.7 L802.3 432.7 L803.0 432.8 L803.6 432.7 L804.3 432.8 L805.0 432.9 L805.7 432.9 L806.4 432.7 L807.1 432.8 L807.7 432.6 L808.4 432.5 L809.1 432.6 L809.8 432.5 L810.5 432.7 L811.2 432.6 L811.8 432.8 L812.5 432.7 L813.2 432.8 L813.9 432.9 L814.6 432.9 L815.2 433.0 L815.9 432.9 L816.6 432.8 L817.3 433.0 L818.0 432.9 L818.7 432.8 L819.3 432.8 L820.0 432.9 L820.7 432.8 L821.4 432.7 L822.1 432.7 L822.8 432.8 L823.4 432.9 L824.1 433.0 L824.8 432.8 L825.5 432.7 L826.2 432.6 L826.9 432.5 L827.5 432.5 L828.2 432.4 L828.9 432.4 L829.6 432.6 L830.3 432.5 L831.0 432.6 L831.6 432.7 L832.3 432.7 L833.0 432.7 L833.7 432.8 L834.4 432.6 L835.0 432.5 L835.7 432.6 L836.4 432.7 L837.1 432.6 L837.8 432.7 L838.5 432.5 L839.1 432.5 L839.8 432.3 L840.5 432.3 L841.2 432.5 L841.9 432.3 L842.6 432.5 L843.2 432.4 L843.9 432.4 L844.6 432.4 L845.3 432.6 L846.0 432.4 L846.7 432.5 L847.3 432.6 L848.0 432.4 L848.7 432.3 L849.4 432.3 L850.1 432.4 L850.8 432.2 L851.4 432.1 L852.1 432.1 L852.8 432.0 L853.5 432.1 L854.2 432.1 L854.9 432.0 L855.5 432.0 L856.2 432.0 L856.9 432.0 L857.6 431.9 L858.3 431.9 L858.9 431.7 L859.6 431.7 L860.3 431.8 L861.0 431.6 L861.7 431.5 L862.4 431.3 L863.0 431.3 L863.7 431.2 L864.4 431.0 L865.1 430.8 L865.8 430.5 L866.5 430.4 L867.1 430.2 L867.8 429.9 L868.5 429.6 L869.2 429.1 L869.9 428.7 L870.6 428.4 L871.2 427.9 L871.9 427.1 L872.6 426.3 L873.3 425.4 L874.0 424.6 L874.7 423.5 L875.3 422.2 L876.0 420.7 L876.7 418.8 L877.4 416.3 L878.1 413.5 L878.7 410.1 L879.4 406.3 L880.1 401.6 L880.8 396.3 L881.5 390.0 L882.2 383.1 L882.8 375.4 L883.5 367.4 L884.2 360.0 L884.9 353.5 L885.6 349.1 L886.3 347.5 L886.9 348.6 L887.6 352.5 L888.3 358.5 L889.0 365.9 L889.7 373.8 L890.4 381.6 L891.0 388.6 L891.7 395.2 L892.4 400.7 L893.1 405.6 L893.8 409.5 L894.5 412.9 L895.1 415.9 L895.8 418.4 L896.5 420.5 L897.2 422.1 L897.9 423.4 L898.6 424.7 L899.2 425.7 L899.9 426.6 L900.6 427.2 L901.3 427.8 L902.0 428.4 L902.6 428.8 L903.3 429.2 L904.0 429.7 L904.7 429.9 L905.4 430.1 L906.1 430.2 L906.7 430.5 L907.4 430.8 L908.1 431.0 L908.8 431.2 L909.5 431.4 L910.2 431.3 L910.8 431.6 L911.5 431.6 L912.2 431.7 L912.9 431.8 L913.6 431.9 L914.3 431.8 L914.9 431.9 L915.6 432.0 L916.3 432.0 L917.0 432.0 L917.7 432.1 L918.4 432.0 L919.0 432.1 L919.7 432.0 L920.4 432.1 L921.1 432.4 L921.8 432.4 L922.4 432.3 L923.1 432.5 L923.8 432.4 L924.5 432.5 L925.2 432.7 L925.9 432.5 L926.5 432.5 L927.2 432.4 L927.9 432.6 L928.6 432.7 L929.3 432.7 L930.0 432.7 L930.6 432.6 L931.3 432.7 L932.0 432.8 L932.7 432.6 L933.4 432.6 L934.1 432.7 L934.7 432.8 L935.4 432.8 L936.1 432.8 L936.8 432.7 L937.5 432.6 L938.2 432.7 L938.8 432.8 L939.5 432.7 L940.2 432.8 L940.9 432.7 L941.6 432.8 L942.2 432.7 L942.9 432.6 L943.6 432.7 L944.3 432.7 L945.0 432.7 L945.7 432.7 L946.3 432.6 L947.0 432.7 L947.7 432.6 L948.4 432.7 L949.1 432.9 L949.8 432.9 L950.4 432.9 L951.1 433.0 L951.8 432.9 L952.5 432.8 L953.2 432.9 L953.9 432.7 L954.5 432.9 L955.2 432.8 L955.9 432.7 L956.6 432.6 L957.3 432.8 L958.0 432.8 L958.6 432.7 L959.3 432.9 L960.0 432.9 L960.7 433.0 L961.4 432.8 L962.1 432.9 L962.7 432.9 L963.4 433.0 L964.1 433.0 L964.8 433.0 L965.5 432.8 L966.1 432.7 L966.8 432.9 L967.5 433.0 L968.2 432.9 L968.9 432.9 L969.6 432.8 L970.2 432.8 L970.9 432.9 L971.6 433.0 L972.3 432.8 L973.0 432.7 L973.7 432.7 L974.3 432.6 L975.0 432.7 L975.7 432.7 L976.4 432.7 L977.1 432.9 L977.8 432.8 L978.4 432.8 L979.1 432.7 L979.8 432.6 L980.5 432.7 L981.2 432.9 L981.9 432.9 L982.5 432.9 L983.2 432.8 L983.9 433.0 L984.6 432.9 L985.3 432.8 L986.0 433.0 L986.6 433.0 L987.3 432.8 L988.0 432.7 L988.7 432.8 L989.4 432.9 L990.0 432.7 L990.7 432.7 L991.4 432.8 L992.1 432.9 L992.8 432.8 L993.5 432.8 L994.1 432.8 L994.8 432.6 L995.5 432.6 L996.2 432.7 L996.9 432.7 L997.6 432.7 L998.2 432.7 L998.9 432.9 L999.6 432.7 L1000.3 432.8 L1001.0 432.9 L1001.7 432.8 L1002.3 432.8 L1003.0 432.9 L1003.7 432.8 L1004.4 432.9 L1005.1 433.0 L1005.8 433.0 L1006.4 433.0 L1007.1 432.8 L1007.8 432.9 L1008.5 432.8 L1009.2 433.0 L1009.8 433.0 L1010.5 432.8 L1011.2 432.7 L1011.9 432.7 L1012.6 432.7 L1013.3 432.7 L1013.9 432.7 L1014.6 432.8 L1015.3 432.9 L1016.0 432.9 L1016.7 432.8 L1017.4 433.0 L1018.0 433.1 L1018.7 433.0 L1019.4 433.0 L1020.1 432.9 L1020.8 432.9 L1021.5 432.7 L1022.1 432.7 L1022.8 432.8 L1023.5 433.0 L1024.2 433.0 L1024.9 432.9 L1025.6 432.9 L1026.2 432.8 L1026.9 432.8 L1027.6 432.8 L1028.3 432.9 L1029.0 432.9 L1029.7 432.8 L1030.3 432.9 L1031.0 432.7 L1031.7 432.9 L1032.4 433.0 L1033.1 433.0 L1033.7 432.9 L1034.4 432.9 L1035.1 433.0 L1035.8 432.8 L1036.5 432.9 L1037.2 433.1 L1037.8 433.0 L1038.5 433.1 L1039.2 432.9 L1039.9 432.8 L1040.6 432.7 L1041.3 432.8 L1041.9 432.8 L1042.6 432.9 L1043.3 432.7 L1044.0 432.9 L1044.7 432.9 L1045.4 433.0 L1046.0 433.0 L1046.7 432.8 L1047.4 432.8 L1048.1 432.7 L1048.8 432.7 L1049.5 432.7 L1050.1 432.7 L1050.8 432.7 L1051.5 432.8 L1052.2 432.7 L1052.9 432.7 L1053.5 432.7 L1054.2 432.8 L1054.9 432.8 L1055.6 432.7 L1056.3 432.8 L1057.0 432.8 L1057.6 433.0 L1058.3 432.9 L1059.0 433.0 L1059.7 432.9 L1060.4 432.8 L1061.1 432.9 L1061.7 432.8 L1062.4 432.8 L1063.1 432.9 L1063.8 432.8 L1064.5 432.8 L1065.2 432.8 L1065.8 432.8 L1066.5 432.8 L1067.2 432.8 L1067.9 432.9 L1068.6 432.9 L1069.3 433.0 L1069.9 432.9 L1070.6 432.7 L1071.3 432.7 L1072.0 432.6 L1072.7 432.7 L1073.3 432.7 L1074.0 432.6 L1074.7 432.6 L1075.4 432.7 L1076.1 432.7 L1076.8 432.7 L1077.4 432.9 L1078.1 432.9 L1078.8 432.7 L1079.5 432.8 L1080.2 432.9 L1080.9 433.0 L1081.5 432.9 L1082.2 432.9 L1082.9 433.0 L1083.6 433.1 L1084.3 433.1 L1085.0 433.0 L1085.6 432.8 L1086.3 432.9 L1087.0 433.0 L1087.7 432.8 L1088.4 432.8 L1089.1 432.8 L1089.7 432.9 L1090.4 433.0 L1091.1 432.8 L1091.8 432.9 L1092.5 432.8 L1093.2 432.7 L1093.8 432.8 L1094.5 432.9 L1095.2 433.1 L1095.9 433.0 L1096.6 433.1 L1097.2 432.9 L1097.9 432.9 L1098.6 433.0 L1099.3 433.0 L1100.0 432.9 L1100.7 432.8 L1101.3 433.0 L1102.0 432.8 L1102.7 433.0 L1103.4 432.9 L1104.1 432.8 L1104.8 432.8 L1105.4 432.9 L1106.1 433.1 L1106.8 433.1 L1107.5 433.0 L1108.2 433.0 L1108.9 433.0 L1109.5 433.0 L1110.2 432.9 L1110.9 432.8 L1111.6 432.8 L1112.3 432.7 L1113.0 432.7 L1113.6 432.9 L1114.3 433.0 L1115.0 432.9 L1115.7 433.0 L1116.4 432.8 L1117.0 432.8 L1117.7 432.9 L1118.4 432.9 L1119.1 432.8 L1119.8 432.7 L1120.5 432.9 L1121.1 433.0 L1121.8 432.9 L1122.5 432.8 L1123.2 432.8 L1123.9 432.8 L1124.6 433.0 L1125.2 433.1 L1125.9 433.1 L1126.6 433.0 L1127.3 433.0 L1128.0 432.9 L1128.7 433.0 L1129.3 433.0 L1130.0 433.0 L1130.7 432.8 L1131.4 433.0 L1132.1 432.8 L1132.8 433.0 L1133.4 432.9 L1134.1 432.8 L1134.8 432.9 L1135.5 433.0 L1136.2 432.8 L1136.9 432.8 L1137.5 433.0 L1138.2 433.1 L1138.9 433.2 L1139.6 433.1 L1140.3 433.1 L1140.9 433.0 L1141.6 433.1 L1142.3 433.1 L1143.0 432.9 L1143.7 432.8 L1144.4 432.8 L1145.0 432.7 L1145.7 432.9 L1146.4 432.7 L1147.1 432.9 L1147.8 432.8 L1148.5 432.8 L1149.1 432.8 L1149.8 432.8 L1150.5 432.8 L1151.2 432.8 L1151.9 432.8 L1152.6 432.9 L1153.2 432.9 L1153.9 433.1 L1154.6 433.2 L1155.3 432.9 L1156.0 432.8 L1156.7 432.9 L1157.3 432.9 L1158.0 432.7 L1158.7 432.9 L1159.4 432.8 L1160.1 432.9 L1160.8 433.0 L1161.4 432.9 L1162.1 432.9 L1162.8 432.9 L1163.5 433.0 L1164.2 432.9 L1164.8 432.9 L1165.5 432.8 L1166.2 432.8 L1166.9 432.8 L1167.6 433.0 L1168.3 433.1 L1168.9 433.1 L1169.6 432.9 L1170.3 432.9 L1171.0 432.8 L1171.7 432.8 L1172.4 433.0 L1173.0 433.0 L1173.7 433.1 L1174.4 433.1 L1175.1 432.9 L1175.8 432.9 L1176.5 432.8 L1177.1 432.7 L1177.8 432.9 L1178.5 433.0 L1179.2 432.8 L1179.9 432.8 L1180.6 432.8 L1181.2 432.8 L1181.9 432.9 L1182.6 432.8 L1183.3 432.8 L1184.0 433.0 L1184.6 433.0 L1185.3 433.0 L1186.0 433.1 L1186.7 433.0 L1187.4 433.0 L1188.1 432.9 L1188.7 432.9 L1189.4 432.8 L1190.1 432.7 L1190.8 432.6 L1191.5 432.8 L1192.2 432.7 L1192.8 432.7 L1193.5 432.7 L1194.2 432.8 L1194.9 432.7 L1195.6 432.9 L1196.3 433.0 L1196.9 433.1 L1197.6 433.1 L1198.3 433.1 L1199.0 433.0 L1199.7 432.8 L1200.4 433.0 L1201.0 433.1 L1201.7 433.1 L1202.4 433.1 L1203.1 432.9 L1203.8 432.8 L1204.5 432.7 L1205.1 432.8 L1205.8 433.0 L1206.5 433.0 L1207.2 433.1 L1207.9 433.0 L1208.5 433.1 L1209.2 433.1 L1209.9 433.1 L1210.6 433.1 L1211.3 433.0 L1212.0 432.8 L1212.6 432.9 L1213.3 432.9 L1214.0 433.0 L1214.7 433.1 L1215.4 433.0 L1216.1 432.9 L1216.7 432.9 L1217.4 433.0 L1218.1 432.9 L1218.8 432.8 L1219.5 432.8 L1220.2 433.0 L1220.8 433.0 L1221.5 433.0 L1222.2 433.0 L1222.9 433.0 L1223.6 432.9 L1224.3 433.0 L1224.9 433.0 L1225.6 433.0 L1226.3 433.0 L1227.0 433.0 L1227.7 433.1 L1228.3 433.1 L1229.0 432.9 L1229.7 432.9 L1230.4 432.8 L1231.1 432.8 L1231.8 433.0 L1232.4 433.0 L1233.1 433.0 L1233.8 433.0 L1234.5 432.9 L1235.2 432.8 L1235.9 432.9 L1236.5 433.0 L1237.2 433.0 L1237.9 432.9 L1238.6 433.0 L1239.3 433.0 L1240.0 432.8 L1240.6 432.9 L1241.3 433.0 L1242.0 432.9 L1242.7 432.8 L1243.4 432.9 L1244.1 433.1 L1244.7 433.1 L1245.4 433.1 L1246.1 433.0 L1246.8 432.9 L1247.5 432.9 L1248.2 432.9 L1248.8 433.0 L1249.5 433.0 L1250.2 432.9 L1250.9 433.1 L1251.6 433.0 L1252.2 433.1 L1252.9 433.0 L1253.6 433.1 L1254.3 433.0 L1255.0 433.2 L1255.7 433.0 L1256.3 432.9 L1257.0 432.9 L1257.7 432.7 L1258.4 432.8 L1259.1 432.9 L1259.8 433.0 L1260.4 432.9 L1261.1 432.8 L1261.8 432.9 L1262.5 433.0 L1263.2 433.1 L1263.9 433.0 L1264.5 432.9 L1265.2 433.0 L1265.9 433.1 L1266.6 433.2 L1267.3 433.1 L1268.0 433.1 L1268.6 433.1 L1269.3 433.2 L1270.0 433.2 L1270.7 433.1 L1271.4 432.9 L1272.0 432.9 L1272.7 432.9 L1273.4 433.1 L1274.1 433.0 L1274.8 432.9 L1275.5 432.8 L1276.1 432.9 L1276.8 432.9 L1277.5 433.1 L1278.2 433.0 L1278.9 433.1 L1279.6 433.2 L1280.2 433.2 L1280.9 433.1 L1281.6 433.1 L1282.3 433.1 L1283.0 433.1 L1283.7 433.0 L1284.3 433.2 L1285.0 433.3 L1285.7 433.3 L1286.4 433.3 L1287.1 433.3 L1287.8 433.3 L1288.4 433.2 L1289.1 433.2 L1289.8 433.1 L1290.5 432.9 L1291.2 433.1 L1291.8 432.9 L1292.5 432.9 L1293.2 432.9 L1293.9 433.0 L1294.6 432.9 L1295.3 433.1 L1295.9 433.2 L1296.6 433.0 L1297.3 433.0 L1298.0 433.0 L1298.7 432.9 L1299.4 432.8 L1300.0 432.9 L1300.7 432.9 L1301.4 433.0 L1302.1 433.0 L1302.8 433.1 L1303.5 432.9 L1304.1 432.8 L1304.8 432.8 L1305.5 432.8 L1306.2 432.8 L1306.9 432.8 L1307.6 433.1 L1308.2 433.1 L1308.9 432.9 L1309.6 432.9 L1310.3 433.0 L1311.0 433.1 L1311.7 433.1 L1312.3 433.2 L1313.0 433.0 L1313.7 433.2 L1314.4 433.1 L1315.1 433.0 L1315.7 433.0 L1316.4 433.1 L1317.1 433.1 L1317.8 433.0 L1318.5 432.9 L1319.2 432.8 L1319.8 433.0 L1320.5 433.1 L1321.2 433.1 L1321.9 433.2 L1322.6 433.2 L1323.3 433.2 L1323.9 433.0 L1324.6 433.1 L1325.3 433.1 L1326.0 433.0 L1326.7 432.9 L1327.4 432.9 L1328.0 433.1 L1328.7 433.0 L1329.4 433.0 L1330.1 433.2 L1330.8 433.2 L1331.5 433.1 L1332.1 432.9 L1332.8 432.8 L1333.5 432.9 L1334.2 432.8 L1334.9 432.7 L1335.5 432.8 L1336.2 432.9 L1336.9 433.1 L1337.6 433.1 L1338.3 433.2 L1339.0 433.1 L1339.6 433.0 L1340.3 433.0 L1341.0 433.1 L1341.7 432.9 L1342.4 433.0 L1343.1 433.0 L1343.7 433.1 L1344.4 433.2 L1345.1 433.0 L1345.8 433.2 L1346.5 433.0 L1347.2 432.9 L1347.8 432.8 L1348.5 432.8 L1349.2 432.9 L1349.9 432.9 L1350.6 433.0 L1351.3 433.1 L1351.9 433.0 L1352.6 432.9 L1353.3 432.9 L1354.0 432.9 L1354.7 433.1 L1355.4 433.2 L1356.0 433.0 L1356.7 432.9 L1357.4 432.9 L1358.1 433.0 L1358.8 432.9 L1359.4 432.8 L1360.1 432.8 L1360.8 432.9 L1361.5 432.8 L1362.2 432.9 L1362.9 432.9 L1363.5 432.8 L1364.2 432.7 L1364.9 432.7 L1365.6 432.7 L1366.3 432.8 L1367.0 433.0 L1367.6 432.9 L1368.3 432.9 L1369.0 433.0 L1369.7 432.9 L1370.4 432.9 L1371.1 432.9 L1371.7 433.1 L1372.4 432.9 L1373.1 433.0 L1373.8 432.9 L1374.5 432.8 L1375.2 433.0 L1375.8 432.9 L1376.5 432.9 L1377.2 433.0 L1377.9 432.9 L1378.6 432.9 L1379.2 432.8 L1379.9 432.9 L1380.6 432.9 L1381.3 433.1 L1382.0 433.0 L1382.7 433.1 L1383.3 432.9 L1384.0 433.1 L1384.7 433.2 L1385.4 433.1 L1386.1 433.0 L1386.8 433.1 L1387.4 433.0 L1388.1 433.1 L1388.8 433.2 L1389.5 433.1 L1390.2 433.1 L1390.9 433.2 L1391.5 433.0 L1392.2 433.1 L1392.9 433.1 L1393.6 433.0 L1394.3 433.1 L1395.0 433.0 L1395.6 433.1 L1396.3 433.2 L1397.0 433.1 L1397.7 433.2 L1398.4 433.2 L1399.1 433.2 L1399.7 433.2 L1400.4 433.1 L1401.1 433.2 L1401.8 433.0 L1402.5 433.0 L1403.1 433.2 L1403.8 433.1 L1404.5 432.9 L1405.2 433.1 L1405.9 433.1 L1406.6 433.2 L1407.2 433.2 L1407.9 433.0 L1408.6 432.9 L1409.3 432.8 L1410.0 432.8 L1410.7 433.0 L1411.3 433.1 L1412.0 433.2 L1412.7 433.1 L1413.4 433.0 L1414.1 432.9 L1414.8 432.9 L1415.4 432.9 L1416.1 433.0 L1416.8 432.9 L1417.5 433.1 L1418.2 433.0 L1418.9 433.1 L1419.5 433.2 L1420.2 433.2 L1420.9 433.3 L1421.6 433.1 L1422.3 433.2 L1422.9 433.1 L1423.6 433.1 L1424.3 433.1 L1425.0 433.0 L1425.7 433.1 L1426.4 432.9 L1427.0 432.9 L1427.7 432.9 L1428.4 433.1 L1429.1 433.2 L1429.8 433.2 L1430.5 433.3 L1431.1 433.2 L1431.8 433.1 L1432.5 433.1 L1433.2 433.1 L1433.9 432.9 L1434.6 432.8 L1435.2 432.8 L1435.9 432.9 L1436.6 433.0 L1437.3 433.0 L1438.0 433.2 L1438.7 433.1 L1439.3 433.2 L1440.0 433.1 L1440.7 433.0 L1441.4 433.1 L1442.1 433.0 L1442.8 433.1 L1443.4 433.0 L1444.1 433.0 L1444.8 433.1 L1445.5 433.2 L1446.2 433.2 L1446.8 433.0 L1447.5 433.2 L1448.2 433.3 L1448.9 433.3 L1449.6 433.2 L1450.3 433.0 L1450.9 433.1 L1451.6 433.1 L1452.3 433.1 L1453.0 432.9 L1453.7 432.8 L1454.4 432.9 L1455.0 432.8 L1455.7 433.0 L1456.4 432.9 L1457.1 433.1 L1457.8 433.0 L1458.5 432.9 L1459.1 432.9 L1459.8 432.9 L1460.5 432.8 L1461.2 432.7 L1461.9 432.9 L1462.6 433.0 L1463.2 432.9 L1463.9 433.0 L1464.6 433.0 L1465.3 433.0 L1466.0 432.9 L1466.6 432.9 L1467.3 433.0 L1468.0 432.9 L1468.7 433.1 L1469.4 433.0 L1470.1 432.9 L1470.7 432.9 L1471.4 433.0 L1472.1 432.9 L1472.8 432.9 L1473.5 432.9 L1474.2 432.9 L1474.8 433.0 L1475.5 433.1 L1476.2 433.2 L1476.9 433.3 L1477.6 433.2 L1478.3 433.2 L1478.9 433.0 L1479.6 433.0 L1480.3 432.9 L1481.0 433.1 L1481.7 432.9 L1482.4 433.0 L1483.0 433.0 L1483.7 433.0 L1484.4 432.9 L1485.1 432.9 L1485.8 433.0 L1486.5 433.0 L1487.1 433.1 L1487.8 433.0 L1488.5 433.1 L1489.2 433.2 L1489.9 433.2 L1490.5 433.1 L1491.2 433.0 L1491.9 432.9 L1492.6 432.9 L1493.3 432.9 L1494.0 432.8 L1494.6 432.9 L1495.3 433.0 L1496.0 432.9 L1496.7 433.1 L1497.4 432.9 L1498.1 433.1 L1498.7 433.2 L1499.4 433.3 L1500.1 433.2 L1500.8 433.3 L1501.5 433.1 L1502.2 433.2 L1502.8 433.2 L1503.5 433.0 L1504.2 433.1 L1504.9 432.9 L1505.6 432.9 L1506.3 433.1 L1506.9 432.9 L1507.6 433.1 L1508.3 432.9 L1509.0 432.8 L1509.7 432.8 L1510.3 432.7 L1511.0 432.7 L1511.7 432.9 L1512.4 433.0 L1513.1 433.1 L1513.8 433.1 L1514.4 433.0 L1515.1 433.1 L1515.8 433.2 L1516.5 433.1 L1517.2 433.1 L1517.9 433.0 L1518.5 433.0 L1519.2 432.8 L1519.9 432.7 L1520.6 432.9 L1521.3 432.8 L1522.0 432.7 L1522.6 432.6 L1523.3 432.9 L1524.0 433.0 L1524.7 432.8 L1525.4 432.8 L1526.1 432.8 L1526.7 433.0 L1527.4 432.9 L1528.1 432.8 L1528.8 432.9 L1529.5 432.8 L1530.2 432.9 L1530.8 432.7 L1531.5 432.9 L1532.2 433.0 L1532.9 432.9 L1533.6 433.0 L1534.2 432.9 L1534.9 432.7 L1535.6 432.6 L1536.3 432.7 L1537.0 432.9 L1537.7 432.7 L1538.3 432.6 L1539.0 432.7 L1539.7 432.8 L1540.4 432.6 L1541.1 432.8 L1541.8 432.8 L1542.4 432.9 L1543.1 432.9 L1543.8 432.7 L1544.5 432.7 L1545.2 432.6 L1545.9 432.6 L1546.5 432.5 L1547.2 432.7 L1547.9 432.5 L1548.6 432.5 L1549.3 432.4 L1550.0 432.3 L1550.6 432.4 L1551.3 432.4 L1552.0 432.3 L1552.7 432.4 L1553.4 432.3 L1554.0 432.3 L1554.7 432.1 L1555.4 432.0 L1556.1 431.9 L1556.8 431.8 L1557.5 431.6 L1558.1 431.7 L1558.8 431.6 L1559.5 431.4 L1560.2 431.4 L1560.9 431.4 L1561.6 431.3 L1562.2 431.2 L1562.9 431.0 L1563.6 430.8 L1564.3 430.5 L1565.0 430.2 L1565.7 430.0 L1566.3 430.0 L1567.0 429.9 L1567.7 429.7 L1568.4 429.6 L1569.1 429.5 L1569.8 429.1 L1570.4 428.8 L1571.1 428.5 L1571.8 428.3 L1572.5 428.2 L1573.2 427.9 L1573.9 427.6 L1574.5 427.3 L1575.2 427.0 L1575.9 426.9 L1576.6 426.7 L1577.3 426.6 L1577.9 426.5 L1578.6 426.4 L1579.3 426.3 L1580.0 426.1 L1580.7 426.0 L1581.4 426.0 L1582.0 426.2 L1582.7 426.3 L1583.4 426.4 L1584.1 426.5 L1584.8 426.7 L1585.5 426.7 L1586.1 427.0 L1586.8 427.0 L1587.5 427.2 L1588.2 427.3 L1588.9 427.5 L1589.6 427.9 L1590.2 428.1 L1590.9 428.3 L1591.6 428.7 L1592.3 428.8 L1593.0 429.1 L1593.7 429.2 L1594.3 429.6 L1595.0 429.9 L1595.7 429.9 L1596.4 430.2 L1597.1 430.4 L1597.7 430.5 L1598.4 430.6 L1599.1 430.6 L1599.8 430.8 L1600.5 431.0 L1601.2 431.0 L1601.8 431.2 L1602.5 431.4 L1603.2 431.4 L1603.9 431.5 L1604.6 431.6 L1605.3 431.8 L1605.9 432.0 L1606.6 431.9 L1607.3 432.1 L1608.0 432.2 L1608.7 432.2 L1609.4 432.4 L1610.0 432.5 L1610.7 432.5 L1611.4 432.7 L1612.1 432.6 L1612.8 432.6 L1613.5 432.8 L1614.1 432.7 L1614.8 432.7 L1615.5 432.8 L1616.2 432.7 L1616.9 432.6 L1617.6 432.7 L1618.2 432.7 L1618.9 432.7 L1619.6 432.8 L1620.3 432.6 L1621.0 432.8 L1621.6 432.9 L1622.3 432.9 L1623.0 432.8 L1623.7 432.9 L1624.4 432.9 L1625.1 433.0 L1625.7 432.8 L1626.4 432.8 L1627.1 432.8 L1627.8 432.8 L1628.5 432.9 L1629.2 432.8 L1629.8 432.6 L1630.5 432.9 L1631.2 432.8 L1631.9 433.0 L1632.6 432.9 L1633.3 432.9 L1633.9 432.8 L1634.6 432.9 L1635.3 433.0 L1636.0 433.0 L1636.7 433.1 L1637.4 433.1 L1638.0 433.2 L1638.7 433.2 L1639.4 433.2 L1640.1 433.1 L1640.8 433.2 L1641.4 433.2 L1642.1 433.3 L1642.8 433.1 L1643.5 433.1 L1644.2 433.2 L1644.9 433.3 L1645.5 433.1 L1646.2 433.1 L1646.9 433.0 L1647.6 433.1 L1648.3 433.1 L1649.0 433.0 L1649.6 433.0 L1650.3 432.9 L1651.0 432.9 L1651.7 433.0 L1652.4 433.1 L1653.1 433.2 L1653.7 433.2 L1654.4 433.1 L1655.1 433.1 L1655.8 433.3 L1656.5 433.2 L1657.2 433.3 L1657.8 433.3 L1658.5 433.3 L1659.2 433.2 L1659.9 433.1 L1660.6 433.2 L1661.3 433.2 L1661.9 433.4 L1662.6 433.4 L1663.3 433.3 L1664.0 433.1 L1664.7 433.1 L1665.3 433.1 L1666.0 433.0 L1666.7 433.1 L1667.4 433.1 L1668.1 433.2 L1668.8 433.2 L1669.4 433.3 L1670.1 433.4 L1670.8 433.4 L1671.5 433.3 L1672.2 433.2 L1672.9 433.3 L1673.5 433.4 L1674.2 433.3 L1674.9 433.1 L1675.6 433.1 L1676.3 433.1 L1677.0 433.2 L1677.6 433.3 L1678.3 433.3 L1679.0 433.4 L1679.7 433.2 L1680.4 433.1 L1681.1 433.1 L1681.7 433.2 L1682.4 433.3 L1683.1 433.3 L1683.8 433.3 L1684.5 433.2 L1685.1 433.3 L1685.8 433.2 L1686.5 433.2 L1687.2 433.1 L1687.9 433.1 L1688.6 433.0 L1689.2 433.0 L1689.9 432.9 L1690.6 432.9 L1691.3 433.1 L1692.0 433.2 L1692.7 433.2 L1693.3 433.2 L1694.0 433.2 L1694.7 433.0 L1695.4 433.1 L1696.1 433.1 L1696.8 433.2 L1697.4 433.2 L1698.1 433.2 L1698.8 433.2 L1699.5 433.3 L1700.2 433.4 L1700.9 433.2 L1701.5 433.1 L1702.2 433.0 L1702.9 432.9 L1703.6 433.0 L1704.3 433.1 L1705.0 433.2 L1705.6 433.0 L1706.3 433.1 L1707.0 433.2 L1707.7 433.1 L1708.4 433.1 L1709.0 433.2 L1709.7 433.3 L1710.4 433.2 L1711.1 433.1 L1711.8 433.3 L1712.5 433.4 L1713.1 433.4 L1713.8 433.4 L1714.5 433.3 L1715.2 433.2 L1715.9 433.3 L1716.6 433.2 L1717.2 433.3 L1717.9 433.2 L1718.6 433.4 L1719.3 433.2 L1720.0 433.3 L1720.7 433.4 L1721.3 433.3 L1722.0 433.3 L1722.7 433.4 L1723.4 433.3 L1724.1 433.4 L1724.8 433.3 L1725.4 433.1 L1726.1 433.3 L1726.8 433.3 L1727.5 433.3 L1728.2 433.4 L1728.8 433.4 L1729.5 433.5 L1730.2 433.4 L1730.9 433.4 L1731.6 433.4 L1732.3 433.5 L1732.9 433.5 L1733.6 433.5 L1734.3 433.4 L1735.0 433.2 L1735.7 433.4 L1736.4 433.4 L1737.0 433.5 L1737.7 433.4 L1738.4 433.3 L1739.1 433.2 L1739.8 433.1 L1740.5 433.3 L1741.1 433.3 L1741.8 433.4 L1742.5 433.4 L1743.2 433.3 L1743.9 433.4 L1744.6 433.3 L1745.2 433.4 L1745.9 433.3 L1746.6 433.4 L1747.3 433.4 L1748.0 433.2 L1748.7 433.3 L1749.3 433.4 L1750.0 433.3 L1750.7 433.2 L1751.4 433.3 L1752.1 433.1 L1752.7 433.1 L1753.4 433.2 L1754.1 433.3 L1754.8 433.3 L1755.5 433.4 L1756.2 433.5 L1756.8 433.4 L1757.5 433.3 L1758.2 433.3 L1758.9 433.4 L1759.6 433.5 L1760.3 433.4 L1760.9 433.5 L1761.6 433.4 L1762.3 433.4 L1763.0 433.5 L1763.7 433.5 L1764.4 433.4 L1765.0 433.2 L1765.7 433.3 L1766.4 433.3 L1767.1 433.1 L1767.8 433.1 L1768.5 433.2 L1769.1 433.1 L1769.8 433.1 L1770.5 433.0 L1771.2 433.2 L1771.9 433.2 L1772.5 433.4 L1773.2 433.3 L1773.9 433.2 L1774.6 433.1 L1775.3 433.1 L1776.0 433.1 L1776.6 433.2 L1777.3 433.4 L1778.0 433.4 L1778.7 433.3 L1779.4 433.2 L1780.1 433.3 L1780.7 433.2 L1781.4 433.3 L1782.1 433.2 L1782.8 433.3 L1783.5 433.5 L1784.2 433.3 L1784.8 433.1 L1785.5 433.2 L1786.2 433.4 L1786.9 433.4 L1787.6 433.3 L1788.3 433.1 L1788.9 433.2 L1789.6 433.1 L1790.3 433.3 L1791.0 433.2 L1791.7 433.1 L1792.4 433.3 L1793.0 433.1 L1793.7 433.1 L1794.4 433.1 L1795.1 433.2 L1795.8 433.1 L1796.4 433.1 L1797.1 433.2 L1797.8 433.3 L1798.5 433.2 L1799.2 433.3 L1799.9 433.3 L1800.5 433.3 L1801.2 433.3 L1801.9 433.3 L1802.6 433.4 L1803.3 433.2 L1804.0 433.2 L1804.6 433.1 L1805.3 433.2 L1806.0 433.3 L1806.7 433.4 L1807.4 433.5 L1808.1 433.5 L1808.7 433.4 L1809.4 433.3 L1810.1 433.2 L1810.8 433.2 L1811.5 433.3 L1812.2 433.4 L1812.8 433.2 L1813.5 433.2 L1814.2 433.3 L1814.9 433.2 L1815.6 433.4 L1816.2 433.4 L1816.9 433.5 L1817.6 433.4 L1818.3 433.4 L1819.0 433.5 L1819.7 433.6 L1820.3 433.6 L1821.0 433.4 L1821.7 433.2 L1822.4 433.2 L1823.1 433.2 L1823.8 433.1 L1824.4 433.3 L1825.1 433.2 L1825.8 433.2 L1826.5 433.1 L1827.2 433.0 L1827.9 433.1 L1828.5 433.1 L1829.2 433.1 L1829.9 433.0 L1830.6 433.0 L1831.3 433.1 L1832.0 433.3 L1832.6 433.3 L1833.3 433.1 L1834.0 433.3 L1834.7 433.3 L1835.4 433.4 L1836.1 433.5 L1836.7 433.3 L1837.4 433.4 L1838.1 433.5 L1838.8 433.5 L1839.5 433.6 L1840.1 433.5 L1840.8 433.5 L1841.5 433.4 L1842.2 433.5 L1842.9 433.6 L1843.6 433.5 L1844.2 433.5 L1844.9 433.4 L1845.6 433.4 L1846.3 433.4 L1847.0 433.5 L1847.7 433.6 L1848.3 433.6 L1849.0 433.5 L1849.7 433.3 L1850.4 433.4 L1851.1 433.3 L1851.8 433.3 L1852.4 433.2 L1853.1 433.1 L1853.8 433.0 L1854.5 433.0 L1855.2 433.0 L1855.9 433.2 L1856.5 433.1 L1857.2 433.2 L1857.9 433.3 L1858.6 433.3 L1859.3 433.4 L1860.0 433.3 L1860.6 433.1 L1861.3 433.1 L1862.0 433.1 L1862.7 433.1 L1863.4 433.1 L1864.0 433.3 L1864.7 433.4 L1865.4 433.4 L1866.1 433.5 L1866.8 433.5 L1867.5 433.5 L1868.1 433.3 L1868.8 433.3 L1869.5 433.5 L1870.2 433.2 L1870.9 433.2 L1871.6 433.2 L1872.2 433.2 L1872.9 433.1 L1873.6 433.2 L1874.3 433.2 L1875.0 433.1 L1875.7 433.2 L1876.3 433.4 L1877.0 433.4 L1877.7 433.2 L1878.4 433.1 L1879.1 433.1 L1879.8 433.2 L1880.4 433.1 L1881.1 433.1 L1881.8 433.3 L1882.5 433.2 L1883.2 433.1 L1883.8 433.0 L1884.5 433.0 L1885.2 433.1 L1885.9 433.2 L1886.6 433.3 L1887.3 433.2 L1887.9 433.1 L1888.6 433.1 L1889.3 433.2 L1890.0 433.2 L1890.7 433.3 L1891.4 433.4 L1892.0 433.3 L1892.7 433.2 L1893.4 433.1 L1894.1 433.3 L1894.8 433.2 L1895.5 433.1 L1896.1 433.2 L1896.8 433.3 L1897.5 433.4 L1898.2 433.2 L1898.9 433.4 L1899.6 433.2 L1900.2 433.4 L1900.9 433.4 L1901.6 433.4 L1902.3 433.5 L1903.0 433.4 L1903.7 433.4 L1904.3 433.5 L1905.0 433.6 L1905.7 433.6 L1906.4 433.5 L1907.1 433.5 L1907.7 433.4 L1908.4 433.3 L1909.1 433.3 L1909.8 433.3 L1910.5 433.3 L1911.2 433.4 L1911.8 433.3 L1912.5 433.3 L1913.2 433.2 L1913.9 433.3 L1914.6 433.3 L1915.3 433.4 L1915.9 433.4 L1916.6 433.5 L1917.3 433.5 L1918.0 433.6 L1918.7 433.5 L1919.4 433.6 L1920.0 433.4 L1920.7 433.3 L1921.4 433.2 L1922.1 433.2 L1922.8 433.4 L1923.5 433.3 L1924.1 433.1 L1924.8 433.1 L1925.5 433.0 L1926.2 433.0 L1926.9 433.1 L1927.5 433.0 L1928.2 433.2 L1928.9 433.1 L1929.6 433.2 L1930.3 433.2 L1931.0 433.3 L1931.6 433.4 L1932.3 433.5 L1933.0 433.5 L1933.7 433.3 L1934.4 433.3 L1935.1 433.4 L1935.7 433.5 L1936.4 433.3 L1937.1 433.2 L1937.8 433.4 L1938.5 433.4 L1939.2 433.5 L1939.8 433.3 L1940.5 433.3 L1941.2 433.4 L1941.9 433.5 L1942.6 433.3 L1943.3 433.2 L1943.9 433.3 L1944.6 433.4 L1945.3 433.3 L1946.0 433.4 L1946.7 433.4 L1947.4 433.5 L1948.0 433.6 L1948.7 433.7 L1949.4 433.5 L1950.1 433.4 L1950.8 433.4 L1951.4 433.3 L1952.1 433.2 L1952.8 433.3 L1953.5 433.2 L1954.2 433.3 L1954.9 433.3 L1955.5 433.2 L1956.2 433.2 L1956.9 433.4 L1957.6 433.3 L1958.3 433.5 L1959.0 433.4 L1959.6 433.3 L1960.3 433.3 L1961.0 433.2 L1961.7 433.2 L1962.4 433.3 L1963.1 433.4 L1963.7 433.4 L1964.4 433.4 L1965.1 433.6 L1965.8 433.5 L1966.5 433.3 L1967.2 433.3 L1967.8 433.2 L1968.5 433.1 L1969.2 433.0 L1969.9 433.2 L1970.6 433.3 L1971.2 433.2 L1971.9 433.2 L1972.6 433.3 L1973.3 433.2 L1974.0 433.3 L1974.7 433.4 L1975.3 433.5 L1976.0 433.6 L1976.7 433.7 L1977.4 433.4 L1978.1 433.3 L1978.8 433.5 L1979.4 433.4 L1980.1 433.5 L1980.8 433.5 L1981.5 433.5 L1982.2 433.3 L1982.9 433.4 L1983.5 433.3 L1984.2 433.1 L1984.9 433.1 L1985.6 433.0 L1986.3 433.2 L1987.0 433.2 L1987.6 433.1 L1988.3 433.3 L1989.0 433.2 L1989.7 433.4 L1990.4 433.5 L1991.1 433.6 L1991.7 433.4 L1992.4 433.5 L1993.1 433.6 L1993.8 433.4 L1994.5 433.2 L1995.1 433.4 L1995.8 433.5 L1996.5 433.5 L1997.2 433.5 L1997.9 433.5 L1998.6 433.3 L1999.2 433.4 L1999.9 433.3 L2000.6 433.2 L2001.3 433.1 L2002.0 433.1 L2002.7 433.0 L2003.3 433.0 L2004.0 433.2 L2004.7 433.3 L2005.4 433.2 L2006.1 433.2 L2006.8 433.3 L2007.4 433.4 L2008.1 433.3 L2008.8 433.4 L2009.5 433.4 L2010.2 433.5 L2010.9 433.3 L2011.5 433.5 L2012.2 433.4 L2012.9 433.5 L2013.6 433.4 L2014.3 433.2 L2014.9 433.1 L2015.6 433.2 L2016.3 433.1 L2017.0 433.1 L2017.7 433.3 L2018.4 433.2 L2019.0 433.1 L2019.7 433.1 L2020.4 433.3 L2021.1 433.2 L2021.8 433.2 L2022.5 433.2 L2023.1 433.2 L2023.8 433.4 L2024.5 433.3 L2025.2 433.5 L2025.9 433.5 L2026.6 433.6 L2027.2 433.4 L2027.9 433.3 L2028.6 433.3 L2029.3 433.5 L2030.0 433.4 L2030.7 433.2 L2031.3 433.3 L2032.0 433.4 L2032.7 433.3 L2033.4 433.3 L2034.1 433.3 L2034.8 433.4 L2035.4 433.5 L2036.1 433.6 L2036.8 433.4 L2037.5 433.4 L2038.2 433.3 L2038.8 433.3 L2039.5 433.2 L2040.2 433.3 L2040.9 433.3 L2041.6 433.2 L2042.3 433.2 L2042.9 433.4 L2043.6 433.5 L2044.3 433.5 L2045.0 433.5 L2045.7 433.3 L2046.4 433.5 L2047.0 433.5 L2047.7 433.5 L2048.4 433.3 L2049.1 433.2 L2049.8 433.3 L2050.5 433.3 L2051.1 433.5 L2051.8 433.5 L2052.5 433.7 L2053.2 433.4 L2053.9 433.4 L2054.6 433.5 L2055.2 433.6 L2055.9 433.7 L2056.6 433.5 L2057.3 433.4 L2058.0 433.4 L2058.6 433.4 L2059.3 433.6 L2060.0 433.5 L2060.7 433.4 L2061.4 433.3 L2062.1 433.4 L2062.7 433.4 L2063.4 433.3 L2064.1 433.3 L2064.8 433.3 L2065.5 433.4 L2066.2 433.5 L2066.8 433.3 L2067.5 433.2 L2068.2 433.2 L2068.9 433.2 L2069.6 433.2 L2070.3 433.2 L2070.9 433.2 L2071.6 433.2 L2072.3 433.2 L2073.0 433.1 L2073.7 433.2 L2074.4 433.2 L2075.0 433.1 L2075.7 433.3 L2076.4 433.4 L2077.1 433.5 L2077.8 433.4 L2078.5 433.4 L2079.1 433.5 L2079.8 433.5 L2080.5 433.6 L2081.2 433.4 L2081.9 433.4 L2082.5 433.3 L2083.2 433.2 L2083.9 433.3 L2084.6 433.2 L2085.3 433.2 L2086.0 433.3 L2086.6 433.3 L2087.3 433.3 L2088.0 433.3 L2088.7 433.5 L2089.4 433.5 L2090.1 433.6 L2090.7 433.5 L2091.4 433.4 L2092.1 433.5 L2092.8 433.5 L2093.5 433.5 L2094.2 433.4 L2094.8 433.5 L2095.5 433.5 L2096.2 433.3 L2096.9 433.3 L2097.6 433.2 L2098.3 433.1 L2098.9 433.3 L2099.6 433.3 L2100.3 433.4 L2101.0 433.3 L2101.7 433.2 L2102.3 433.2 L2103.0 433.3 L2103.7 433.2 L2104.4 433.4 L2105.1 433.5 L2105.8 433.4 L2106.4 433.4 L2107.1 433.5 L2107.8 433.3 L2108.5 433.3 L2109.2 433.2 L2109.9 433.2 L2110.5 433.3 L2111.2 433.2 L2111.9 433.3 L2112.6 433.4 L2113.3 433.4 L2114.0 433.3 L2114.6 433.4 L2115.3 433.3 L2116.0 433.4 L2116.7 433.4 L2117.4 433.2 L2118.1 433.3 L2118.7 433.1 L2119.4 433.0 L2120.1 433.1 L2120.8 433.2 L2121.5 433.2 L2122.2 433.0 L2122.8 432.9 L2123.5 432.8 L2124.2 433.0 L2124.9 433.0 L2125.6 433.0 L2126.2 432.9 L2126.9 432.9 L2127.6 432.9 L2128.3 432.8 L2129.0 432.8 L2129.7 432.9 L2130.3 433.1 L2131.0 433.1 L2131.7 433.2 L2132.4 433.2 L2133.1 433.0 L2133.8 432.9 L2134.4 433.0 L2135.1 433.1 L2135.8 433.0 L2136.5 433.0 L2137.2 432.8 L2137.9 432.9 L2138.5 432.8 L2139.2 432.9 L2139.9 432.9 L2140.6 432.9 L2141.3 432.7 L2142.0 432.5 L2142.6 432.5 L2143.3 432.4 L2144.0 432.5 L2144.7 432.6 L2145.4 432.5 L2146.0 432.4 L2146.7 432.3 L2147.4 432.4 L2148.1 432.5 L2148.8 432.5 L2149.5 432.4 L2150.1 432.3 L2150.8 432.0 L2151.5 431.9 L2152.2 431.8 L2152.9 431.7 L2153.6 431.4 L2154.2 431.3 L2154.9 431.0 L2155.6 430.8 L2156.3 430.5 L2157.0 430.3 L2157.7 430.0 L2158.3 429.7 L2159.0 429.5 L2159.7 429.2 L2160.4 429.0 L2161.1 428.7 L2161.8 428.2 L2162.4 427.7 L2163.1 427.4 L2163.8 427.0 L2164.5 426.2 L2165.2 425.8 L2165.9 425.1 L2166.5 424.7 L2167.2 424.0 L2167.9 423.5 L2168.6 422.9 L2169.3 422.4 L2169.9 421.9 L2170.6 421.5 L2171.3 421.1 L2172.0 420.8 L2172.7 420.7 L2173.4 420.6 L2174.0 420.6 L2174.7 420.6 L2175.4 420.7 L2176.1 420.9 L2176.8 421.2 L2177.5 421.5 L2178.1 422.1 L2178.8 422.5 L2179.5 422.9 L2180.2 423.4 L2180.9 424.1 L2181.6 424.7 L2182.2 425.4 L2182.9 425.8 L2183.6 426.4 L2184.3 426.8 L2185.0 427.4 L2185.7 427.9 L2186.3 428.2 L2187.0 428.4 L2187.7 428.9 L2188.4 429.4 L2189.1 429.6 L2189.7 430.0 L2190.4 430.2 L2191.1 430.6 L2191.8 430.9 L2192.5 431.1 L2193.2 431.4 L2193.8 431.4 L2194.5 431.6 L2195.2 431.7 L2195.9 431.9 L2196.6 432.0 L2197.3 431.9 L2197.9 432.1 L2198.6 432.2 L2199.3 432.4 L2200.0 432.6 L2200.7 432.4 L2201.4 432.6 L2202.0 432.6 L2202.7 432.5 L2203.4 432.6 L2204.1 432.7 L2204.8 432.7 L2205.5 432.9 L2206.1 432.8 L2206.8 432.8 L2207.5 432.9 L2208.2 433.0 L2208.9 432.8 L2209.6 432.9 L2210.2 433.0 L2210.9 433.0 L2211.6 433.0 L2212.3 433.0 L2213.0 433.0 L2213.6 433.1 L2214.3 433.0 L2215.0 432.9 L2215.7 432.9 L2216.4 433.1 L2217.1 433.1 L2217.7 433.0 L2218.4 433.0 L2219.1 433.0 L2219.8 433.1 L2220.5 432.9 L2221.2 432.9 L2221.8 433.0 L2222.5 433.0 L2223.2 432.9 L2223.9 432.9 L2224.6 432.9 L2225.3 432.9 L2225.9 433.1 L2226.6 433.3 L2227.3 433.3 L2228.0 433.2 L2228.7 433.2 L2229.4 433.1 L2230.0 433.2 L2230.7 433.3 L2231.4 433.4 L2232.1 433.3 L2232.8 433.4 L2233.4 433.3 L2234.1 433.2 L2234.8 433.1 L2235.5 433.3 L2236.2 433.4 L2236.9 433.3 L2237.5 433.2 L2238.2 433.1 L2238.9 433.1 L2239.6 433.3 L2240.3 433.1 L2241.0 433.0 L2241.6 433.2 L2242.3 433.2 L2243.0 433.2 L2243.7 433.2 L2244.4 433.2 L2245.1 433.3 L2245.7 433.2 L2246.4 433.2 L2247.1 433.3 L2247.8 433.2 L2248.5 433.2 L2249.2 433.2 L2249.8 433.4 L2250.5 433.4 L2251.2 433.4 L2251.9 433.3 L2252.6 433.4 L2253.2 433.6 L2253.9 433.6 L2254.6 433.4 L2255.3 433.4 L2256.0 433.3 L2256.7 433.2 L2257.3 433.4 L2258.0 433.4 L2258.7 433.4 L2259.4 433.4 L2260.1 433.4 L2260.8 433.3 L2261.4 433.2 L2262.1 433.3 L2262.8 433.3 L2263.5 433.3 L2264.2 433.3 L2264.9 433.3 L2265.5 433.3 L2266.2 433.5 L2266.9 433.5 L2267.6 433.5 L2268.3 433.6 L2269.0 433.5 L2269.6 433.4 L2270.3 433.2 L2271.0 433.4 L2271.7 433.5 L2272.4 433.3 L2273.1 433.2 L2273.7 433.2 L2274.4 433.1 L2275.1 433.3 L2275.8 433.2 L2276.5 433.1 L2277.1 433.1 L2277.8 433.3 L2278.5 433.4 L2279.2 433.4 L2279.9 433.6 L2280.6 433.4 L2281.2 433.4 L2281.9 433.4 L2282.6 433.4 L2283.3 433.4 L2284.0 433.6 L2284.7 433.4 L2285.3 433.3 L2286.0 433.4 L2286.7 433.4 L2287.4 433.3 L2288.1 433.4 L2288.8 433.5 L2289.4 433.6 L2290.1 433.5 L2290.8 433.5 L2291.5 433.7 L2292.2 433.7 L2292.9 433.6 L2293.5 433.6 L2294.2 433.5 L2294.9 433.6 L2295.6 433.7 L2296.3 433.7 L2296.9 433.6 L2297.6 433.5 L2298.3 433.5 L2299.0 433.4 L2299.7 433.4 L2300.4 433.5 L2301.0 433.6 L2301.7 433.6 L2302.4 433.5 L2303.1 433.4 L2303.8 433.5 L2304.5 433.5 L2305.1 433.5 L2305.8 433.4 L2306.5 433.4 L2307.2 433.3 L2307.9 433.4 L2308.6 433.5 L2309.2 433.5 L2309.9 433.6 L2310.6 433.6 L2311.3 433.7 L2312.0 433.7 L2312.7 433.6 L2313.3 433.5 L2314.0 433.6 L2314.7 433.5 L2315.4 433.4 L2316.1 433.6 L2316.8 433.6 L2317.4 433.4 L2318.1 433.6 L2318.8 433.5 L2319.5 433.5 L2320.2 433.5 L2320.8 433.4 L2321.5 433.3 L2322.2 433.4 L2322.9 433.5 L2323.6 433.5 L2324.3 433.6 L2324.9 433.7 L2325.6 433.5 L2326.3 433.7 L2327.0 433.6 L2327.7 433.5 L2328.4 433.7 L2329.0 433.7 L2329.7 433.6 L2330.4 433.6 L2331.1 433.5 L2331.8 433.6 L2332.5 433.6 L2333.1 433.7 L2333.8 433.8 L2334.5 433.5 L2335.2 433.4 L2335.9 433.4 L2336.6 433.5 L2337.2 433.6 L2337.9 433.6 L2338.6 433.4 L2339.3 433.6 L2340.0 433.4 L2340.7 433.5 L2341.3 433.4 L2342.0 433.5 L2342.7 433.4 L2343.4 433.3 L2344.1 433.3 L2344.7 433.2 L2345.4 433.4 L2346.1 433.5 L2346.8 433.5 L2347.5 433.7 L2348.2 433.5 L2348.8 433.6 L2349.5 433.5 L2350.2 433.5 L2350.9 433.5 L2351.6 433.6 L2352.3 433.5 L2352.9 433.5 L2353.6 433.4 L2354.3 433.6 L2355.0 433.5 L2355.7 433.4 L2356.4 433.6 L2357.0 433.6 L2357.7 433.7 L2358.4 433.5 L2359.1 433.5 L2359.8 433.5 L2360.5 433.6 L2361.1 433.5 L2361.8 433.4 L2362.5 433.5" fill="none" stroke="#FEE985" stroke-width="9" stroke-linejoin="round" stroke-linecap="butt"/>
<path d="M177.5 516.7 L178.2 516.7 L178.9 516.9 L179.5 516.9 L180.2 516.9 L180.9 517.0 L181.6 516.9 L182.3 516.8 L183.0 516.7 L183.6 516.5 L184.3 516.7 L185.0 516.8 L185.7 516.8 L186.4 516.7 L187.1 516.6 L187.7 516.7 L188.4 516.8 L189.1 516.8 L189.8 516.9 L190.5 516.8 L191.2 516.8 L191.8 516.8 L192.5 516.9 L193.2 516.9 L193.9 516.8 L194.6 516.8 L195.3 517.0 L195.9 516.9 L196.6 516.8 L197.3 516.7 L198.0 516.6 L198.7 516.7 L199.4 516.9 L200.0 516.7 L200.7 516.9 L201.4 516.9 L202.1 516.8 L202.8 516.8 L203.4 516.7 L204.1 516.6 L204.8 516.8 L205.5 516.7 L206.2 516.8 L206.9 516.8 L207.5 516.9 L208.2 516.7 L208.9 516.8 L209.6 516.8 L210.3 516.6 L211.0 516.8 L211.6 516.8 L212.3 516.8 L213.0 517.0 L213.7 516.9 L214.4 516.9 L215.1 516.9 L215.7 516.8 L216.4 516.8 L217.1 516.9 L217.8 517.0 L218.5 517.1 L219.2 517.0 L219.8 517.1 L220.5 517.0 L221.2 517.0 L221.9 517.0 L222.6 517.0 L223.2 516.9 L223.9 516.9 L224.6 516.9 L225.3 517.0 L226.0 517.0 L226.7 517.0 L227.3 516.8 L228.0 516.7 L228.7 516.8 L229.4 516.8 L230.1 516.7 L230.8 516.8 L231.4 516.8 L232.1 516.7 L232.8 516.9 L233.5 516.7 L234.2 516.7 L234.9 516.7 L235.5 516.8 L236.2 516.7 L236.9 516.6 L237.6 516.6 L238.3 516.6 L239.0 516.7 L239.6 516.7 L240.3 516.9 L241.0 516.9 L241.7 517.0 L242.4 516.9 L243.1 516.8 L243.7 516.6 L244.4 516.6 L245.1 516.6 L245.8 516.7 L246.5 516.7 L247.1 516.7 L247.8 516.8 L248.5 516.8 L249.2 516.8 L249.9 516.8 L250.6 517.0 L251.2 516.8 L251.9 516.8 L252.6 516.7 L253.3 516.6 L254.0 516.7 L254.7 516.8 L255.3 516.7 L256.0 516.8 L256.7 516.7 L257.4 516.6 L258.1 516.7 L258.8 516.9 L259.4 517.0 L260.1 516.9 L260.8 516.8 L261.5 516.9 L262.2 516.8 L262.9 516.7 L263.5 516.8 L264.2 516.9 L264.9 517.0 L265.6 517.0 L266.3 516.9 L266.9 516.9 L267.6 517.1 L268.3 516.9 L269.0 516.9 L269.7 516.9 L270.4 517.0 L271.0 517.0 L271.7 516.9 L272.4 517.0 L273.1 517.0 L273.8 516.8 L274.5 516.8 L275.1 516.9 L275.8 516.8 L276.5 516.8 L277.2 516.9 L277.9 516.7 L278.6 516.8 L279.2 516.7 L279.9 516.8 L280.6 516.6 L281.3 516.6 L282.0 516.8 L282.7 516.7 L283.3 516.6 L284.0 516.8 L284.7 516.7 L285.4 516.7 L286.1 516.6 L286.8 516.6 L287.4 516.6 L288.1 516.6 L288.8 516.7 L289.5 516.8 L290.2 516.8 L290.8 516.6 L291.5 516.5 L292.2 516.6 L292.9 516.5 L293.6 516.5 L294.3 516.6 L294.9 516.4 L295.6 516.4 L296.3 516.3 L297.0 516.4 L297.7 516.3 L298.4 516.2 L299.0 516.4 L299.7 516.5 L300.4 516.5 L301.1 516.5 L301.8 516.3 L302.5 516.1 L303.1 516.0 L303.8 516.2 L304.5 516.0 L305.2 516.0 L305.9 516.0 L306.6 515.8 L307.2 515.7 L307.9 515.7 L308.6 515.5 L309.3 515.3 L310.0 515.1 L310.6 515.0 L311.3 514.8 L312.0 514.4 L312.7 514.0 L313.4 513.8 L314.1 513.7 L314.7 513.3 L315.4 512.9 L316.1 512.8 L316.8 512.6 L317.5 512.3 L318.2 512.2 L318.8 511.9 L319.5 511.6 L320.2 511.5 L320.9 511.4 L321.6 511.6 L322.3 511.6 L322.9 511.9 L323.6 512.1 L324.3 512.3 L325.0 512.5 L325.7 512.8 L326.4 513.2 L327.0 513.4 L327.7 513.5 L328.4 513.7 L329.1 514.0 L329.8 514.4 L330.5 514.7 L331.1 514.9 L331.8 515.1 L332.5 515.1 L333.2 515.2 L333.9 515.5 L334.5 515.8 L335.2 516.0 L335.9 516.0 L336.6 515.9 L337.3 516.0 L338.0 516.0 L338.6 516.1 L339.3 516.1 L340.0 516.2 L340.7 516.5 L341.4 516.4 L342.1 516.5 L342.7 516.4 L343.4 516.5 L344.1 516.6 L344.8 516.6 L345.5 516.5 L346.2 516.6 L346.8 516.7 L347.5 516.6 L348.2 516.7 L348.9 516.8 L349.6 516.9 L350.3 517.0 L350.9 516.8 L351.6 516.7 L352.3 516.7 L353.0 516.6 L353.7 516.7 L354.3 516.9 L355.0 517.0 L355.7 517.0 L356.4 516.8 L357.1 516.9 L357.8 517.0 L358.4 517.0 L359.1 516.9 L359.8 516.8 L360.5 516.7 L361.2 516.6 L361.9 516.6 L362.5 516.7 L363.2 516.9 L363.9 517.0 L364.6 517.0 L365.3 516.8 L366.0 516.9 L366.6 516.8 L367.3 516.9 L368.0 516.9 L368.7 517.0 L369.4 516.9 L370.1 516.9 L370.7 516.9 L371.4 516.9 L372.1 517.0 L372.8 516.8 L373.5 517.0 L374.1 517.1 L374.8 517.0 L375.5 516.8 L376.2 516.8 L376.9 517.0 L377.6 517.1 L378.2 516.9 L378.9 516.9 L379.6 516.8 L380.3 516.8 L381.0 516.9 L381.7 516.8 L382.3 516.7 L383.0 516.8 L383.7 516.9 L384.4 516.8 L385.1 516.8 L385.8 516.8 L386.4 516.9 L387.1 516.8 L387.8 517.0 L388.5 516.9 L389.2 516.7 L389.9 516.8 L390.5 516.7 L391.2 516.9 L391.9 516.8 L392.6 516.7 L393.3 516.6 L394.0 516.6 L394.6 516.8 L395.3 517.0 L396.0 517.0 L396.7 517.1 L397.4 517.0 L398.0 517.0 L398.7 516.8 L399.4 516.7 L400.1 516.9 L400.8 516.9 L401.5 516.8 L402.1 516.9 L402.8 516.9 L403.5 516.8 L404.2 516.8 L404.9 516.9 L405.6 516.7 L406.2 516.7 L406.9 516.8 L407.6 516.6 L408.3 516.8 L409.0 516.6 L409.7 516.5 L410.3 516.5 L411.0 516.4 L411.7 516.6 L412.4 516.5 L413.1 516.3 L413.8 516.3 L414.4 516.2 L415.1 516.4 L415.8 516.3 L416.5 516.2 L417.2 516.0 L417.8 516.0 L418.5 515.9 L419.2 515.9 L419.9 515.8 L420.6 515.8 L421.3 515.7 L421.9 515.5 L422.6 515.5 L423.3 515.2 L424.0 515.1 L424.7 514.8 L425.4 514.6 L426.0 514.6 L426.7 514.5 L427.4 514.3 L428.1 514.0 L428.8 514.0 L429.5 513.9 L430.1 513.6 L430.8 513.6 L431.5 513.6 L432.2 513.5 L432.9 513.6 L433.6 513.5 L434.2 513.4 L434.9 513.3 L435.6 513.4 L436.3 513.6 L437.0 513.7 L437.7 513.7 L438.3 514.0 L439.0 514.3 L439.7 514.2 L440.4 514.5 L441.1 514.7 L441.7 515.0 L442.4 515.0 L443.1 515.1 L443.8 515.1 L444.5 515.3 L445.2 515.5 L445.8 515.6 L446.5 515.9 L447.2 515.9 L447.9 516.1 L448.6 516.0 L449.3 516.2 L449.9 516.1 L450.6 516.3 L451.3 516.3 L452.0 516.4 L452.7 516.4 L453.4 516.4 L454.0 516.6 L454.7 516.5 L455.4 516.6 L456.1 516.6 L456.8 516.6 L457.5 516.5 L458.1 516.7 L458.8 516.6 L459.5 516.8 L460.2 516.7 L460.9 516.6 L461.6 516.5 L462.2 516.7 L462.9 516.7 L463.6 516.8 L464.3 516.9 L465.0 517.0 L465.6 516.8 L466.3 517.0 L467.0 517.0 L467.7 517.0 L468.4 517.0 L469.1 517.1 L469.7 517.1 L470.4 517.0 L471.1 516.9 L471.8 517.0 L472.5 517.0 L473.2 517.0 L473.8 517.1 L474.5 517.1 L475.2 517.2 L475.9 517.3 L476.6 517.3 L477.3 517.4 L477.9 517.4 L478.6 517.4 L479.3 517.4 L480.0 517.3 L480.7 517.3 L481.4 517.2 L482.0 517.1 L482.7 517.2 L483.4 517.0 L484.1 516.9 L484.8 517.0 L485.4 517.1 L486.1 517.2 L486.8 517.0 L487.5 517.1 L488.2 517.2 L488.9 517.3 L489.5 517.3 L490.2 517.3 L490.9 517.1 L491.6 517.2 L492.3 517.1 L493.0 517.0 L493.6 517.0 L494.3 517.1 L495.0 517.1 L495.7 517.1 L496.4 517.2 L497.1 517.0 L497.7 516.9 L498.4 517.1 L499.1 517.1 L499.8 517.0 L500.5 516.9 L501.2 516.9 L501.8 517.0 L502.5 517.0 L503.2 516.9 L503.9 517.0 L504.6 516.8 L505.3 516.8 L505.9 517.0 L506.6 517.1 L507.3 517.0 L508.0 516.8 L508.7 516.8 L509.3 516.7 L510.0 516.7 L510.7 516.6 L511.4 516.7 L512.1 516.8 L512.8 516.8 L513.4 516.9 L514.1 516.7 L514.8 516.7 L515.5 516.6 L516.2 516.7 L516.9 516.7 L517.5 516.6 L518.2 516.6 L518.9 516.6 L519.6 516.5 L520.3 516.3 L521.0 516.3 L521.6 516.4 L522.3 516.4 L523.0 516.4 L523.7 516.4 L524.4 516.3 L525.1 516.2 L525.7 516.3 L526.4 516.3 L527.1 516.3 L527.8 516.2 L528.5 516.3 L529.1 516.2 L529.8 516.4 L530.5 516.4 L531.2 516.5 L531.9 516.6 L532.6 516.5 L533.2 516.4 L533.9 516.7 L534.6 516.6 L535.3 516.7 L536.0 516.8 L536.7 516.7 L537.3 516.9 L538.0 516.7 L538.7 516.8 L539.4 516.7 L540.1 516.7 L540.8 516.6 L541.4 516.9 L542.1 516.9 L542.8 516.9 L543.5 516.8 L544.2 516.8 L544.9 516.9 L545.5 516.8 L546.2 517.0 L546.9 516.9 L547.6 517.0 L548.3 516.9 L549.0 517.1 L549.6 517.0 L550.3 517.0 L551.0 516.8 L551.7 516.8 L552.4 516.9 L553.0 516.7 L553.7 516.6 L554.4 516.5 L555.1 516.5 L555.8 516.6 L556.5 516.6 L557.1 516.6 L557.8 516.7 L558.5 516.7 L559.2 516.5 L559.9 516.4 L560.6 516.2 L561.2 516.1 L561.9 516.2 L562.6 516.3 L563.3 516.3 L564.0 516.3 L564.7 516.2 L565.3 516.3 L566.0 516.3 L566.7 516.3 L567.4 516.3 L568.1 516.3 L568.8 516.3 L569.4 516.3 L570.1 516.6 L570.8 516.7 L571.5 516.7 L572.2 516.9 L572.8 516.8 L573.5 517.0 L574.2 516.9 L574.9 517.1 L575.6 517.1 L576.3 517.1 L576.9 517.2 L577.6 517.2 L578.3 517.1 L579.0 517.0 L579.7 516.9 L580.4 517.1 L581.0 517.2 L581.7 517.1 L582.4 517.2 L583.1 517.1 L583.8 517.2 L584.5 517.1 L585.1 517.3 L585.8 517.2 L586.5 517.1 L587.2 517.1 L587.9 517.0 L588.6 517.2 L589.2 517.0 L589.9 517.0 L590.6 517.2 L591.3 517.1 L592.0 517.3 L592.6 517.3 L593.3 517.2 L594.0 517.2 L594.7 517.2 L595.4 517.2 L596.1 517.2 L596.7 517.2 L597.4 517.1 L598.1 517.0 L598.8 517.0 L599.5 517.2 L600.2 517.3 L600.8 517.2 L601.5 517.3 L602.2 517.4 L602.9 517.3 L603.6 517.2 L604.3 517.4 L604.9 517.2 L605.6 517.3 L606.3 517.4 L607.0 517.2 L607.7 517.3 L608.4 517.4 L609.0 517.3 L609.7 517.3 L610.4 517.3 L611.1 517.4 L611.8 517.4 L612.5 517.5 L613.1 517.3 L613.8 517.3 L614.5 517.2 L615.2 517.1 L615.9 517.1 L616.5 517.0 L617.2 517.2 L617.9 517.2 L618.6 517.1 L619.3 517.0 L620.0 517.1 L620.6 517.2 L621.3 517.3 L622.0 517.2 L622.7 517.4 L623.4 517.5 L624.1 517.4 L624.7 517.5 L625.4 517.4 L626.1 517.5 L626.8 517.6 L627.5 517.5 L628.2 517.4 L628.8 517.3 L629.5 517.4 L630.2 517.4 L630.9 517.3 L631.6 517.4 L632.3 517.4 L632.9 517.3 L633.6 517.3 L634.3 517.5 L635.0 517.3 L635.7 517.4 L636.3 517.2 L637.0 517.3 L637.7 517.2 L638.4 517.1 L639.1 517.1 L639.8 517.2 L640.4 517.4 L641.1 517.3 L641.8 517.5 L642.5 517.3 L643.2 517.3 L643.9 517.2 L644.5 517.2 L645.2 517.1 L645.9 517.3 L646.6 517.1 L647.3 517.1 L648.0 517.2 L648.6 517.3 L649.3 517.2 L650.0 517.2 L650.7 517.4 L651.4 517.4 L652.1 517.5 L652.7 517.3 L653.4 517.3 L654.1 517.3 L654.8 517.4 L655.5 517.3 L656.2 517.5 L656.8 517.3 L657.5 517.3 L658.2 517.3 L658.9 517.4 L659.6 517.3 L660.2 517.2 L660.9 517.4 L661.6 517.3 L662.3 517.2 L663.0 517.2 L663.7 517.4 L664.3 517.5 L665.0 517.4 L665.7 517.3 L666.4 517.5 L667.1 517.5 L667.8 517.3 L668.4 517.3 L669.1 517.3 L669.8 517.3 L670.5 517.2 L671.2 517.4 L671.9 517.5 L672.5 517.5 L673.2 517.6 L673.9 517.5 L674.6 517.3 L675.3 517.3 L676.0 517.3 L676.6 517.5 L677.3 517.5 L678.0 517.6 L678.7 517.5 L679.4 517.5 L680.0 517.3 L680.7 517.3 L681.4 517.3 L682.1 517.4 L682.8 517.5 L683.5 517.4 L684.1 517.3 L684.8 517.5 L685.5 517.5 L686.2 517.4 L686.9 517.5 L687.6 517.6 L688.2 517.5 L688.9 517.5 L689.6 517.5 L690.3 517.4 L691.0 517.4 L691.7 517.2 L692.3 517.3 L693.0 517.2 L693.7 517.4 L694.4 517.4 L695.1 517.4 L695.8 517.5 L696.4 517.4 L697.1 517.4 L697.8 517.4 L698.5 517.5 L699.2 517.3 L699.9 517.5 L700.5 517.3 L701.2 517.4 L701.9 517.5 L702.6 517.6 L703.3 517.6 L703.9 517.5 L704.6 517.4 L705.3 517.5 L706.0 517.4 L706.7 517.6 L707.4 517.5 L708.0 517.4 L708.7 517.4 L709.4 517.5 L710.1 517.4 L710.8 517.3 L711.5 517.2 L712.1 517.3 L712.8 517.3 L713.5 517.4 L714.2 517.5 L714.9 517.4 L715.6 517.6 L716.2 517.6 L716.9 517.4 L717.6 517.5 L718.3 517.5 L719.0 517.4 L719.7 517.5 L720.3 517.4 L721.0 517.3 L721.7 517.4 L722.4 517.5 L723.1 517.6 L723.8 517.6 L724.4 517.7 L725.1 517.5 L725.8 517.3 L726.5 517.4 L727.2 517.4 L727.8 517.4 L728.5 517.3 L729.2 517.3 L729.9 517.3 L730.6 517.4 L731.3 517.5 L731.9 517.4 L732.6 517.6 L733.3 517.4 L734.0 517.6 L734.7 517.7 L735.4 517.6 L736.0 517.5 L736.7 517.4 L737.4 517.3 L738.1 517.4 L738.8 517.6 L739.5 517.5 L740.1 517.6 L740.8 517.5 L741.5 517.5 L742.2 517.5 L742.9 517.6 L743.6 517.7 L744.2 517.5 L744.9 517.4 L745.6 517.5 L746.3 517.5 L747.0 517.6 L747.6 517.7 L748.3 517.6 L749.0 517.6 L749.7 517.7 L750.4 517.8 L751.1 517.7 L751.7 517.6 L752.4 517.6 L753.1 517.6 L753.8 517.5 L754.5 517.4 L755.2 517.5 L755.8 517.6 L756.5 517.5 L757.2 517.3 L757.9 517.5 L758.6 517.4 L759.3 517.4 L759.9 517.4 L760.6 517.5 L761.3 517.4 L762.0 517.6 L762.7 517.7 L763.4 517.5 L764.0 517.3 L764.7 517.4 L765.4 517.3 L766.1 517.4 L766.8 517.6 L767.5 517.7 L768.1 517.6 L768.8 517.6 L769.5 517.5 L770.2 517.6 L770.9 517.6 L771.5 517.5 L772.2 517.5 L772.9 517.4 L773.6 517.6 L774.3 517.5 L775.0 517.3 L775.6 517.4 L776.3 517.5 L777.0 517.5 L777.7 517.6 L778.4 517.5 L779.1 517.4 L779.7 517.5 L780.4 517.3 L781.1 517.3 L781.8 517.5 L782.5 517.6 L783.2 517.7 L783.8 517.6 L784.5 517.7 L785.2 517.8 L785.9 517.7 L786.6 517.5 L787.3 517.6 L787.9 517.7 L788.6 517.7 L789.3 517.8 L790.0 517.8 L790.7 517.7 L791.3 517.7 L792.0 517.6 L792.7 517.5 L793.4 517.7 L794.1 517.7 L794.8 517.6 L795.4 517.7 L796.1 517.6 L796.8 517.6 L797.5 517.7 L798.2 517.7 L798.9 517.7 L799.5 517.6 L800.2 517.7 L800.9 517.5 L801.6 517.5 L802.3 517.5 L803.0 517.6 L803.6 517.5 L804.3 517.6 L805.0 517.5 L805.7 517.4 L806.4 517.5 L807.1 517.6 L807.7 517.5 L808.4 517.5 L809.1 517.5 L809.8 517.5 L810.5 517.5 L811.2 517.4 L811.8 517.4 L812.5 517.4 L813.2 517.6 L813.9 517.7 L814.6 517.8 L815.2 517.5 L815.9 517.5 L816.6 517.3 L817.3 517.4 L818.0 517.5 L818.7 517.5 L819.3 517.5 L820.0 517.7 L820.7 517.6 L821.4 517.5 L822.1 517.7 L822.8 517.6 L823.4 517.5 L824.1 517.6 L824.8 517.5 L825.5 517.5 L826.2 517.6 L826.9 517.6 L827.5 517.5 L828.2 517.4 L828.9 517.5 L829.6 517.4 L830.3 517.4 L831.0 517.5 L831.6 517.3 L832.3 517.3 L833.0 517.3 L833.7 517.4 L834.4 517.3 L835.0 517.4 L835.7 517.4 L836.4 517.4 L837.1 517.3 L837.8 517.3 L838.5 517.3 L839.1 517.4 L839.8 517.5 L840.5 517.5 L841.2 517.4 L841.9 517.2 L842.6 517.4 L843.2 517.4 L843.9 517.3 L844.6 517.2 L845.3 517.2 L846.0 517.1 L846.7 517.2 L847.3 517.1 L848.0 517.0 L848.7 517.0 L849.4 517.0 L850.1 517.2 L850.8 517.0 L851.4 517.1 L852.1 517.0 L852.8 517.2 L853.5 517.2 L854.2 517.2 L854.9 517.0 L855.5 516.8 L856.2 516.9 L856.9 516.6 L857.6 516.6 L858.3 516.6 L858.9 516.5 L859.6 516.4 L860.3 516.2 L861.0 516.2 L861.7 516.1 L862.4 516.0 L863.0 516.0 L863.7 515.6 L864.4 515.3 L865.1 515.0 L865.8 514.9 L866.5 514.6 L867.1 514.4 L867.8 514.1 L868.5 513.9 L869.2 513.5 L869.9 512.9 L870.6 512.3 L871.2 511.7 L871.9 511.1 L872.6 510.1 L873.3 509.3 L874.0 507.9 L874.7 506.5 L875.3 505.0 L876.0 503.0 L876.7 500.9 L877.4 498.5 L878.1 495.5 L878.7 492.1 L879.4 488.3 L880.1 483.5 L880.8 478.5 L881.5 473.0 L882.2 466.7 L882.8 460.5 L883.5 454.5 L884.2 449.2 L884.9 445.0 L885.6 442.7 L886.3 442.4 L886.9 444.3 L887.6 447.9 L888.3 452.9 L889.0 458.8 L889.7 465.2 L890.4 471.5 L891.0 477.4 L891.7 482.6 L892.4 487.4 L893.1 491.4 L893.8 495.1 L894.5 498.1 L895.1 500.7 L895.8 503.0 L896.5 504.9 L897.2 506.5 L897.9 507.7 L898.6 508.8 L899.2 509.8 L899.9 510.6 L900.6 511.4 L901.3 512.2 L902.0 512.7 L902.6 513.4 L903.3 513.9 L904.0 514.2 L904.7 514.4 L905.4 514.9 L906.1 515.2 L906.7 515.4 L907.4 515.6 L908.1 515.9 L908.8 516.0 L909.5 516.0 L910.2 516.0 L910.8 516.1 L911.5 516.4 L912.2 516.4 L912.9 516.6 L913.6 516.7 L914.3 516.6 L914.9 516.7 L915.6 516.9 L916.3 517.0 L917.0 517.1 L917.7 517.3 L918.4 517.2 L919.0 517.1 L919.7 517.0 L920.4 516.9 L921.1 516.9 L921.8 517.0 L922.4 517.0 L923.1 517.0 L923.8 517.1 L924.5 517.2 L925.2 517.3 L925.9 517.2 L926.5 517.2 L927.2 517.2 L927.9 517.2 L928.6 517.3 L929.3 517.5 L930.0 517.4 L930.6 517.5 L931.3 517.5 L932.0 517.6 L932.7 517.5 L933.4 517.5 L934.1 517.6 L934.7 517.5 L935.4 517.6 L936.1 517.7 L936.8 517.5 L937.5 517.5 L938.2 517.5 L938.8 517.6 L939.5 517.5 L940.2 517.4 L940.9 517.4 L941.6 517.6 L942.2 517.6 L942.9 517.8 L943.6 517.8 L944.3 517.9 L945.0 517.9 L945.7 517.7 L946.3 517.8 L947.0 517.9 L947.7 517.9 L948.4 517.8 L949.1 517.7 L949.8 517.6 L950.4 517.6 L951.1 517.7 L951.8 517.5 L952.5 517.6 L953.2 517.7 L953.9 517.8 L954.5 517.6 L955.2 517.6 L955.9 517.5 L956.6 517.5 L957.3 517.5 L958.0 517.7 L958.6 517.5 L959.3 517.6 L960.0 517.5 L960.7 517.6 L961.4 517.5 L962.1 517.7 L962.7 517.6 L963.4 517.5 L964.1 517.5 L964.8 517.7 L965.5 517.7 L966.1 517.7 L966.8 517.8 L967.5 517.9 L968.2 517.7 L968.9 517.8 L969.6 517.7 L970.2 517.8 L970.9 517.8 L971.6 517.9 L972.3 518.0 L973.0 517.8 L973.7 517.9 L974.3 517.7 L975.0 517.8 L975.7 517.7 L976.4 517.9 L977.1 517.7 L977.8 517.9 L978.4 517.7 L979.1 517.8 L979.8 517.6 L980.5 517.6 L981.2 517.6 L981.9 517.5 L982.5 517.4 L983.2 517.6 L983.9 517.5 L984.6 517.7 L985.3 517.6 L986.0 517.6 L986.6 517.6 L987.3 517.6 L988.0 517.5 L988.7 517.5 L989.4 517.6 L990.0 517.8 L990.7 517.9 L991.4 518.0 L992.1 518.0 L992.8 517.8 L993.5 517.8 L994.1 517.7 L994.8 517.7 L995.5 517.7 L996.2 517.7 L996.9 517.8 L997.6 517.7 L998.2 517.8 L998.9 517.8 L999.6 517.7 L1000.3 517.7 L1001.0 517.6 L1001.7 517.6 L1002.3 517.8 L1003.0 517.9 L1003.7 518.0 L1004.4 517.8 L1005.1 517.8 L1005.8 517.7 L1006.4 517.8 L1007.1 517.9 L1007.8 518.0 L1008.5 518.0 L1009.2 517.9 L1009.8 517.9 L1010.5 517.8 L1011.2 517.7 L1011.9 517.7 L1012.6 517.9 L1013.3 517.9 L1013.9 518.0 L1014.6 517.9 L1015.3 517.7 L1016.0 517.6 L1016.7 517.7 L1017.4 517.8 L1018.0 517.9 L1018.7 517.8 L1019.4 517.6 L1020.1 517.7 L1020.8 517.7 L1021.5 517.8 L1022.1 517.9 L1022.8 517.8 L1023.5 517.7 L1024.2 517.7 L1024.9 517.6 L1025.6 517.7 L1026.2 517.8 L1026.9 517.7 L1027.6 517.6 L1028.3 517.5 L1029.0 517.6 L1029.7 517.6 L1030.3 517.5 L1031.0 517.5 L1031.7 517.4 L1032.4 517.6 L1033.1 517.7 L1033.7 517.6 L1034.4 517.6 L1035.1 517.7 L1035.8 517.9 L1036.5 518.0 L1037.2 517.9 L1037.8 517.7 L1038.5 517.6 L1039.2 517.8 L1039.9 517.8 L1040.6 517.8 L1041.3 517.7 L1041.9 517.7 L1042.6 517.8 L1043.3 517.8 L1044.0 517.6 L1044.7 517.6 L1045.4 517.5 L1046.0 517.7 L1046.7 517.6 L1047.4 517.6 L1048.1 517.7 L1048.8 517.7 L1049.5 517.8 L1050.1 517.7 L1050.8 517.6 L1051.5 517.5 L1052.2 517.6 L1052.9 517.5 L1053.5 517.3 L1054.2 517.3 L1054.9 517.4 L1055.6 517.5 L1056.3 517.5 L1057.0 517.5 L1057.6 517.4 L1058.3 517.3 L1059.0 517.4 L1059.7 517.2 L1060.4 517.0 L1061.1 517.0 L1061.7 517.0 L1062.4 516.9 L1063.1 516.9 L1063.8 516.7 L1064.5 516.8 L1065.2 516.6 L1065.8 516.6 L1066.5 516.5 L1067.2 516.7 L1067.9 516.7 L1068.6 516.7 L1069.3 516.6 L1069.9 516.4 L1070.6 516.4 L1071.3 516.4 L1072.0 516.4 L1072.7 516.6 L1073.3 516.7 L1074.0 516.6 L1074.7 516.6 L1075.4 516.8 L1076.1 516.6 L1076.8 516.6 L1077.4 516.8 L1078.1 516.7 L1078.8 516.7 L1079.5 516.6 L1080.2 516.8 L1080.9 516.9 L1081.5 517.1 L1082.2 517.0 L1082.9 517.2 L1083.6 517.2 L1084.3 517.2 L1085.0 517.3 L1085.6 517.3 L1086.3 517.5 L1087.0 517.4 L1087.7 517.3 L1088.4 517.2 L1089.1 517.4 L1089.7 517.5 L1090.4 517.6 L1091.1 517.4 L1091.8 517.3 L1092.5 517.3 L1093.2 517.4 L1093.8 517.6 L1094.5 517.7 L1095.2 517.8 L1095.9 517.6 L1096.6 517.6 L1097.2 517.7 L1097.9 517.8 L1098.6 517.9 L1099.3 517.8 L1100.0 517.7 L1100.7 517.7 L1101.3 517.8 L1102.0 517.8 L1102.7 517.9 L1103.4 517.9 L1104.1 517.9 L1104.8 517.8 L1105.4 517.8 L1106.1 518.0 L1106.8 518.0 L1107.5 517.9 L1108.2 518.0 L1108.9 518.0 L1109.5 517.8 L1110.2 517.7 L1110.9 517.7 L1111.6 517.8 L1112.3 517.8 L1113.0 518.0 L1113.6 517.9 L1114.3 518.0 L1115.0 517.9 L1115.7 518.1 L1116.4 518.0 L1117.0 517.9 L1117.7 517.9 L1118.4 518.0 L1119.1 518.0 L1119.8 517.8 L1120.5 517.9 L1121.1 518.0 L1121.8 518.0 L1122.5 518.1 L1123.2 518.0 L1123.9 518.1 L1124.6 518.1 L1125.2 517.9 L1125.9 517.7 L1126.6 517.8 L1127.3 517.7 L1128.0 517.7 L1128.7 517.6 L1129.3 517.8 L1130.0 517.8 L1130.7 518.0 L1131.4 518.1 L1132.1 517.9 L1132.8 517.8 L1133.4 517.8 L1134.1 517.7 L1134.8 517.9 L1135.5 517.9 L1136.2 517.8 L1136.9 517.9 L1137.5 518.0 L1138.2 518.0 L1138.9 517.9 L1139.6 518.0 L1140.3 517.9 L1140.9 517.8 L1141.6 517.7 L1142.3 517.7 L1143.0 517.8 L1143.7 517.7 L1144.4 517.8 L1145.0 517.7 L1145.7 517.7 L1146.4 517.6 L1147.1 517.8 L1147.8 517.8 L1148.5 517.8 L1149.1 517.8 L1149.8 518.0 L1150.5 518.1 L1151.2 517.9 L1151.9 518.0 L1152.6 517.9 L1153.2 518.0 L1153.9 518.0 L1154.6 517.9 L1155.3 517.9 L1156.0 517.9 L1156.7 517.8 L1157.3 517.9 L1158.0 517.9 L1158.7 517.8 L1159.4 518.0 L1160.1 517.8 L1160.8 517.9 L1161.4 518.0 L1162.1 517.9 L1162.8 518.1 L1163.5 518.0 L1164.2 518.0 L1164.8 518.1 L1165.5 517.9 L1166.2 517.7 L1166.9 517.8 L1167.6 518.0 L1168.3 518.0 L1168.9 518.0 L1169.6 517.8 L1170.3 517.7 L1171.0 517.7 L1171.7 517.7 L1172.4 517.8 L1173.0 517.9 L1173.7 518.0 L1174.4 518.1 L1175.1 518.0 L1175.8 518.1 L1176.5 518.0 L1177.1 517.9 L1177.8 517.8 L1178.5 517.7 L1179.2 517.6 L1179.9 517.8 L1180.6 518.0 L1181.2 517.8 L1181.9 517.9 L1182.6 518.0 L1183.3 517.9 L1184.0 518.0 L1184.6 517.8 L1185.3 517.9 L1186.0 518.0 L1186.7 517.9 L1187.4 517.9 L1188.1 517.9 L1188.7 518.0 L1189.4 518.1 L1190.1 517.9 L1190.8 518.0 L1191.5 518.0 L1192.2 518.1 L1192.8 518.1 L1193.5 518.1 L1194.2 518.0 L1194.9 517.9 L1195.6 517.8 L1196.3 517.6 L1196.9 517.7 L1197.6 517.7 L1198.3 517.7 L1199.0 517.7 L1199.7 517.5 L1200.4 517.2 L1201.0 517.0 L1201.7 516.9 L1202.4 517.1 L1203.1 517.0 L1203.8 517.0 L1204.5 517.0 L1205.1 516.8 L1205.8 517.0 L1206.5 516.8 L1207.2 517.1 L1207.9 517.0 L1208.5 517.1 L1209.2 517.0 L1209.9 517.2 L1210.6 517.3 L1211.3 517.3 L1212.0 517.2 L1212.6 517.2 L1213.3 517.3 L1214.0 517.4 L1214.7 517.5 L1215.4 517.7 L1216.1 517.8 L1216.7 517.7 L1217.4 517.8 L1218.1 517.8 L1218.8 517.8 L1219.5 517.9 L1220.2 517.8 L1220.8 517.7 L1221.5 517.8 L1222.2 517.8 L1222.9 517.8 L1223.6 517.9 L1224.3 517.9 L1224.9 517.7 L1225.6 517.8 L1226.3 517.6 L1227.0 517.7 L1227.7 517.8 L1228.3 517.9 L1229.0 517.7 L1229.7 517.6 L1230.4 517.7 L1231.1 517.6 L1231.8 517.8 L1232.4 517.6 L1233.1 517.5 L1233.8 517.5 L1234.5 517.5 L1235.2 517.6 L1235.9 517.5 L1236.5 517.6 L1237.2 517.7 L1237.9 517.5 L1238.6 517.3 L1239.3 517.5 L1240.0 517.5 L1240.6 517.6 L1241.3 517.4 L1242.0 517.2 L1242.7 517.0 L1243.4 517.1 L1244.1 517.2 L1244.7 517.1 L1245.4 517.1 L1246.1 517.2 L1246.8 517.1 L1247.5 517.1 L1248.2 517.1 L1248.8 517.2 L1249.5 517.1 L1250.2 517.1 L1250.9 517.2 L1251.6 517.0 L1252.2 517.0 L1252.9 516.9 L1253.6 517.0 L1254.3 516.8 L1255.0 516.9 L1255.7 517.0 L1256.3 517.1 L1257.0 517.2 L1257.7 517.2 L1258.4 517.1 L1259.1 517.0 L1259.8 517.2 L1260.4 517.3 L1261.1 517.3 L1261.8 517.3 L1262.5 517.2 L1263.2 517.4 L1263.9 517.4 L1264.5 517.4 L1265.2 517.6 L1265.9 517.5 L1266.6 517.4 L1267.3 517.5 L1268.0 517.7 L1268.6 517.8 L1269.3 517.7 L1270.0 517.8 L1270.7 517.7 L1271.4 517.8 L1272.0 518.0 L1272.7 518.0 L1273.4 517.8 L1274.1 517.7 L1274.8 517.9 L1275.5 517.7 L1276.1 517.9 L1276.8 517.9 L1277.5 518.0 L1278.2 517.9 L1278.9 517.9 L1279.6 518.1 L1280.2 518.1 L1280.9 518.1 L1281.6 518.0 L1282.3 518.1 L1283.0 518.0 L1283.7 517.9 L1284.3 518.0 L1285.0 518.0 L1285.7 518.2 L1286.4 518.0 L1287.1 518.0 L1287.8 518.1 L1288.4 518.2 L1289.1 518.2 L1289.8 518.2 L1290.5 518.0 L1291.2 517.9 L1291.8 518.1 L1292.5 518.2 L1293.2 518.2 L1293.9 518.1 L1294.6 518.1 L1295.3 518.2 L1295.9 518.0 L1296.6 517.9 L1297.3 518.0 L1298.0 518.0 L1298.7 517.9 L1299.4 517.8 L1300.0 517.8 L1300.7 518.1 L1301.4 518.1 L1302.1 518.0 L1302.8 517.9 L1303.5 517.9 L1304.1 518.0 L1304.8 517.9 L1305.5 517.9 L1306.2 517.9 L1306.9 518.0 L1307.6 518.0 L1308.2 518.2 L1308.9 518.1 L1309.6 518.1 L1310.3 518.0 L1311.0 518.2 L1311.7 518.2 L1312.3 518.3 L1313.0 518.1 L1313.7 518.1 L1314.4 518.0 L1315.1 518.2 L1315.7 518.0 L1316.4 517.9 L1317.1 518.0 L1317.8 518.1 L1318.5 518.1 L1319.2 518.0 L1319.8 518.1 L1320.5 518.2 L1321.2 518.3 L1321.9 518.2 L1322.6 518.1 L1323.3 518.2 L1323.9 518.2 L1324.6 518.2 L1325.3 518.2 L1326.0 518.2 L1326.7 518.3 L1327.4 518.4 L1328.0 518.2 L1328.7 518.3 L1329.4 518.3 L1330.1 518.4 L1330.8 518.5 L1331.5 518.5 L1332.1 518.5 L1332.8 518.5 L1333.5 518.4 L1334.2 518.4 L1334.9 518.2 L1335.5 518.2 L1336.2 518.2 L1336.9 518.2 L1337.6 518.1 L1338.3 518.2 L1339.0 518.1 L1339.6 518.2 L1340.3 518.1 L1341.0 518.1 L1341.7 518.1 L1342.4 518.2 L1343.1 518.1 L1343.7 518.2 L1344.4 518.3 L1345.1 518.4 L1345.8 518.3 L1346.5 518.3 L1347.2 518.2 L1347.8 518.1 L1348.5 518.3 L1349.2 518.3 L1349.9 518.2 L1350.6 518.1 L1351.3 518.1 L1351.9 518.2 L1352.6 518.2 L1353.3 518.1 L1354.0 518.0 L1354.7 518.2 L1355.4 518.2 L1356.0 518.2 L1356.7 518.3 L1357.4 518.1 L1358.1 518.0 L1358.8 518.1 L1359.4 518.3 L1360.1 518.3 L1360.8 518.4 L1361.5 518.5 L1362.2 518.5 L1362.9 518.3 L1363.5 518.4 L1364.2 518.3 L1364.9 518.3 L1365.6 518.4 L1366.3 518.2 L1367.0 518.2 L1367.6 518.2 L1368.3 518.2 L1369.0 518.1 L1369.7 518.0 L1370.4 518.1 L1371.1 518.0 L1371.7 517.9 L1372.4 518.0 L1373.1 518.2 L1373.8 518.4 L1374.5 518.3 L1375.2 518.4 L1375.8 518.5 L1376.5 518.3 L1377.2 518.4 L1377.9 518.4 L1378.6 518.2 L1379.2 518.2 L1379.9 518.2 L1380.6 518.1 L1381.3 518.1 L1382.0 518.2 L1382.7 518.3 L1383.3 518.1 L1384.0 518.1 L1384.7 518.3 L1385.4 518.2 L1386.1 518.3 L1386.8 518.3 L1387.4 518.2 L1388.1 518.3 L1388.8 518.3 L1389.5 518.1 L1390.2 518.1 L1390.9 518.1 L1391.5 518.2 L1392.2 518.1 L1392.9 518.1 L1393.6 518.2 L1394.3 518.0 L1395.0 518.0 L1395.6 518.2 L1396.3 518.1 L1397.0 518.1 L1397.7 518.1 L1398.4 518.0 L1399.1 518.1 L1399.7 518.2 L1400.4 518.1 L1401.1 518.3 L1401.8 518.3 L1402.5 518.2 L1403.1 518.2 L1403.8 518.3 L1404.5 518.3 L1405.2 518.1 L1405.9 518.2 L1406.6 518.3 L1407.2 518.2 L1407.9 518.1 L1408.6 518.0 L1409.3 518.1 L1410.0 518.1 L1410.7 518.3 L1411.3 518.3 L1412.0 518.1 L1412.7 518.1 L1413.4 518.3 L1414.1 518.4 L1414.8 518.2 L1415.4 518.1 L1416.1 518.1 L1416.8 518.1 L1417.5 518.1 L1418.2 518.1 L1418.9 518.2 L1419.5 518.1 L1420.2 518.3 L1420.9 518.2 L1421.6 518.1 L1422.3 518.3 L1422.9 518.5 L1423.6 518.5 L1424.3 518.5 L1425.0 518.3 L1425.7 518.2 L1426.4 518.2 L1427.0 518.3 L1427.7 518.3 L1428.4 518.1 L1429.1 518.1 L1429.8 518.1 L1430.5 518.1 L1431.1 518.3 L1431.8 518.3 L1432.5 518.3 L1433.2 518.4 L1433.9 518.5 L1434.6 518.5 L1435.2 518.5 L1435.9 518.3 L1436.6 518.2 L1437.3 518.2 L1438.0 518.2 L1438.7 518.1 L1439.3 518.1 L1440.0 518.1 L1440.7 518.2 L1441.4 518.1 L1442.1 518.1 L1442.8 518.3 L1443.4 518.2 L1444.1 518.3 L1444.8 518.3 L1445.5 518.4 L1446.2 518.3 L1446.8 518.3 L1447.5 518.3 L1448.2 518.2 L1448.9 518.2 L1449.6 518.2 L1450.3 518.1 L1450.9 518.2 L1451.6 518.2 L1452.3 518.4 L1453.0 518.3 L1453.7 518.3 L1454.4 518.4 L1455.0 518.3 L1455.7 518.3 L1456.4 518.1 L1457.1 518.3 L1457.8 518.3 L1458.5 518.4 L1459.1 518.5 L1459.8 518.5 L1460.5 518.4 L1461.2 518.3 L1461.9 518.4 L1462.6 518.3 L1463.2 518.1 L1463.9 518.2 L1464.6 518.1 L1465.3 518.1 L1466.0 518.0 L1466.6 518.1 L1467.3 518.3 L1468.0 518.3 L1468.7 518.3 L1469.4 518.2 L1470.1 518.4 L1470.7 518.2 L1471.4 518.1 L1472.1 518.2 L1472.8 518.3 L1473.5 518.3 L1474.2 518.4 L1474.8 518.4 L1475.5 518.3 L1476.2 518.2 L1476.9 518.2 L1477.6 518.3 L1478.3 518.2 L1478.9 518.2 L1479.6 518.2 L1480.3 518.4 L1481.0 518.3 L1481.7 518.2 L1482.4 518.1 L1483.0 518.1 L1483.7 518.1 L1484.4 518.2 L1485.1 518.3 L1485.8 518.4 L1486.5 518.4 L1487.1 518.3 L1487.8 518.2 L1488.5 518.4 L1489.2 518.5 L1489.9 518.6 L1490.5 518.4 L1491.2 518.3 L1491.9 518.4 L1492.6 518.4 L1493.3 518.3 L1494.0 518.1 L1494.6 518.3 L1495.3 518.2 L1496.0 518.1 L1496.7 518.1 L1497.4 518.2 L1498.1 518.4 L1498.7 518.5 L1499.4 518.4 L1500.1 518.3 L1500.8 518.4 L1501.5 518.3 L1502.2 518.2 L1502.8 518.2 L1503.5 518.2 L1504.2 518.3 L1504.9 518.2 L1505.6 518.2 L1506.3 518.2 L1506.9 518.4 L1507.6 518.3 L1508.3 518.4 L1509.0 518.2 L1509.7 518.2 L1510.3 518.2 L1511.0 518.3 L1511.7 518.4 L1512.4 518.4 L1513.1 518.3 L1513.8 518.2 L1514.4 518.4 L1515.1 518.3 L1515.8 518.1 L1516.5 518.2 L1517.2 518.1 L1517.9 518.3 L1518.5 518.2 L1519.2 518.3 L1519.9 518.2 L1520.6 518.1 L1521.3 518.2 L1522.0 518.1 L1522.6 518.0 L1523.3 518.2 L1524.0 518.2 L1524.7 518.3 L1525.4 518.3 L1526.1 518.3 L1526.7 518.2 L1527.4 518.3 L1528.1 518.2 L1528.8 518.2 L1529.5 518.3 L1530.2 518.3 L1530.8 518.3 L1531.5 518.2 L1532.2 518.3 L1532.9 518.3 L1533.6 518.3 L1534.2 518.3 L1534.9 518.3 L1535.6 518.1 L1536.3 518.0 L1537.0 518.1 L1537.7 518.2 L1538.3 518.0 L1539.0 518.0 L1539.7 517.9 L1540.4 517.9 L1541.1 518.0 L1541.8 518.0 L1542.4 517.9 L1543.1 518.0 L1543.8 518.1 L1544.5 518.2 L1545.2 518.2 L1545.9 518.1 L1546.5 518.1 L1547.2 518.1 L1547.9 518.0 L1548.6 518.0 L1549.3 518.1 L1550.0 517.9 L1550.6 517.9 L1551.3 517.7 L1552.0 517.7 L1552.7 517.7 L1553.4 517.6 L1554.0 517.6 L1554.7 517.5 L1555.4 517.4 L1556.1 517.3 L1556.8 517.3 L1557.5 517.2 L1558.1 517.1 L1558.8 517.0 L1559.5 516.8 L1560.2 516.9 L1560.9 516.9 L1561.6 516.9 L1562.2 516.8 L1562.9 516.6 L1563.6 516.6 L1564.3 516.2 L1565.0 516.1 L1565.7 516.0 L1566.3 515.7 L1567.0 515.4 L1567.7 515.1 L1568.4 515.0 L1569.1 514.8 L1569.8 514.8 L1570.4 514.7 L1571.1 514.4 L1571.8 514.3 L1572.5 514.1 L1573.2 513.8 L1573.9 513.5 L1574.5 513.2 L1575.2 513.1 L1575.9 513.0 L1576.6 512.8 L1577.3 512.8 L1577.9 512.6 L1578.6 512.4 L1579.3 512.3 L1580.0 512.1 L1580.7 512.0 L1581.4 512.1 L1582.0 512.1 L1582.7 512.0 L1583.4 512.2 L1584.1 512.4 L1584.8 512.6 L1585.5 512.7 L1586.1 512.8 L1586.8 513.0 L1587.5 513.1 L1588.2 513.4 L1588.9 513.4 L1589.6 513.7 L1590.2 513.9 L1590.9 514.2 L1591.6 514.5 L1592.3 514.6 L1593.0 514.7 L1593.7 514.9 L1594.3 515.1 L1595.0 515.2 L1595.7 515.4 L1596.4 515.8 L1597.1 516.0 L1597.7 516.1 L1598.4 516.1 L1599.1 516.2 L1599.8 516.5 L1600.5 516.5 L1601.2 516.7 L1601.8 516.7 L1602.5 517.0 L1603.2 517.2 L1603.9 517.4 L1604.6 517.4 L1605.3 517.5 L1605.9 517.7 L1606.6 517.5 L1607.3 517.6 L1608.0 517.7 L1608.7 517.7 L1609.4 517.8 L1610.0 517.7 L1610.7 517.7 L1611.4 517.9 L1612.1 518.0 L1612.8 517.9 L1613.5 517.9 L1614.1 518.1 L1614.8 518.0 L1615.5 517.9 L1616.2 518.1 L1616.9 518.1 L1617.6 518.0 L1618.2 518.0 L1618.9 517.9 L1619.6 518.1 L1620.3 518.1 L1621.0 518.1 L1621.6 518.2 L1622.3 518.1 L1623.0 518.1 L1623.7 518.1 L1624.4 518.0 L1625.1 518.2 L1625.7 518.1 L1626.4 518.1 L1627.1 518.3 L1627.8 518.2 L1628.5 518.2 L1629.2 518.2 L1629.8 518.1 L1630.5 518.2 L1631.2 518.1 L1631.9 518.3 L1632.6 518.2 L1633.3 518.2 L1633.9 518.1 L1634.6 518.2 L1635.3 518.1 L1636.0 518.3 L1636.7 518.4 L1637.4 518.3 L1638.0 518.4 L1638.7 518.3 L1639.4 518.5 L1640.1 518.6 L1640.8 518.6 L1641.4 518.6 L1642.1 518.4 L1642.8 518.5 L1643.5 518.6 L1644.2 518.7 L1644.9 518.7 L1645.5 518.5 L1646.2 518.7 L1646.9 518.5 L1647.6 518.5 L1648.3 518.3 L1649.0 518.5 L1649.6 518.5 L1650.3 518.5 L1651.0 518.6 L1651.7 518.6 L1652.4 518.6 L1653.1 518.4 L1653.7 518.6 L1654.4 518.5 L1655.1 518.4 L1655.8 518.3 L1656.5 518.5 L1657.2 518.5 L1657.8 518.5 L1658.5 518.5 L1659.2 518.3 L1659.9 518.2 L1660.6 518.3 L1661.3 518.3 L1661.9 518.5 L1662.6 518.6 L1663.3 518.5 L1664.0 518.4 L1664.7 518.4 L1665.3 518.3 L1666.0 518.3 L1666.7 518.4 L1667.4 518.6 L1668.1 518.6 L1668.8 518.6 L1669.4 518.6 L1670.1 518.6 L1670.8 518.6 L1671.5 518.5 L1672.2 518.6 L1672.9 518.5 L1673.5 518.6 L1674.2 518.4 L1674.9 518.5 L1675.6 518.4 L1676.3 518.3 L1677.0 518.4 L1677.6 518.6 L1678.3 518.7 L1679.0 518.5 L1679.7 518.5 L1680.4 518.4 L1681.1 518.6 L1681.7 518.5 L1682.4 518.7 L1683.1 518.8 L1683.8 518.8 L1684.5 518.8 L1685.1 518.6 L1685.8 518.8 L1686.5 518.7 L1687.2 518.8 L1687.9 518.7 L1688.6 518.8 L1689.2 518.7 L1689.9 518.6 L1690.6 518.5 L1691.3 518.5 L1692.0 518.5 L1692.7 518.4 L1693.3 518.6 L1694.0 518.5 L1694.7 518.6 L1695.4 518.5 L1696.1 518.6 L1696.8 518.6 L1697.4 518.6 L1698.1 518.6 L1698.8 518.6 L1699.5 518.7 L1700.2 518.7 L1700.9 518.8 L1701.5 518.7 L1702.2 518.6 L1702.9 518.7 L1703.6 518.6 L1704.3 518.6 L1705.0 518.8 L1705.6 518.7 L1706.3 518.6 L1707.0 518.5 L1707.7 518.4 L1708.4 518.4 L1709.0 518.4 L1709.7 518.4 L1710.4 518.6 L1711.1 518.5 L1711.8 518.6 L1712.5 518.6 L1713.1 518.8 L1713.8 518.9 L1714.5 518.7 L1715.2 518.7 L1715.9 518.7 L1716.6 518.7 L1717.2 518.8 L1717.9 518.8 L1718.6 518.9 L1719.3 518.8 L1720.0 518.8 L1720.7 518.8 L1721.3 518.9 L1722.0 519.0 L1722.7 518.9 L1723.4 519.0 L1724.1 518.9 L1724.8 518.7 L1725.4 518.6 L1726.1 518.6 L1726.8 518.5 L1727.5 518.4 L1728.2 518.5 L1728.8 518.5 L1729.5 518.5 L1730.2 518.4 L1730.9 518.3 L1731.6 518.3 L1732.3 518.5 L1732.9 518.6 L1733.6 518.8 L1734.3 518.6 L1735.0 518.7 L1735.7 518.8 L1736.4 518.8 L1737.0 518.7 L1737.7 518.7 L1738.4 518.8 L1739.1 518.8 L1739.8 518.8 L1740.5 518.6 L1741.1 518.7 L1741.8 518.8 L1742.5 518.9 L1743.2 518.8 L1743.9 518.6 L1744.6 518.6 L1745.2 518.5 L1745.9 518.4 L1746.6 518.5 L1747.3 518.4 L1748.0 518.6 L1748.7 518.7 L1749.3 518.6 L1750.0 518.6 L1750.7 518.5 L1751.4 518.6 L1752.1 518.8 L1752.7 518.7 L1753.4 518.8 L1754.1 518.8 L1754.8 518.9 L1755.5 519.0 L1756.2 518.8 L1756.8 518.7 L1757.5 518.7 L1758.2 518.7 L1758.9 518.6 L1759.6 518.6 L1760.3 518.8 L1760.9 518.8 L1761.6 518.7 L1762.3 518.6 L1763.0 518.7 L1763.7 518.6 L1764.4 518.6 L1765.0 518.6 L1765.7 518.6 L1766.4 518.7 L1767.1 518.9 L1767.8 518.8 L1768.5 518.8 L1769.1 518.8 L1769.8 518.9 L1770.5 518.8 L1771.2 518.9 L1771.9 518.7 L1772.5 518.8 L1773.2 518.7 L1773.9 518.6 L1774.6 518.7 L1775.3 518.8 L1776.0 518.7 L1776.6 518.8 L1777.3 518.9 L1778.0 519.0 L1778.7 518.8 L1779.4 519.0 L1780.1 519.1 L1780.7 518.9 L1781.4 518.8 L1782.1 518.7 L1782.8 518.7 L1783.5 518.8 L1784.2 518.8 L1784.8 518.9 L1785.5 519.0 L1786.2 519.0 L1786.9 518.9 L1787.6 519.0 L1788.3 519.1 L1788.9 519.1 L1789.6 518.9 L1790.3 518.8 L1791.0 519.0 L1791.7 518.8 L1792.4 518.9 L1793.0 518.8 L1793.7 518.9 L1794.4 518.8 L1795.1 518.7 L1795.8 518.9 L1796.4 519.0 L1797.1 519.0 L1797.8 518.8 L1798.5 518.8 L1799.2 518.8 L1799.9 518.9 L1800.5 518.8 L1801.2 519.0 L1801.9 519.1 L1802.6 519.0 L1803.3 518.8 L1804.0 518.9 L1804.6 518.8 L1805.3 518.8 L1806.0 518.6 L1806.7 518.7 L1807.4 518.7 L1808.1 518.7 L1808.7 518.8 L1809.4 518.7 L1810.1 518.6 L1810.8 518.8 L1811.5 518.9 L1812.2 519.0 L1812.8 518.9 L1813.5 518.8 L1814.2 518.7 L1814.9 518.7 L1815.6 518.7 L1816.2 518.7 L1816.9 518.7 L1817.6 518.6 L1818.3 518.7 L1819.0 518.6 L1819.7 518.6 L1820.3 518.7 L1821.0 518.6 L1821.7 518.7 L1822.4 518.8 L1823.1 518.7 L1823.8 518.8 L1824.4 518.6 L1825.1 518.7 L1825.8 518.8 L1826.5 518.7 L1827.2 518.7 L1827.9 518.7 L1828.5 518.6 L1829.2 518.8 L1829.9 519.0 L1830.6 518.9 L1831.3 518.8 L1832.0 518.9 L1832.6 518.8 L1833.3 518.9 L1834.0 518.8 L1834.7 518.9 L1835.4 519.0 L1836.1 519.0 L1836.7 518.8 L1837.4 519.0 L1838.1 519.0 L1838.8 519.1 L1839.5 519.1 L1840.1 519.1 L1840.8 518.9 L1841.5 519.0 L1842.2 519.1 L1842.9 518.9 L1843.6 519.0 L1844.2 518.8 L1844.9 518.8 L1845.6 518.7 L1846.3 518.9 L1847.0 519.0 L1847.7 518.8 L1848.3 518.8 L1849.0 518.7 L1849.7 518.8 L1850.4 519.0 L1851.1 518.9 L1851.8 518.8 L1852.4 518.8 L1853.1 518.8 L1853.8 519.0 L1854.5 518.8 L1855.2 518.8 L1855.9 518.9 L1856.5 518.9 L1857.2 519.0 L1857.9 518.8 L1858.6 519.0 L1859.3 518.9 L1860.0 518.9 L1860.6 518.8 L1861.3 518.7 L1862.0 518.7 L1862.7 518.9 L1863.4 518.8 L1864.0 518.8 L1864.7 518.6 L1865.4 518.8 L1866.1 518.9 L1866.8 519.0 L1867.5 518.9 L1868.1 518.9 L1868.8 518.9 L1869.5 519.0 L1870.2 519.0 L1870.9 519.0 L1871.6 519.1 L1872.2 519.1 L1872.9 519.1 L1873.6 519.1 L1874.3 519.0 L1875.0 519.0 L1875.7 519.1 L1876.3 519.0 L1877.0 519.1 L1877.7 519.0 L1878.4 518.9 L1879.1 518.9 L1879.8 518.9 L1880.4 519.0 L1881.1 518.8 L1881.8 518.8 L1882.5 518.6 L1883.2 518.6 L1883.8 518.6 L1884.5 518.6 L1885.2 518.7 L1885.9 518.8 L1886.6 518.9 L1887.3 518.8 L1887.9 518.9 L1888.6 518.7 L1889.3 518.7 L1890.0 518.8 L1890.7 518.7 L1891.4 518.9 L1892.0 518.9 L1892.7 519.0 L1893.4 518.9 L1894.1 518.9 L1894.8 519.0 L1895.5 518.9 L1896.1 519.0 L1896.8 519.0 L1897.5 519.0 L1898.2 518.9 L1898.9 518.8 L1899.6 518.7 L1900.2 518.9 L1900.9 519.1 L1901.6 519.2 L1902.3 519.2 L1903.0 518.9 L1903.7 519.1 L1904.3 519.2 L1905.0 519.1 L1905.7 518.9 L1906.4 518.9 L1907.1 519.1 L1907.7 519.0 L1908.4 519.0 L1909.1 519.0 L1909.8 519.0 L1910.5 519.0 L1911.2 519.1 L1911.8 519.0 L1912.5 518.8 L1913.2 518.8 L1913.9 518.8 L1914.6 519.0 L1915.3 519.0 L1915.9 519.1 L1916.6 519.1 L1917.3 519.0 L1918.0 519.0 L1918.7 518.8 L1919.4 518.8 L1920.0 518.9 L1920.7 518.8 L1921.4 518.7 L1922.1 518.7 L1922.8 518.8 L1923.5 518.9 L1924.1 518.9 L1924.8 519.0 L1925.5 519.1 L1926.2 519.2 L1926.9 519.2 L1927.5 519.0 L1928.2 518.9 L1928.9 518.7 L1929.6 518.7 L1930.3 518.9 L1931.0 519.0 L1931.6 518.9 L1932.3 519.0 L1933.0 518.9 L1933.7 519.0 L1934.4 518.9 L1935.1 518.9 L1935.7 519.0 L1936.4 518.9 L1937.1 518.8 L1937.8 518.9 L1938.5 518.8 L1939.2 518.8 L1939.8 518.7 L1940.5 518.8 L1941.2 518.8 L1941.9 518.9 L1942.6 519.0 L1943.3 518.9 L1943.9 518.8 L1944.6 518.8 L1945.3 518.8 L1946.0 518.8 L1946.7 518.9 L1947.4 518.9 L1948.0 519.0 L1948.7 518.9 L1949.4 518.8 L1950.1 518.9 L1950.8 518.8 L1951.4 518.9 L1952.1 518.9 L1952.8 519.0 L1953.5 519.0 L1954.2 519.0 L1954.9 519.0 L1955.5 519.0 L1956.2 519.1 L1956.9 519.1 L1957.6 518.9 L1958.3 518.8 L1959.0 518.8 L1959.6 518.7 L1960.3 518.8 L1961.0 518.9 L1961.7 519.0 L1962.4 518.9 L1963.1 518.8 L1963.7 518.8 L1964.4 518.7 L1965.1 518.9 L1965.8 519.0 L1966.5 519.1 L1967.2 519.2 L1967.8 519.0 L1968.5 518.9 L1969.2 519.0 L1969.9 519.0 L1970.6 519.0 L1971.2 519.0 L1971.9 519.1 L1972.6 519.0 L1973.3 519.0 L1974.0 519.0 L1974.7 518.9 L1975.3 518.9 L1976.0 518.8 L1976.7 518.8 L1977.4 518.9 L1978.1 518.9 L1978.8 519.0 L1979.4 519.0 L1980.1 519.0 L1980.8 519.0 L1981.5 519.0 L1982.2 519.0 L1982.9 519.0 L1983.5 519.1 L1984.2 519.1 L1984.9 519.2 L1985.6 519.0 L1986.3 518.9 L1987.0 518.9 L1987.6 518.8 L1988.3 518.9 L1989.0 518.9 L1989.7 519.0 L1990.4 519.1 L1991.1 518.9 L1991.7 519.1 L1992.4 518.9 L1993.1 519.1 L1993.8 519.2 L1994.5 519.1 L1995.1 519.0 L1995.8 519.1 L1996.5 519.1 L1997.2 519.2 L1997.9 519.1 L1998.6 519.2 L1999.2 519.2 L1999.9 519.3 L2000.6 519.2 L2001.3 519.2 L2002.0 519.1 L2002.7 519.1 L2003.3 519.0 L2004.0 519.0 L2004.7 518.9 L2005.4 519.0 L2006.1 518.9 L2006.8 518.9 L2007.4 518.8 L2008.1 518.9 L2008.8 518.8 L2009.5 518.9 L2010.2 519.0 L2010.9 519.1 L2011.5 519.0 L2012.2 519.0 L2012.9 519.0 L2013.6 519.0 L2014.3 519.1 L2014.9 519.0 L2015.6 519.1 L2016.3 519.2 L2017.0 519.2 L2017.7 519.1 L2018.4 519.2 L2019.0 519.1 L2019.7 519.2 L2020.4 519.1 L2021.1 519.0 L2021.8 519.0 L2022.5 518.9 L2023.1 518.9 L2023.8 519.1 L2024.5 519.1 L2025.2 519.1 L2025.9 519.1 L2026.6 519.0 L2027.2 519.1 L2027.9 518.9 L2028.6 518.9 L2029.3 518.9 L2030.0 518.9 L2030.7 518.8 L2031.3 518.8 L2032.0 519.0 L2032.7 519.1 L2033.4 519.2 L2034.1 519.3 L2034.8 519.3 L2035.4 519.4 L2036.1 519.1 L2036.8 519.2 L2037.5 519.1 L2038.2 519.2 L2038.8 519.2 L2039.5 519.2 L2040.2 519.2 L2040.9 519.1 L2041.6 519.2 L2042.3 519.2 L2042.9 519.2 L2043.6 519.2 L2044.3 519.2 L2045.0 519.1 L2045.7 519.2 L2046.4 519.1 L2047.0 519.2 L2047.7 519.0 L2048.4 519.1 L2049.1 519.0 L2049.8 519.1 L2050.5 519.0 L2051.1 518.9 L2051.8 519.0 L2052.5 518.9 L2053.2 518.9 L2053.9 519.1 L2054.6 519.1 L2055.2 519.0 L2055.9 519.1 L2056.6 519.2 L2057.3 519.1 L2058.0 519.0 L2058.6 519.1 L2059.3 519.1 L2060.0 519.1 L2060.7 519.2 L2061.4 519.1 L2062.1 519.2 L2062.7 519.1 L2063.4 519.0 L2064.1 519.0 L2064.8 518.9 L2065.5 518.9 L2066.2 518.8 L2066.8 519.0 L2067.5 519.1 L2068.2 518.9 L2068.9 518.9 L2069.6 518.8 L2070.3 518.9 L2070.9 519.0 L2071.6 519.0 L2072.3 518.9 L2073.0 519.1 L2073.7 519.2 L2074.4 519.2 L2075.0 519.1 L2075.7 519.1 L2076.4 519.1 L2077.1 519.0 L2077.8 518.9 L2078.5 519.0 L2079.1 518.9 L2079.8 518.8 L2080.5 518.9 L2081.2 518.8 L2081.9 518.9 L2082.5 519.1 L2083.2 519.1 L2083.9 519.2 L2084.6 519.1 L2085.3 519.0 L2086.0 518.9 L2086.6 519.0 L2087.3 519.0 L2088.0 518.8 L2088.7 518.8 L2089.4 518.9 L2090.1 519.1 L2090.7 518.9 L2091.4 519.1 L2092.1 519.2 L2092.8 519.0 L2093.5 519.0 L2094.2 518.9 L2094.8 519.0 L2095.5 519.2 L2096.2 519.2 L2096.9 519.1 L2097.6 519.0 L2098.3 519.1 L2098.9 519.1 L2099.6 519.0 L2100.3 518.8 L2101.0 518.8 L2101.7 519.0 L2102.3 518.9 L2103.0 518.9 L2103.7 519.0 L2104.4 518.9 L2105.1 519.0 L2105.8 518.9 L2106.4 519.0 L2107.1 519.0 L2107.8 518.8 L2108.5 518.7 L2109.2 518.7 L2109.9 518.6 L2110.5 518.7 L2111.2 518.8 L2111.9 518.8 L2112.6 518.7 L2113.3 518.8 L2114.0 518.8 L2114.6 519.0 L2115.3 519.0 L2116.0 518.8 L2116.7 518.8 L2117.4 519.0 L2118.1 518.9 L2118.7 519.0 L2119.4 519.0 L2120.1 519.0 L2120.8 519.0 L2121.5 518.8 L2122.2 518.8 L2122.8 518.9 L2123.5 519.1 L2124.2 519.1 L2124.9 519.1 L2125.6 519.1 L2126.2 519.1 L2126.9 519.1 L2127.6 519.1 L2128.3 519.0 L2129.0 518.9 L2129.7 519.0 L2130.3 519.1 L2131.0 519.0 L2131.7 518.8 L2132.4 518.7 L2133.1 518.6 L2133.8 518.5 L2134.4 518.5 L2135.1 518.7 L2135.8 518.7 L2136.5 518.6 L2137.2 518.7 L2137.9 518.8 L2138.5 518.8 L2139.2 518.7 L2139.9 518.8 L2140.6 518.8 L2141.3 518.9 L2142.0 518.8 L2142.6 518.8 L2143.3 518.8 L2144.0 518.7 L2144.7 518.6 L2145.4 518.6 L2146.0 518.6 L2146.7 518.5 L2147.4 518.3 L2148.1 518.2 L2148.8 518.3 L2149.5 518.1 L2150.1 517.8 L2150.8 517.8 L2151.5 517.8 L2152.2 517.6 L2152.9 517.3 L2153.6 517.2 L2154.2 517.2 L2154.9 517.1 L2155.6 516.9 L2156.3 516.7 L2157.0 516.4 L2157.7 516.0 L2158.3 515.9 L2159.0 515.6 L2159.7 515.3 L2160.4 515.0 L2161.1 514.8 L2161.8 514.3 L2162.4 514.0 L2163.1 513.6 L2163.8 513.1 L2164.5 512.5 L2165.2 511.9 L2165.9 511.6 L2166.5 511.0 L2167.2 510.5 L2167.9 510.1 L2168.6 509.7 L2169.3 509.2 L2169.9 508.9 L2170.6 508.5 L2171.3 508.0 L2172.0 507.9 L2172.7 507.5 L2173.4 507.3 L2174.0 507.3 L2174.7 507.3 L2175.4 507.5 L2176.1 507.7 L2176.8 508.1 L2177.5 508.4 L2178.1 508.9 L2178.8 509.2 L2179.5 509.6 L2180.2 510.2 L2180.9 510.5 L2181.6 511.0 L2182.2 511.4 L2182.9 512.1 L2183.6 512.4 L2184.3 513.0 L2185.0 513.5 L2185.7 513.9 L2186.3 514.3 L2187.0 514.6 L2187.7 515.1 L2188.4 515.4 L2189.1 515.7 L2189.7 516.1 L2190.4 516.4 L2191.1 516.6 L2191.8 516.9 L2192.5 517.1 L2193.2 517.3 L2193.8 517.5 L2194.5 517.6 L2195.2 517.6 L2195.9 517.6 L2196.6 517.8 L2197.3 518.0 L2197.9 518.1 L2198.6 518.0 L2199.3 518.2 L2200.0 518.1 L2200.7 518.2 L2201.4 518.4 L2202.0 518.4 L2202.7 518.6 L2203.4 518.5 L2204.1 518.5 L2204.8 518.4 L2205.5 518.4 L2206.1 518.3 L2206.8 518.5 L2207.5 518.6 L2208.2 518.5 L2208.9 518.5 L2209.6 518.4 L2210.2 518.6 L2210.9 518.5 L2211.6 518.7 L2212.3 518.6 L2213.0 518.7 L2213.6 518.7 L2214.3 518.8 L2215.0 518.8 L2215.7 518.9 L2216.4 518.8 L2217.1 518.7 L2217.7 518.8 L2218.4 518.8 L2219.1 518.8 L2219.8 518.9 L2220.5 519.1 L2221.2 519.1 L2221.8 519.0 L2222.5 519.0 L2223.2 519.0 L2223.9 519.0 L2224.6 519.2 L2225.3 519.2 L2225.9 519.3 L2226.6 519.4 L2227.3 519.3 L2228.0 519.1 L2228.7 519.2 L2229.4 519.0 L2230.0 518.9 L2230.7 518.9 L2231.4 519.1 L2232.1 519.1 L2232.8 519.1 L2233.4 519.2 L2234.1 519.2 L2234.8 519.3 L2235.5 519.2 L2236.2 519.2 L2236.9 519.3 L2237.5 519.3 L2238.2 519.2 L2238.9 519.2 L2239.6 519.2 L2240.3 519.3 L2241.0 519.3 L2241.6 519.3 L2242.3 519.3 L2243.0 519.3 L2243.7 519.3 L2244.4 519.3 L2245.1 519.3 L2245.7 519.4 L2246.4 519.5 L2247.1 519.4 L2247.8 519.4 L2248.5 519.5 L2249.2 519.3 L2249.8 519.2 L2250.5 519.1 L2251.2 519.2 L2251.9 519.3 L2252.6 519.4 L2253.2 519.5 L2253.9 519.6 L2254.6 519.6 L2255.3 519.5 L2256.0 519.5 L2256.7 519.5 L2257.3 519.4 L2258.0 519.2 L2258.7 519.1 L2259.4 519.1 L2260.1 519.1 L2260.8 519.2 L2261.4 519.4 L2262.1 519.2 L2262.8 519.3 L2263.5 519.3 L2264.2 519.2 L2264.9 519.3 L2265.5 519.5 L2266.2 519.5 L2266.9 519.5 L2267.6 519.5 L2268.3 519.6 L2269.0 519.6 L2269.6 519.5 L2270.3 519.4 L2271.0 519.3 L2271.7 519.1 L2272.4 519.3 L2273.1 519.3 L2273.7 519.5 L2274.4 519.6 L2275.1 519.6 L2275.8 519.5 L2276.5 519.5 L2277.1 519.3 L2277.8 519.4 L2278.5 519.5 L2279.2 519.6 L2279.9 519.7 L2280.6 519.7 L2281.2 519.6 L2281.9 519.5 L2282.6 519.6 L2283.3 519.6 L2284.0 519.4 L2284.7 519.4 L2285.3 519.5 L2286.0 519.6 L2286.7 519.5 L2287.4 519.4 L2288.1 519.4 L2288.8 519.3 L2289.4 519.3 L2290.1 519.3 L2290.8 519.4 L2291.5 519.3 L2292.2 519.4 L2292.9 519.5 L2293.5 519.3 L2294.2 519.4 L2294.9 519.5 L2295.6 519.4 L2296.3 519.3 L2296.9 519.1 L2297.6 519.2 L2298.3 519.1 L2299.0 519.1 L2299.7 519.2 L2300.4 519.3 L2301.0 519.2 L2301.7 519.4 L2302.4 519.5 L2303.1 519.5 L2303.8 519.5 L2304.5 519.5 L2305.1 519.5 L2305.8 519.5 L2306.5 519.4 L2307.2 519.5 L2307.9 519.6 L2308.6 519.7 L2309.2 519.7 L2309.9 519.7 L2310.6 519.7 L2311.3 519.5 L2312.0 519.5 L2312.7 519.6 L2313.3 519.5 L2314.0 519.5 L2314.7 519.4 L2315.4 519.4 L2316.1 519.4 L2316.8 519.4 L2317.4 519.3 L2318.1 519.4 L2318.8 519.4 L2319.5 519.5 L2320.2 519.3 L2320.8 519.4 L2321.5 519.4 L2322.2 519.5 L2322.9 519.4 L2323.6 519.4 L2324.3 519.5 L2324.9 519.6 L2325.6 519.5 L2326.3 519.6 L2327.0 519.5 L2327.7 519.5 L2328.4 519.5 L2329.0 519.5 L2329.7 519.6 L2330.4 519.7 L2331.1 519.6 L2331.8 519.5 L2332.5 519.3 L2333.1 519.3 L2333.8 519.2 L2334.5 519.4 L2335.2 519.4 L2335.9 519.3 L2336.6 519.2 L2337.2 519.2 L2337.9 519.2 L2338.6 519.3 L2339.3 519.4 L2340.0 519.3 L2340.7 519.3 L2341.3 519.4 L2342.0 519.3 L2342.7 519.5 L2343.4 519.5 L2344.1 519.4 L2344.7 519.3 L2345.4 519.5 L2346.1 519.6 L2346.8 519.6 L2347.5 519.6 L2348.2 519.5 L2348.8 519.3 L2349.5 519.4 L2350.2 519.3 L2350.9 519.4 L2351.6 519.5 L2352.3 519.5 L2352.9 519.5 L2353.6 519.4 L2354.3 519.3 L2355.0 519.5 L2355.7 519.3 L2356.4 519.4 L2357.0 519.6 L2357.7 519.6 L2358.4 519.5 L2359.1 519.6 L2359.8 519.5 L2360.5 519.6 L2361.1 519.7 L2361.8 519.7 L2362.5 519.7" fill="none" stroke="#FDB77F" stroke-width="9" stroke-linejoin="round" stroke-linecap="butt"/>
<path d="M177.5 613.7 L178.2 613.8 L178.9 613.8 L179.5 613.7 L180.2 613.8 L180.9 613.9 L181.6 614.0 L182.3 613.9 L183.0 614.0 L183.6 614.0 L184.3 613.9 L185.0 613.7 L185.7 613.9 L186.4 613.7 L187.1 613.8 L187.7 613.9 L188.4 613.9 L189.1 613.8 L189.8 613.7 L190.5 613.7 L191.2 613.8 L191.8 613.7 L192.5 613.6 L193.2 613.7 L193.9 613.7 L194.6 613.6 L195.3 613.5 L195.9 613.7 L196.6 613.7 L197.3 613.8 L198.0 613.8 L198.7 613.9 L199.4 613.7 L200.0 613.8 L200.7 613.9 L201.4 613.8 L202.1 613.8 L202.8 613.7 L203.4 613.7 L204.1 613.9 L204.8 613.8 L205.5 613.9 L206.2 613.7 L206.9 613.8 L207.5 613.7 L208.2 613.8 L208.9 613.7 L209.6 613.6 L210.3 613.6 L211.0 613.6 L211.6 613.8 L212.3 613.8 L213.0 613.6 L213.7 613.6 L214.4 613.6 L215.1 613.8 L215.7 613.8 L216.4 613.8 L217.1 613.9 L217.8 614.0 L218.5 614.1 L219.2 614.2 L219.8 614.2 L220.5 614.3 L221.2 614.2 L221.9 614.1 L222.6 614.1 L223.2 614.0 L223.9 614.0 L224.6 613.9 L225.3 614.0 L226.0 613.9 L226.7 613.8 L227.3 613.9 L228.0 613.9 L228.7 613.7 L229.4 613.8 L230.1 613.9 L230.8 614.0 L231.4 613.9 L232.1 613.8 L232.8 613.7 L233.5 613.8 L234.2 613.8 L234.9 613.9 L235.5 613.8 L236.2 613.7 L236.9 613.9 L237.6 614.0 L238.3 614.1 L239.0 614.0 L239.6 613.8 L240.3 613.7 L241.0 613.8 L241.7 613.9 L242.4 614.0 L243.1 613.8 L243.7 613.9 L244.4 614.0 L245.1 613.9 L245.8 614.0 L246.5 613.9 L247.1 613.9 L247.8 613.7 L248.5 613.6 L249.2 613.8 L249.9 613.8 L250.6 613.9 L251.2 613.8 L251.9 613.8 L252.6 613.7 L253.3 613.9 L254.0 613.8 L254.7 613.9 L255.3 613.8 L256.0 613.7 L256.7 613.6 L257.4 613.7 L258.1 613.9 L258.8 613.9 L259.4 613.9 L260.1 613.8 L260.8 614.0 L261.5 613.8 L262.2 613.7 L262.9 613.8 L263.5 613.8 L264.2 613.8 L264.9 613.8 L265.6 613.7 L266.3 613.6 L266.9 613.6 L267.6 613.7 L268.3 613.9 L269.0 613.9 L269.7 614.0 L270.4 614.0 L271.0 614.1 L271.7 614.1 L272.4 614.0 L273.1 614.0 L273.8 614.0 L274.5 613.9 L275.1 613.8 L275.8 613.7 L276.5 613.8 L277.2 613.6 L277.9 613.7 L278.6 613.6 L279.2 613.8 L279.9 613.8 L280.6 613.8 L281.3 613.7 L282.0 613.7 L282.7 613.9 L283.3 614.0 L284.0 614.1 L284.7 613.9 L285.4 614.0 L286.1 614.1 L286.8 614.0 L287.4 613.9 L288.1 614.0 L288.8 613.9 L289.5 613.8 L290.2 613.9 L290.8 613.9 L291.5 613.8 L292.2 613.8 L292.9 613.9 L293.6 614.0 L294.3 613.9 L294.9 614.0 L295.6 613.9 L296.3 613.8 L297.0 613.8 L297.7 613.6 L298.4 613.7 L299.0 613.7 L299.7 613.7 L300.4 613.7 L301.1 613.8 L301.8 613.8 L302.5 613.8 L303.1 613.8 L303.8 613.8 L304.5 613.9 L305.2 613.8 L305.9 613.9 L306.6 613.8 L307.2 613.7 L307.9 613.7 L308.6 613.9 L309.3 613.8 L310.0 613.7 L310.6 613.8 L311.3 613.8 L312.0 613.7 L312.7 613.9 L313.4 613.9 L314.1 613.9 L314.7 613.8 L315.4 613.8 L316.1 613.7 L316.8 613.7 L317.5 613.7 L318.2 613.9 L318.8 614.1 L319.5 613.9 L320.2 614.0 L320.9 614.1 L321.6 613.9 L322.3 613.7 L322.9 613.7 L323.6 613.9 L324.3 613.8 L325.0 613.8 L325.7 613.9 L326.4 613.9 L327.0 613.8 L327.7 613.8 L328.4 614.0 L329.1 613.8 L329.8 613.7 L330.5 613.7 L331.1 613.9 L331.8 614.0 L332.5 613.8 L333.2 613.9 L333.9 614.0 L334.5 614.1 L335.2 613.9 L335.9 613.7 L336.6 613.7 L337.3 613.9 L338.0 614.0 L338.6 613.9 L339.3 614.1 L340.0 614.1 L340.7 614.0 L341.4 613.9 L342.1 613.7 L342.7 613.7 L343.4 613.6 L344.1 613.7 L344.8 613.8 L345.5 614.0 L346.2 613.8 L346.8 613.7 L347.5 613.8 L348.2 613.7 L348.9 613.6 L349.6 613.7 L350.3 613.8 L350.9 613.9 L351.6 613.9 L352.3 613.8 L353.0 613.6 L353.7 613.8 L354.3 613.9 L355.0 613.8 L355.7 613.8 L356.4 613.7 L357.1 613.7 L357.8 613.9 L358.4 614.0 L359.1 614.0 L359.8 614.1 L360.5 614.0 L361.2 614.1 L361.9 614.0 L362.5 613.8 L363.2 613.8 L363.9 614.0 L364.6 614.0 L365.3 614.0 L366.0 614.1 L366.6 614.1 L367.3 614.1 L368.0 614.0 L368.7 613.9 L369.4 614.0 L370.1 613.9 L370.7 613.9 L371.4 613.8 L372.1 613.9 L372.8 613.9 L373.5 614.0 L374.1 613.9 L374.8 613.8 L375.5 613.7 L376.2 613.6 L376.9 613.6 L377.6 613.8 L378.2 614.0 L378.9 613.8 L379.6 614.0 L380.3 613.8 L381.0 613.9 L381.7 613.9 L382.3 613.8 L383.0 613.7 L383.7 613.9 L384.4 614.0 L385.1 614.0 L385.8 614.0 L386.4 614.1 L387.1 614.0 L387.8 614.1 L388.5 614.2 L389.2 614.1 L389.9 614.1 L390.5 614.1 L391.2 613.9 L391.9 613.8 L392.6 613.9 L393.3 614.0 L394.0 613.9 L394.6 613.8 L395.3 613.9 L396.0 613.7 L396.7 613.9 L397.4 613.9 L398.0 613.8 L398.7 613.7 L399.4 613.9 L400.1 613.9 L400.8 614.0 L401.5 614.0 L402.1 613.9 L402.8 613.9 L403.5 613.9 L404.2 614.0 L404.9 614.1 L405.6 614.0 L406.2 613.9 L406.9 613.9 L407.6 613.8 L408.3 613.9 L409.0 613.9 L409.7 613.8 L410.3 613.8 L411.0 613.7 L411.7 613.8 L412.4 613.7 L413.1 613.8 L413.8 613.9 L414.4 614.1 L415.1 614.0 L415.8 613.9 L416.5 613.9 L417.2 614.0 L417.8 614.1 L418.5 614.1 L419.2 614.2 L419.9 614.0 L420.6 613.9 L421.3 613.9 L421.9 613.9 L422.6 613.8 L423.3 613.7 L424.0 613.7 L424.7 613.7 L425.4 613.7 L426.0 613.8 L426.7 613.8 L427.4 613.7 L428.1 613.8 L428.8 613.8 L429.5 613.7 L430.1 613.8 L430.8 613.7 L431.5 613.9 L432.2 614.0 L432.9 613.8 L433.6 613.9 L434.2 613.9 L434.9 613.9 L435.6 613.9 L436.3 614.0 L437.0 613.9 L437.7 614.0 L438.3 614.1 L439.0 613.9 L439.7 613.8 L440.4 613.7 L441.1 613.6 L441.7 613.8 L442.4 613.9 L443.1 613.7 L443.8 613.8 L444.5 613.8 L445.2 614.0 L445.8 614.0 L446.5 613.9 L447.2 613.9 L447.9 613.7 L448.6 613.9 L449.3 613.9 L449.9 613.9 L450.6 613.7 L451.3 613.8 L452.0 613.8 L452.7 614.0 L453.4 613.9 L454.0 613.9 L454.7 614.0 L455.4 613.8 L456.1 613.8 L456.8 613.8 L457.5 614.0 L458.1 614.1 L458.8 614.1 L459.5 614.1 L460.2 614.2 L460.9 614.2 L461.6 614.2 L462.2 614.2 L462.9 614.0 L463.6 613.8 L464.3 613.8 L465.0 613.9 L465.6 613.8 L466.3 614.0 L467.0 614.1 L467.7 613.9 L468.4 613.7 L469.1 613.6 L469.7 613.9 L470.4 613.9 L471.1 613.8 L471.8 613.8 L472.5 613.7 L473.2 613.7 L473.8 613.9 L474.5 614.0 L475.2 613.9 L475.9 614.0 L476.6 614.1 L477.3 614.0 L477.9 614.0 L478.6 613.9 L479.3 614.0 L480.0 613.9 L480.7 614.0 L481.4 614.0 L482.0 614.0 L482.7 614.1 L483.4 614.1 L484.1 614.2 L484.8 614.1 L485.4 614.1 L486.1 614.2 L486.8 614.1 L487.5 614.0 L488.2 613.9 L488.9 613.9 L489.5 613.8 L490.2 613.9 L490.9 614.0 L491.6 613.8 L492.3 613.9 L493.0 614.1 L493.6 613.9 L494.3 614.0 L495.0 614.1 L495.7 614.1 L496.4 614.1 L497.1 614.2 L497.7 614.2 L498.4 614.2 L499.1 614.1 L499.8 614.1 L500.5 614.0 L501.2 614.1 L501.8 613.9 L502.5 613.8 L503.2 613.7 L503.9 613.7 L504.6 613.7 L505.3 613.8 L505.9 613.7 L506.6 613.8 L507.3 613.9 L508.0 614.0 L508.7 614.0 L509.3 614.1 L510.0 614.0 L510.7 613.9 L511.4 613.8 L512.1 613.7 L512.8 613.9 L513.4 614.1 L514.1 614.0 L514.8 613.8 L515.5 614.0 L516.2 614.1 L516.9 614.2 L517.5 614.1 L518.2 614.2 L518.9 613.9 L519.6 613.9 L520.3 613.8 L521.0 613.9 L521.6 613.8 L522.3 614.0 L523.0 614.1 L523.7 614.1 L524.4 614.2 L525.1 614.0 L525.7 613.9 L526.4 614.0 L527.1 614.0 L527.8 614.2 L528.5 613.9 L529.1 613.8 L529.8 613.9 L530.5 613.8 L531.2 614.0 L531.9 614.1 L532.6 614.0 L533.2 614.1 L533.9 614.0 L534.6 614.1 L535.3 613.9 L536.0 613.9 L536.7 614.0 L537.3 614.1 L538.0 614.0 L538.7 613.8 L539.4 613.7 L540.1 613.8 L540.8 613.7 L541.4 613.8 L542.1 613.9 L542.8 613.9 L543.5 614.1 L544.2 614.2 L544.9 614.0 L545.5 614.1 L546.2 614.0 L546.9 614.0 L547.6 613.9 L548.3 614.0 L549.0 614.0 L549.6 614.0 L550.3 614.1 L551.0 614.0 L551.7 613.9 L552.4 613.9 L553.0 614.0 L553.7 614.2 L554.4 614.1 L555.1 614.1 L555.8 614.2 L556.5 614.1 L557.1 614.0 L557.8 614.1 L558.5 613.9 L559.2 614.0 L559.9 614.1 L560.6 614.2 L561.2 614.2 L561.9 614.0 L562.6 614.1 L563.3 614.2 L564.0 614.1 L564.7 614.1 L565.3 614.0 L566.0 613.9 L566.7 613.7 L567.4 613.9 L568.1 613.8 L568.8 613.7 L569.4 613.7 L570.1 613.8 L570.8 613.9 L571.5 613.8 L572.2 613.9 L572.8 613.9 L573.5 613.8 L574.2 614.0 L574.9 613.9 L575.6 614.0 L576.3 614.0 L576.9 614.1 L577.6 614.0 L578.3 614.1 L579.0 614.1 L579.7 614.2 L580.4 614.0 L581.0 614.0 L581.7 613.8 L582.4 613.7 L583.1 613.7 L583.8 613.9 L584.5 613.9 L585.1 613.8 L585.8 613.8 L586.5 613.8 L587.2 613.9 L587.9 613.8 L588.6 613.9 L589.2 613.9 L589.9 614.0 L590.6 614.1 L591.3 614.1 L592.0 614.0 L592.6 614.0 L593.3 614.0 L594.0 614.0 L594.7 614.0 L595.4 614.0 L596.1 614.1 L596.7 614.1 L597.4 614.1 L598.1 614.2 L598.8 614.1 L599.5 613.9 L600.2 614.0 L600.8 614.1 L601.5 614.1 L602.2 614.0 L602.9 613.9 L603.6 613.9 L604.3 613.9 L604.9 613.7 L605.6 613.8 L606.3 613.9 L607.0 614.0 L607.7 614.0 L608.4 614.0 L609.0 614.1 L609.7 613.9 L610.4 614.0 L611.1 614.1 L611.8 614.0 L612.5 614.0 L613.1 614.0 L613.8 614.0 L614.5 614.1 L615.2 614.2 L615.9 614.1 L616.5 614.1 L617.2 614.2 L617.9 614.0 L618.6 613.9 L619.3 613.9 L620.0 614.0 L620.6 614.1 L621.3 614.2 L622.0 614.1 L622.7 614.0 L623.4 614.0 L624.1 613.9 L624.7 614.0 L625.4 614.0 L626.1 614.0 L626.8 613.8 L627.5 613.9 L628.2 613.9 L628.8 613.9 L629.5 614.0 L630.2 613.9 L630.9 614.0 L631.6 614.1 L632.3 614.2 L632.9 614.1 L633.6 614.2 L634.3 614.1 L635.0 614.0 L635.7 613.9 L636.3 613.9 L637.0 613.8 L637.7 613.9 L638.4 614.0 L639.1 614.0 L639.8 614.1 L640.4 614.2 L641.1 614.2 L641.8 614.2 L642.5 614.1 L643.2 614.2 L643.9 614.3 L644.5 614.2 L645.2 614.0 L645.9 613.9 L646.6 613.8 L647.3 613.8 L648.0 613.9 L648.6 613.9 L649.3 614.0 L650.0 613.8 L650.7 613.8 L651.4 613.8 L652.1 613.9 L652.7 614.1 L653.4 614.0 L654.1 614.2 L654.8 614.0 L655.5 613.8 L656.2 613.9 L656.8 614.0 L657.5 614.0 L658.2 613.9 L658.9 613.8 L659.6 613.8 L660.2 613.8 L660.9 613.7 L661.6 613.8 L662.3 613.9 L663.0 613.9 L663.7 614.0 L664.3 614.0 L665.0 614.1 L665.7 614.0 L666.4 614.1 L667.1 614.2 L667.8 614.0 L668.4 613.9 L669.1 613.9 L669.8 613.8 L670.5 613.9 L671.2 614.0 L671.9 614.1 L672.5 614.1 L673.2 614.2 L673.9 614.0 L674.6 614.0 L675.3 614.0 L676.0 614.1 L676.6 614.1 L677.3 614.2 L678.0 614.1 L678.7 614.1 L679.4 614.0 L680.0 614.1 L680.7 614.1 L681.4 614.1 L682.1 614.0 L682.8 614.0 L683.5 614.0 L684.1 614.0 L684.8 614.0 L685.5 614.0 L686.2 613.9 L686.9 613.8 L687.6 613.8 L688.2 613.8 L688.9 613.7 L689.6 613.9 L690.3 614.1 L691.0 613.9 L691.7 613.9 L692.3 614.1 L693.0 613.9 L693.7 613.9 L694.4 613.9 L695.1 613.9 L695.8 613.9 L696.4 614.0 L697.1 614.0 L697.8 613.9 L698.5 613.9 L699.2 614.0 L699.9 613.9 L700.5 613.9 L701.2 613.9 L701.9 614.0 L702.6 614.1 L703.3 614.0 L703.9 614.1 L704.6 614.1 L705.3 614.0 L706.0 614.0 L706.7 614.1 L707.4 614.0 L708.0 614.1 L708.7 613.9 L709.4 613.9 L710.1 613.9 L710.8 614.0 L711.5 614.0 L712.1 613.9 L712.8 614.0 L713.5 614.0 L714.2 614.2 L714.9 614.1 L715.6 614.2 L716.2 614.0 L716.9 614.1 L717.6 614.1 L718.3 614.0 L719.0 614.0 L719.7 613.9 L720.3 614.0 L721.0 613.9 L721.7 614.0 L722.4 613.9 L723.1 614.0 L723.8 613.9 L724.4 613.8 L725.1 613.8 L725.8 613.9 L726.5 613.8 L727.2 613.7 L727.8 613.7 L728.5 613.9 L729.2 613.9 L729.9 614.0 L730.6 614.0 L731.3 614.1 L731.9 614.1 L732.6 613.9 L733.3 613.8 L734.0 613.9 L734.7 613.8 L735.4 613.8 L736.0 614.0 L736.7 614.2 L737.4 614.0 L738.1 613.9 L738.8 613.8 L739.5 614.0 L740.1 614.0 L740.8 614.2 L741.5 614.2 L742.2 614.2 L742.9 614.2 L743.6 614.1 L744.2 614.1 L744.9 614.2 L745.6 614.1 L746.3 614.1 L747.0 614.1 L747.6 614.0 L748.3 614.1 L749.0 614.2 L749.7 614.1 L750.4 614.1 L751.1 614.1 L751.7 614.1 L752.4 614.0 L753.1 614.0 L753.8 614.1 L754.5 614.0 L755.2 614.0 L755.8 614.1 L756.5 614.2 L757.2 614.2 L757.9 614.2 L758.6 614.3 L759.3 614.2 L759.9 614.3 L760.6 614.4 L761.3 614.3 L762.0 614.1 L762.7 614.1 L763.4 614.2 L764.0 614.3 L764.7 614.1 L765.4 614.0 L766.1 613.9 L766.8 614.1 L767.5 613.9 L768.1 613.9 L768.8 613.9 L769.5 614.0 L770.2 614.1 L770.9 613.9 L771.5 613.9 L772.2 613.9 L772.9 614.0 L773.6 614.1 L774.3 614.0 L775.0 614.1 L775.6 614.1 L776.3 614.0 L777.0 613.9 L777.7 613.8 L778.4 613.9 L779.1 613.9 L779.7 613.9 L780.4 614.1 L781.1 614.0 L781.8 614.1 L782.5 614.0 L783.2 614.1 L783.8 614.1 L784.5 614.1 L785.2 614.0 L785.9 614.1 L786.6 614.0 L787.3 614.0 L787.9 614.1 L788.6 614.1 L789.3 614.0 L790.0 614.1 L790.7 614.0 L791.3 613.9 L792.0 613.8 L792.7 614.0 L793.4 614.0 L794.1 613.9 L794.8 613.9 L795.4 613.9 L796.1 614.0 L796.8 613.9 L797.5 613.8 L798.2 614.0 L798.9 614.1 L799.5 614.0 L800.2 613.9 L800.9 613.9 L801.6 614.1 L802.3 614.2 L803.0 614.0 L803.6 613.9 L804.3 613.9 L805.0 613.9 L805.7 614.0 L806.4 614.0 L807.1 614.0 L807.7 613.9 L808.4 613.9 L809.1 614.0 L809.8 614.0 L810.5 613.9 L811.2 614.1 L811.8 614.1 L812.5 614.2 L813.2 614.3 L813.9 614.2 L814.6 614.0 L815.2 613.9 L815.9 613.9 L816.6 613.9 L817.3 613.8 L818.0 613.8 L818.7 613.7 L819.3 613.7 L820.0 613.9 L820.7 614.0 L821.4 614.0 L822.1 613.9 L822.8 613.9 L823.4 614.0 L824.1 613.9 L824.8 614.0 L825.5 613.9 L826.2 613.9 L826.9 613.8 L827.5 613.9 L828.2 613.9 L828.9 613.7 L829.6 613.8 L830.3 613.9 L831.0 614.0 L831.6 614.1 L832.3 614.1 L833.0 614.1 L833.7 614.2 L834.4 614.0 L835.0 614.1 L835.7 614.1 L836.4 614.0 L837.1 614.1 L837.8 614.0 L838.5 614.0 L839.1 613.8 L839.8 613.9 L840.5 614.0 L841.2 614.1 L841.9 613.9 L842.6 614.1 L843.2 613.9 L843.9 613.9 L844.6 614.0 L845.3 614.1 L846.0 613.9 L846.7 614.0 L847.3 613.8 L848.0 613.9 L848.7 613.9 L849.4 613.9 L850.1 613.8 L850.8 613.6 L851.4 613.5 L852.1 613.7 L852.8 613.8 L853.5 613.8 L854.2 613.8 L854.9 613.7 L855.5 613.6 L856.2 613.5 L856.9 613.6 L857.6 613.7 L858.3 613.6 L858.9 613.4 L859.6 613.5 L860.3 613.4 L861.0 613.2 L861.7 613.3 L862.4 613.0 L863.0 613.0 L863.7 612.9 L864.4 612.7 L865.1 612.6 L865.8 612.5 L866.5 612.3 L867.1 612.1 L867.8 612.0 L868.5 611.8 L869.2 611.7 L869.9 611.4 L870.6 611.1 L871.2 610.6 L871.9 610.0 L872.6 609.5 L873.3 609.0 L874.0 608.3 L874.7 607.1 L875.3 606.1 L876.0 604.9 L876.7 603.0 L877.4 600.9 L878.1 598.4 L878.7 595.5 L879.4 591.6 L880.1 586.8 L880.8 581.0 L881.5 574.2 L882.2 565.9 L882.8 556.9 L883.5 547.1 L884.2 538.2 L884.9 531.5 L885.6 528.3 L886.3 529.6 L886.9 535.0 L887.6 543.2 L888.3 552.7 L889.0 562.3 L889.7 570.9 L890.4 578.5 L891.0 584.7 L891.7 590.0 L892.4 594.1 L893.1 597.3 L893.8 600.0 L894.5 602.3 L895.1 604.2 L895.8 605.6 L896.5 606.8 L897.2 607.8 L897.9 608.7 L898.6 609.5 L899.2 609.9 L899.9 610.4 L900.6 610.9 L901.3 611.1 L902.0 611.4 L902.6 611.7 L903.3 611.8 L904.0 612.1 L904.7 612.5 L905.4 612.7 L906.1 612.8 L906.7 612.9 L907.4 613.1 L908.1 613.0 L908.8 613.0 L909.5 613.2 L910.2 613.4 L910.8 613.3 L911.5 613.4 L912.2 613.3 L912.9 613.4 L913.6 613.3 L914.3 613.3 L914.9 613.4 L915.6 613.6 L916.3 613.7 L917.0 613.5 L917.7 613.5 L918.4 613.5 L919.0 613.6 L919.7 613.6 L920.4 613.7 L921.1 613.6 L921.8 613.5 L922.4 613.6 L923.1 613.7 L923.8 613.9 L924.5 614.0 L925.2 614.1 L925.9 613.9 L926.5 613.8 L927.2 614.0 L927.9 614.1 L928.6 614.2 L929.3 614.1 L930.0 613.9 L930.6 613.9 L931.3 613.9 L932.0 613.9 L932.7 613.9 L933.4 613.9 L934.1 614.0 L934.7 614.2 L935.4 614.1 L936.1 614.1 L936.8 614.0 L937.5 614.0 L938.2 613.9 L938.8 614.1 L939.5 614.0 L940.2 614.1 L940.9 614.0 L941.6 614.0 L942.2 613.9 L942.9 614.0 L943.6 614.0 L944.3 614.0 L945.0 614.1 L945.7 614.0 L946.3 614.0 L947.0 613.9 L947.7 614.1 L948.4 614.1 L949.1 614.2 L949.8 614.2 L950.4 614.0 L951.1 613.9 L951.8 614.1 L952.5 614.0 L953.2 614.0 L953.9 614.0 L954.5 614.0 L955.2 614.2 L955.9 614.0 L956.6 613.9 L957.3 614.0 L958.0 613.9 L958.6 614.1 L959.3 614.2 L960.0 614.0 L960.7 613.9 L961.4 613.9 L962.1 613.9 L962.7 614.0 L963.4 614.1 L964.1 614.2 L964.8 614.1 L965.5 614.1 L966.1 614.1 L966.8 614.2 L967.5 614.1 L968.2 613.9 L968.9 614.0 L969.6 613.9 L970.2 614.0 L970.9 614.1 L971.6 614.2 L972.3 614.1 L973.0 614.1 L973.7 613.9 L974.3 614.1 L975.0 614.0 L975.7 613.9 L976.4 614.0 L977.1 614.0 L977.8 614.0 L978.4 614.0 L979.1 613.9 L979.8 613.8 L980.5 613.8 L981.2 614.0 L981.9 614.2 L982.5 614.2 L983.2 614.3 L983.9 614.2 L984.6 614.2 L985.3 614.0 L986.0 614.1 L986.6 614.0 L987.3 614.2 L988.0 614.1 L988.7 613.9 L989.4 613.9 L990.0 614.1 L990.7 614.1 L991.4 614.2 L992.1 614.2 L992.8 614.3 L993.5 614.2 L994.1 614.3 L994.8 614.1 L995.5 614.2 L996.2 614.1 L996.9 614.0 L997.6 614.1 L998.2 614.0 L998.9 614.0 L999.6 614.1 L1000.3 614.2 L1001.0 614.3 L1001.7 614.1 L1002.3 614.2 L1003.0 614.3 L1003.7 614.1 L1004.4 614.0 L1005.1 614.0 L1005.8 614.0 L1006.4 613.9 L1007.1 613.8 L1007.8 614.1 L1008.5 614.2 L1009.2 614.2 L1009.8 614.1 L1010.5 614.2 L1011.2 614.1 L1011.9 614.1 L1012.6 614.0 L1013.3 614.1 L1013.9 614.1 L1014.6 614.1 L1015.3 614.1 L1016.0 614.2 L1016.7 614.2 L1017.4 614.0 L1018.0 614.0 L1018.7 614.0 L1019.4 614.0 L1020.1 613.9 L1020.8 614.0 L1021.5 614.1 L1022.1 614.0 L1022.8 614.1 L1023.5 614.1 L1024.2 614.0 L1024.9 614.0 L1025.6 614.2 L1026.2 614.2 L1026.9 614.2 L1027.6 614.1 L1028.3 614.0 L1029.0 614.0 L1029.7 613.9 L1030.3 614.0 L1031.0 614.1 L1031.7 614.0 L1032.4 614.0 L1033.1 613.9 L1033.7 613.9 L1034.4 613.9 L1035.1 613.8 L1035.8 614.0 L1036.5 614.0 L1037.2 614.1 L1037.8 614.1 L1038.5 614.1 L1039.2 614.2 L1039.9 614.0 L1040.6 614.0 L1041.3 614.0 L1041.9 614.1 L1042.6 614.1 L1043.3 614.2 L1044.0 614.1 L1044.7 614.0 L1045.4 614.2 L1046.0 614.3 L1046.7 614.2 L1047.4 614.3 L1048.1 614.3 L1048.8 614.2 L1049.5 614.3 L1050.1 614.3 L1050.8 614.3 L1051.5 614.3 L1052.2 614.3 L1052.9 614.3 L1053.5 614.3 L1054.2 614.1 L1054.9 614.1 L1055.6 614.2 L1056.3 614.2 L1057.0 614.3 L1057.6 614.3 L1058.3 614.2 L1059.0 614.2 L1059.7 614.0 L1060.4 614.2 L1061.1 614.0 L1061.7 614.0 L1062.4 614.1 L1063.1 614.1 L1063.8 614.1 L1064.5 614.2 L1065.2 614.1 L1065.8 614.2 L1066.5 614.3 L1067.2 614.1 L1067.9 614.1 L1068.6 614.2 L1069.3 614.0 L1069.9 614.1 L1070.6 614.1 L1071.3 614.2 L1072.0 614.2 L1072.7 614.3 L1073.3 614.4 L1074.0 614.3 L1074.7 614.2 L1075.4 614.1 L1076.1 614.2 L1076.8 614.3 L1077.4 614.2 L1078.1 614.3 L1078.8 614.3 L1079.5 614.3 L1080.2 614.4 L1080.9 614.3 L1081.5 614.1 L1082.2 614.2 L1082.9 614.3 L1083.6 614.3 L1084.3 614.1 L1085.0 614.1 L1085.6 614.2 L1086.3 614.2 L1087.0 614.2 L1087.7 614.3 L1088.4 614.3 L1089.1 614.1 L1089.7 614.2 L1090.4 614.2 L1091.1 614.2 L1091.8 614.0 L1092.5 614.1 L1093.2 614.1 L1093.8 614.2 L1094.5 614.2 L1095.2 614.1 L1095.9 614.1 L1096.6 614.1 L1097.2 614.2 L1097.9 614.2 L1098.6 614.2 L1099.3 614.3 L1100.0 614.4 L1100.7 614.5 L1101.3 614.2 L1102.0 614.1 L1102.7 614.0 L1103.4 614.0 L1104.1 614.0 L1104.8 614.1 L1105.4 614.2 L1106.1 614.3 L1106.8 614.2 L1107.5 614.1 L1108.2 614.3 L1108.9 614.4 L1109.5 614.4 L1110.2 614.4 L1110.9 614.3 L1111.6 614.2 L1112.3 614.3 L1113.0 614.2 L1113.6 614.0 L1114.3 614.1 L1115.0 614.0 L1115.7 614.0 L1116.4 614.2 L1117.0 614.2 L1117.7 614.1 L1118.4 614.0 L1119.1 614.2 L1119.8 614.2 L1120.5 614.0 L1121.1 614.0 L1121.8 614.2 L1122.5 614.2 L1123.2 614.2 L1123.9 614.4 L1124.6 614.3 L1125.2 614.3 L1125.9 614.3 L1126.6 614.3 L1127.3 614.4 L1128.0 614.3 L1128.7 614.3 L1129.3 614.3 L1130.0 614.1 L1130.7 614.1 L1131.4 614.1 L1132.1 614.2 L1132.8 614.2 L1133.4 614.2 L1134.1 614.1 L1134.8 614.3 L1135.5 614.2 L1136.2 614.2 L1136.9 614.3 L1137.5 614.3 L1138.2 614.4 L1138.9 614.4 L1139.6 614.4 L1140.3 614.3 L1140.9 614.2 L1141.6 614.2 L1142.3 614.1 L1143.0 614.2 L1143.7 614.2 L1144.4 614.1 L1145.0 614.1 L1145.7 614.1 L1146.4 614.1 L1147.1 614.0 L1147.8 614.2 L1148.5 614.3 L1149.1 614.3 L1149.8 614.3 L1150.5 614.3 L1151.2 614.4 L1151.9 614.5 L1152.6 614.4 L1153.2 614.3 L1153.9 614.1 L1154.6 614.1 L1155.3 614.0 L1156.0 614.1 L1156.7 614.2 L1157.3 614.2 L1158.0 614.4 L1158.7 614.4 L1159.4 614.3 L1160.1 614.3 L1160.8 614.3 L1161.4 614.2 L1162.1 614.2 L1162.8 614.2 L1163.5 614.3 L1164.2 614.4 L1164.8 614.4 L1165.5 614.4 L1166.2 614.4 L1166.9 614.4 L1167.6 614.3 L1168.3 614.2 L1168.9 614.2 L1169.6 614.1 L1170.3 614.2 L1171.0 614.2 L1171.7 614.1 L1172.4 614.3 L1173.0 614.3 L1173.7 614.4 L1174.4 614.5 L1175.1 614.4 L1175.8 614.4 L1176.5 614.3 L1177.1 614.5 L1177.8 614.5 L1178.5 614.5 L1179.2 614.4 L1179.9 614.5 L1180.6 614.5 L1181.2 614.5 L1181.9 614.4 L1182.6 614.4 L1183.3 614.4 L1184.0 614.3 L1184.6 614.2 L1185.3 614.2 L1186.0 614.1 L1186.7 614.1 L1187.4 614.0 L1188.1 614.0 L1188.7 614.1 L1189.4 614.0 L1190.1 614.0 L1190.8 614.2 L1191.5 614.4 L1192.2 614.4 L1192.8 614.4 L1193.5 614.4 L1194.2 614.5 L1194.9 614.4 L1195.6 614.5 L1196.3 614.3 L1196.9 614.3 L1197.6 614.3 L1198.3 614.3 L1199.0 614.2 L1199.7 614.1 L1200.4 614.1 L1201.0 614.1 L1201.7 614.3 L1202.4 614.2 L1203.1 614.1 L1203.8 614.1 L1204.5 614.0 L1205.1 614.2 L1205.8 614.3 L1206.5 614.3 L1207.2 614.3 L1207.9 614.3 L1208.5 614.2 L1209.2 614.2 L1209.9 614.3 L1210.6 614.3 L1211.3 614.2 L1212.0 614.3 L1212.6 614.4 L1213.3 614.3 L1214.0 614.4 L1214.7 614.4 L1215.4 614.2 L1216.1 614.3 L1216.7 614.3 L1217.4 614.2 L1218.1 614.1 L1218.8 614.2 L1219.5 614.3 L1220.2 614.4 L1220.8 614.5 L1221.5 614.4 L1222.2 614.3 L1222.9 614.2 L1223.6 614.4 L1224.3 614.2 L1224.9 614.2 L1225.6 614.2 L1226.3 614.3 L1227.0 614.2 L1227.7 614.1 L1228.3 614.1 L1229.0 614.0 L1229.7 613.9 L1230.4 613.9 L1231.1 613.9 L1231.8 614.0 L1232.4 614.0 L1233.1 613.9 L1233.8 613.9 L1234.5 613.9 L1235.2 613.9 L1235.9 614.0 L1236.5 614.1 L1237.2 614.1 L1237.9 614.3 L1238.6 614.4 L1239.3 614.5 L1240.0 614.3 L1240.6 614.2 L1241.3 614.3 L1242.0 614.1 L1242.7 614.1 L1243.4 614.1 L1244.1 614.3 L1244.7 614.3 L1245.4 614.2 L1246.1 614.2 L1246.8 614.1 L1247.5 614.2 L1248.2 614.3 L1248.8 614.4 L1249.5 614.5 L1250.2 614.3 L1250.9 614.2 L1251.6 614.2 L1252.2 614.3 L1252.9 614.2 L1253.6 614.3 L1254.3 614.4 L1255.0 614.5 L1255.7 614.3 L1256.3 614.3 L1257.0 614.3 L1257.7 614.3 L1258.4 614.2 L1259.1 614.2 L1259.8 614.2 L1260.4 614.3 L1261.1 614.4 L1261.8 614.3 L1262.5 614.4 L1263.2 614.3 L1263.9 614.4 L1264.5 614.4 L1265.2 614.5 L1265.9 614.5 L1266.6 614.3 L1267.3 614.2 L1268.0 614.3 L1268.6 614.3 L1269.3 614.4 L1270.0 614.5 L1270.7 614.3 L1271.4 614.3 L1272.0 614.3 L1272.7 614.3 L1273.4 614.2 L1274.1 614.1 L1274.8 614.0 L1275.5 614.1 L1276.1 614.0 L1276.8 614.2 L1277.5 614.4 L1278.2 614.5 L1278.9 614.5 L1279.6 614.4 L1280.2 614.4 L1280.9 614.5 L1281.6 614.4 L1282.3 614.2 L1283.0 614.3 L1283.7 614.3 L1284.3 614.3 L1285.0 614.2 L1285.7 614.3 L1286.4 614.5 L1287.1 614.5 L1287.8 614.4 L1288.4 614.4 L1289.1 614.4 L1289.8 614.4 L1290.5 614.3 L1291.2 614.2 L1291.8 614.2 L1292.5 614.4 L1293.2 614.2 L1293.9 614.4 L1294.6 614.4 L1295.3 614.5 L1295.9 614.4 L1296.6 614.5 L1297.3 614.5 L1298.0 614.4 L1298.7 614.3 L1299.4 614.3 L1300.0 614.1 L1300.7 614.3 L1301.4 614.4 L1302.1 614.4 L1302.8 614.4 L1303.5 614.2 L1304.1 614.3 L1304.8 614.3 L1305.5 614.3 L1306.2 614.3 L1306.9 614.1 L1307.6 614.2 L1308.2 614.3 L1308.9 614.3 L1309.6 614.4 L1310.3 614.3 L1311.0 614.3 L1311.7 614.4 L1312.3 614.2 L1313.0 614.1 L1313.7 614.0 L1314.4 614.2 L1315.1 614.2 L1315.7 614.2 L1316.4 614.4 L1317.1 614.3 L1317.8 614.2 L1318.5 614.1 L1319.2 614.2 L1319.8 614.2 L1320.5 614.1 L1321.2 614.3 L1321.9 614.4 L1322.6 614.4 L1323.3 614.2 L1323.9 614.3 L1324.6 614.4 L1325.3 614.3 L1326.0 614.4 L1326.7 614.2 L1327.4 614.3 L1328.0 614.1 L1328.7 614.3 L1329.4 614.2 L1330.1 614.1 L1330.8 614.0 L1331.5 614.2 L1332.1 614.4 L1332.8 614.5 L1333.5 614.4 L1334.2 614.3 L1334.9 614.2 L1335.5 614.0 L1336.2 614.2 L1336.9 614.3 L1337.6 614.1 L1338.3 614.3 L1339.0 614.4 L1339.6 614.3 L1340.3 614.3 L1341.0 614.4 L1341.7 614.3 L1342.4 614.1 L1343.1 614.0 L1343.7 614.2 L1344.4 614.2 L1345.1 614.3 L1345.8 614.4 L1346.5 614.3 L1347.2 614.4 L1347.8 614.5 L1348.5 614.4 L1349.2 614.3 L1349.9 614.4 L1350.6 614.3 L1351.3 614.3 L1351.9 614.1 L1352.6 614.3 L1353.3 614.4 L1354.0 614.3 L1354.7 614.2 L1355.4 614.3 L1356.0 614.1 L1356.7 614.3 L1357.4 614.3 L1358.1 614.2 L1358.8 614.2 L1359.4 614.3 L1360.1 614.3 L1360.8 614.4 L1361.5 614.4 L1362.2 614.5 L1362.9 614.6 L1363.5 614.5 L1364.2 614.5 L1364.9 614.6 L1365.6 614.5 L1366.3 614.5 L1367.0 614.6 L1367.6 614.5 L1368.3 614.4 L1369.0 614.3 L1369.7 614.2 L1370.4 614.2 L1371.1 614.2 L1371.7 614.1 L1372.4 614.1 L1373.1 614.2 L1373.8 614.2 L1374.5 614.4 L1375.2 614.2 L1375.8 614.1 L1376.5 614.3 L1377.2 614.3 L1377.9 614.3 L1378.6 614.4 L1379.2 614.4 L1379.9 614.5 L1380.6 614.4 L1381.3 614.3 L1382.0 614.1 L1382.7 614.3 L1383.3 614.4 L1384.0 614.2 L1384.7 614.4 L1385.4 614.3 L1386.1 614.2 L1386.8 614.2 L1387.4 614.4 L1388.1 614.4 L1388.8 614.5 L1389.5 614.5 L1390.2 614.5 L1390.9 614.4 L1391.5 614.5 L1392.2 614.3 L1392.9 614.1 L1393.6 614.1 L1394.3 614.1 L1395.0 614.1 L1395.6 614.3 L1396.3 614.2 L1397.0 614.3 L1397.7 614.3 L1398.4 614.1 L1399.1 614.0 L1399.7 614.2 L1400.4 614.1 L1401.1 614.0 L1401.8 613.9 L1402.5 614.1 L1403.1 614.2 L1403.8 614.1 L1404.5 614.3 L1405.2 614.3 L1405.9 614.4 L1406.6 614.3 L1407.2 614.3 L1407.9 614.2 L1408.6 614.3 L1409.3 614.3 L1410.0 614.3 L1410.7 614.2 L1411.3 614.2 L1412.0 614.2 L1412.7 614.3 L1413.4 614.2 L1414.1 614.4 L1414.8 614.5 L1415.4 614.5 L1416.1 614.4 L1416.8 614.3 L1417.5 614.2 L1418.2 614.3 L1418.9 614.3 L1419.5 614.2 L1420.2 614.2 L1420.9 614.2 L1421.6 614.3 L1422.3 614.4 L1422.9 614.4 L1423.6 614.4 L1424.3 614.5 L1425.0 614.6 L1425.7 614.6 L1426.4 614.5 L1427.0 614.4 L1427.7 614.5 L1428.4 614.5 L1429.1 614.3 L1429.8 614.3 L1430.5 614.2 L1431.1 614.1 L1431.8 614.1 L1432.5 614.1 L1433.2 614.0 L1433.9 614.2 L1434.6 614.3 L1435.2 614.3 L1435.9 614.2 L1436.6 614.2 L1437.3 614.3 L1438.0 614.3 L1438.7 614.3 L1439.3 614.4 L1440.0 614.3 L1440.7 614.3 L1441.4 614.2 L1442.1 614.2 L1442.8 614.3 L1443.4 614.5 L1444.1 614.4 L1444.8 614.3 L1445.5 614.4 L1446.2 614.4 L1446.8 614.4 L1447.5 614.5 L1448.2 614.4 L1448.9 614.2 L1449.6 614.2 L1450.3 614.2 L1450.9 614.3 L1451.6 614.2 L1452.3 614.2 L1453.0 614.2 L1453.7 614.3 L1454.4 614.4 L1455.0 614.4 L1455.7 614.3 L1456.4 614.4 L1457.1 614.2 L1457.8 614.2 L1458.5 614.2 L1459.1 614.1 L1459.8 614.3 L1460.5 614.4 L1461.2 614.4 L1461.9 614.4 L1462.6 614.3 L1463.2 614.2 L1463.9 614.1 L1464.6 614.0 L1465.3 614.0 L1466.0 614.3 L1466.6 614.1 L1467.3 614.1 L1468.0 614.1 L1468.7 614.1 L1469.4 614.0 L1470.1 614.0 L1470.7 614.1 L1471.4 614.1 L1472.1 614.1 L1472.8 614.2 L1473.5 614.4 L1474.2 614.5 L1474.8 614.6 L1475.5 614.4 L1476.2 614.3 L1476.9 614.3 L1477.6 614.3 L1478.3 614.1 L1478.9 614.1 L1479.6 614.1 L1480.3 614.1 L1481.0 614.0 L1481.7 613.9 L1482.4 613.9 L1483.0 613.9 L1483.7 614.0 L1484.4 614.2 L1485.1 614.3 L1485.8 614.3 L1486.5 614.2 L1487.1 614.2 L1487.8 614.2 L1488.5 614.3 L1489.2 614.3 L1489.9 614.1 L1490.5 614.1 L1491.2 614.0 L1491.9 614.1 L1492.6 614.2 L1493.3 614.1 L1494.0 614.2 L1494.6 614.3 L1495.3 614.3 L1496.0 614.4 L1496.7 614.5 L1497.4 614.4 L1498.1 614.4 L1498.7 614.2 L1499.4 614.2 L1500.1 614.3 L1500.8 614.5 L1501.5 614.3 L1502.2 614.3 L1502.8 614.3 L1503.5 614.2 L1504.2 614.1 L1504.9 614.2 L1505.6 614.1 L1506.3 614.2 L1506.9 614.1 L1507.6 614.3 L1508.3 614.3 L1509.0 614.2 L1509.7 614.2 L1510.3 614.1 L1511.0 614.0 L1511.7 614.0 L1512.4 614.1 L1513.1 614.2 L1513.8 614.0 L1514.4 614.2 L1515.1 614.0 L1515.8 614.0 L1516.5 614.1 L1517.2 614.0 L1517.9 614.0 L1518.5 614.0 L1519.2 614.0 L1519.9 614.2 L1520.6 614.2 L1521.3 614.3 L1522.0 614.3 L1522.6 614.4 L1523.3 614.2 L1524.0 614.1 L1524.7 614.0 L1525.4 614.0 L1526.1 613.9 L1526.7 613.9 L1527.4 614.1 L1528.1 614.0 L1528.8 613.9 L1529.5 613.9 L1530.2 614.0 L1530.8 614.0 L1531.5 614.2 L1532.2 614.2 L1532.9 614.3 L1533.6 614.3 L1534.2 614.4 L1534.9 614.3 L1535.6 614.3 L1536.3 614.3 L1537.0 614.3 L1537.7 614.1 L1538.3 614.0 L1539.0 613.9 L1539.7 613.9 L1540.4 613.8 L1541.1 613.9 L1541.8 613.8 L1542.4 613.8 L1543.1 613.7 L1543.8 613.9 L1544.5 614.0 L1545.2 614.1 L1545.9 614.1 L1546.5 613.9 L1547.2 613.7 L1547.9 613.7 L1548.6 613.7 L1549.3 613.6 L1550.0 613.5 L1550.6 613.5 L1551.3 613.4 L1552.0 613.5 L1552.7 613.6 L1553.4 613.5 L1554.0 613.4 L1554.7 613.4 L1555.4 613.2 L1556.1 613.3 L1556.8 613.2 L1557.5 613.2 L1558.1 613.2 L1558.8 613.0 L1559.5 613.0 L1560.2 612.9 L1560.9 612.8 L1561.6 612.8 L1562.2 612.5 L1562.9 612.2 L1563.6 612.0 L1564.3 612.0 L1565.0 611.8 L1565.7 611.7 L1566.3 611.6 L1567.0 611.5 L1567.7 611.3 L1568.4 611.1 L1569.1 610.8 L1569.8 610.5 L1570.4 610.4 L1571.1 610.2 L1571.8 610.0 L1572.5 609.7 L1573.2 609.6 L1573.9 609.4 L1574.5 609.0 L1575.2 608.9 L1575.9 608.8 L1576.6 608.5 L1577.3 608.4 L1577.9 608.1 L1578.6 607.9 L1579.3 608.0 L1580.0 608.0 L1580.7 608.0 L1581.4 607.9 L1582.0 607.9 L1582.7 608.0 L1583.4 608.0 L1584.1 608.2 L1584.8 608.1 L1585.5 608.2 L1586.1 608.4 L1586.8 608.6 L1587.5 608.8 L1588.2 609.1 L1588.9 609.2 L1589.6 609.4 L1590.2 609.5 L1590.9 609.9 L1591.6 610.2 L1592.3 610.3 L1593.0 610.3 L1593.7 610.4 L1594.3 610.6 L1595.0 611.0 L1595.7 611.2 L1596.4 611.4 L1597.1 611.6 L1597.7 611.7 L1598.4 611.9 L1599.1 612.2 L1599.8 612.2 L1600.5 612.3 L1601.2 612.4 L1601.8 612.5 L1602.5 612.7 L1603.2 612.9 L1603.9 613.1 L1604.6 613.0 L1605.3 613.2 L1605.9 613.1 L1606.6 613.3 L1607.3 613.2 L1608.0 613.4 L1608.7 613.5 L1609.4 613.6 L1610.0 613.5 L1610.7 613.6 L1611.4 613.6 L1612.1 613.5 L1612.8 613.6 L1613.5 613.8 L1614.1 613.7 L1614.8 613.7 L1615.5 613.9 L1616.2 613.8 L1616.9 614.0 L1617.6 613.9 L1618.2 613.8 L1618.9 614.0 L1619.6 614.0 L1620.3 614.2 L1621.0 614.1 L1621.6 614.0 L1622.3 613.9 L1623.0 614.1 L1623.7 614.0 L1624.4 613.9 L1625.1 613.9 L1625.7 613.8 L1626.4 613.8 L1627.1 614.0 L1627.8 614.2 L1628.5 614.3 L1629.2 614.2 L1629.8 614.2 L1630.5 614.3 L1631.2 614.1 L1631.9 614.1 L1632.6 614.1 L1633.3 614.0 L1633.9 614.0 L1634.6 614.1 L1635.3 614.0 L1636.0 613.9 L1636.7 613.9 L1637.4 614.1 L1638.0 614.2 L1638.7 614.2 L1639.4 614.3 L1640.1 614.4 L1640.8 614.5 L1641.4 614.5 L1642.1 614.3 L1642.8 614.3 L1643.5 614.3 L1644.2 614.4 L1644.9 614.2 L1645.5 614.1 L1646.2 614.1 L1646.9 614.3 L1647.6 614.3 L1648.3 614.4 L1649.0 614.5 L1649.6 614.4 L1650.3 614.5 L1651.0 614.6 L1651.7 614.4 L1652.4 614.4 L1653.1 614.2 L1653.7 614.4 L1654.4 614.3 L1655.1 614.4 L1655.8 614.4 L1656.5 614.3 L1657.2 614.2 L1657.8 614.3 L1658.5 614.3 L1659.2 614.2 L1659.9 614.2 L1660.6 614.4 L1661.3 614.5 L1661.9 614.3 L1662.6 614.2 L1663.3 614.1 L1664.0 614.1 L1664.7 614.0 L1665.3 614.1 L1666.0 614.2 L1666.7 614.3 L1667.4 614.5 L1668.1 614.3 L1668.8 614.2 L1669.4 614.4 L1670.1 614.4 L1670.8 614.6 L1671.5 614.6 L1672.2 614.7 L1672.9 614.5 L1673.5 614.6 L1674.2 614.5 L1674.9 614.5 L1675.6 614.3 L1676.3 614.2 L1677.0 614.1 L1677.6 614.3 L1678.3 614.3 L1679.0 614.3 L1679.7 614.2 L1680.4 614.1 L1681.1 614.3 L1681.7 614.4 L1682.4 614.5 L1683.1 614.3 L1683.8 614.3 L1684.5 614.2 L1685.1 614.1 L1685.8 614.3 L1686.5 614.4 L1687.2 614.5 L1687.9 614.4 L1688.6 614.2 L1689.2 614.4 L1689.9 614.4 L1690.6 614.5 L1691.3 614.3 L1692.0 614.3 L1692.7 614.3 L1693.3 614.5 L1694.0 614.4 L1694.7 614.3 L1695.4 614.1 L1696.1 614.1 L1696.8 614.2 L1697.4 614.2 L1698.1 614.2 L1698.8 614.2 L1699.5 614.2 L1700.2 614.3 L1700.9 614.3 L1701.5 614.3 L1702.2 614.2 L1702.9 614.2 L1703.6 614.4 L1704.3 614.3 L1705.0 614.5 L1705.6 614.4 L1706.3 614.3 L1707.0 614.2 L1707.7 614.2 L1708.4 614.2 L1709.0 614.2 L1709.7 614.2 L1710.4 614.4 L1711.1 614.4 L1711.8 614.3 L1712.5 614.2 L1713.1 614.2 L1713.8 614.1 L1714.5 614.2 L1715.2 614.1 L1715.9 614.1 L1716.6 614.3 L1717.2 614.3 L1717.9 614.4 L1718.6 614.3 L1719.3 614.3 L1720.0 614.4 L1720.7 614.5 L1721.3 614.6 L1722.0 614.6 L1722.7 614.5 L1723.4 614.3 L1724.1 614.3 L1724.8 614.4 L1725.4 614.4 L1726.1 614.5 L1726.8 614.3 L1727.5 614.4 L1728.2 614.4 L1728.8 614.6 L1729.5 614.5 L1730.2 614.5 L1730.9 614.5 L1731.6 614.5 L1732.3 614.4 L1732.9 614.5 L1733.6 614.3 L1734.3 614.3 L1735.0 614.5 L1735.7 614.4 L1736.4 614.3 L1737.0 614.2 L1737.7 614.3 L1738.4 614.3 L1739.1 614.4 L1739.8 614.5 L1740.5 614.3 L1741.1 614.4 L1741.8 614.2 L1742.5 614.1 L1743.2 614.3 L1743.9 614.4 L1744.6 614.4 L1745.2 614.6 L1745.9 614.6 L1746.6 614.5 L1747.3 614.6 L1748.0 614.6 L1748.7 614.5 L1749.3 614.5 L1750.0 614.3 L1750.7 614.2 L1751.4 614.4 L1752.1 614.3 L1752.7 614.3 L1753.4 614.2 L1754.1 614.4 L1754.8 614.5 L1755.5 614.5 L1756.2 614.4 L1756.8 614.3 L1757.5 614.2 L1758.2 614.3 L1758.9 614.4 L1759.6 614.4 L1760.3 614.5 L1760.9 614.6 L1761.6 614.5 L1762.3 614.3 L1763.0 614.3 L1763.7 614.4 L1764.4 614.3 L1765.0 614.2 L1765.7 614.2 L1766.4 614.4 L1767.1 614.4 L1767.8 614.6 L1768.5 614.6 L1769.1 614.4 L1769.8 614.3 L1770.5 614.4 L1771.2 614.3 L1771.9 614.4 L1772.5 614.5 L1773.2 614.5 L1773.9 614.6 L1774.6 614.6 L1775.3 614.4 L1776.0 614.5 L1776.6 614.6 L1777.3 614.6 L1778.0 614.4 L1778.7 614.3 L1779.4 614.2 L1780.1 614.4 L1780.7 614.5 L1781.4 614.6 L1782.1 614.6 L1782.8 614.6 L1783.5 614.6 L1784.2 614.5 L1784.8 614.4 L1785.5 614.5 L1786.2 614.5 L1786.9 614.6 L1787.6 614.5 L1788.3 614.4 L1788.9 614.4 L1789.6 614.3 L1790.3 614.5 L1791.0 614.6 L1791.7 614.4 L1792.4 614.4 L1793.0 614.4 L1793.7 614.5 L1794.4 614.3 L1795.1 614.4 L1795.8 614.3 L1796.4 614.2 L1797.1 614.5 L1797.8 614.4 L1798.5 614.3 L1799.2 614.4 L1799.9 614.5 L1800.5 614.5 L1801.2 614.5 L1801.9 614.5 L1802.6 614.5 L1803.3 614.5 L1804.0 614.3 L1804.6 614.3 L1805.3 614.3 L1806.0 614.4 L1806.7 614.5 L1807.4 614.5 L1808.1 614.5 L1808.7 614.4 L1809.4 614.5 L1810.1 614.6 L1810.8 614.6 L1811.5 614.5 L1812.2 614.3 L1812.8 614.2 L1813.5 614.2 L1814.2 614.2 L1814.9 614.3 L1815.6 614.3 L1816.2 614.4 L1816.9 614.4 L1817.6 614.5 L1818.3 614.5 L1819.0 614.4 L1819.7 614.5 L1820.3 614.4 L1821.0 614.5 L1821.7 614.6 L1822.4 614.5 L1823.1 614.6 L1823.8 614.6 L1824.4 614.6 L1825.1 614.7 L1825.8 614.8 L1826.5 614.7 L1827.2 614.5 L1827.9 614.4 L1828.5 614.3 L1829.2 614.5 L1829.9 614.5 L1830.6 614.4 L1831.3 614.6 L1832.0 614.7 L1832.6 614.5 L1833.3 614.6 L1834.0 614.7 L1834.7 614.4 L1835.4 614.6 L1836.1 614.5 L1836.7 614.6 L1837.4 614.6 L1838.1 614.7 L1838.8 614.5 L1839.5 614.4 L1840.1 614.4 L1840.8 614.4 L1841.5 614.5 L1842.2 614.5 L1842.9 614.4 L1843.6 614.4 L1844.2 614.5 L1844.9 614.6 L1845.6 614.7 L1846.3 614.5 L1847.0 614.6 L1847.7 614.4 L1848.3 614.5 L1849.0 614.6 L1849.7 614.4 L1850.4 614.5 L1851.1 614.4 L1851.8 614.3 L1852.4 614.3 L1853.1 614.4 L1853.8 614.3 L1854.5 614.3 L1855.2 614.4 L1855.9 614.3 L1856.5 614.3 L1857.2 614.4 L1857.9 614.5 L1858.6 614.6 L1859.3 614.5 L1860.0 614.5 L1860.6 614.4 L1861.3 614.3 L1862.0 614.4 L1862.7 614.5 L1863.4 614.4 L1864.0 614.4 L1864.7 614.4 L1865.4 614.6 L1866.1 614.5 L1866.8 614.3 L1867.5 614.3 L1868.1 614.3 L1868.8 614.2 L1869.5 614.2 L1870.2 614.2 L1870.9 614.2 L1871.6 614.2 L1872.2 614.2 L1872.9 614.2 L1873.6 614.3 L1874.3 614.3 L1875.0 614.2 L1875.7 614.3 L1876.3 614.5 L1877.0 614.5 L1877.7 614.5 L1878.4 614.7 L1879.1 614.5 L1879.8 614.3 L1880.4 614.4 L1881.1 614.5 L1881.8 614.5 L1882.5 614.3 L1883.2 614.3 L1883.8 614.5 L1884.5 614.3 L1885.2 614.2 L1885.9 614.3 L1886.6 614.3 L1887.3 614.4 L1887.9 614.5 L1888.6 614.6 L1889.3 614.5 L1890.0 614.5 L1890.7 614.6 L1891.4 614.6 L1892.0 614.7 L1892.7 614.8 L1893.4 614.5 L1894.1 614.6 L1894.8 614.5 L1895.5 614.5 L1896.1 614.5 L1896.8 614.4 L1897.5 614.4 L1898.2 614.5 L1898.9 614.6 L1899.6 614.6 L1900.2 614.6 L1900.9 614.7 L1901.6 614.7 L1902.3 614.8 L1903.0 614.8 L1903.7 614.8 L1904.3 614.9 L1905.0 614.9 L1905.7 614.8 L1906.4 614.8 L1907.1 614.6 L1907.7 614.5 L1908.4 614.6 L1909.1 614.5 L1909.8 614.7 L1910.5 614.5 L1911.2 614.4 L1911.8 614.6 L1912.5 614.6 L1913.2 614.5 L1913.9 614.6 L1914.6 614.7 L1915.3 614.8 L1915.9 614.6 L1916.6 614.6 L1917.3 614.5 L1918.0 614.6 L1918.7 614.7 L1919.4 614.6 L1920.0 614.7 L1920.7 614.6 L1921.4 614.5 L1922.1 614.4 L1922.8 614.5 L1923.5 614.4 L1924.1 614.4 L1924.8 614.3 L1925.5 614.3 L1926.2 614.5 L1926.9 614.6 L1927.5 614.5 L1928.2 614.5 L1928.9 614.6 L1929.6 614.7 L1930.3 614.6 L1931.0 614.4 L1931.6 614.5 L1932.3 614.6 L1933.0 614.5 L1933.7 614.4 L1934.4 614.3 L1935.1 614.4 L1935.7 614.4 L1936.4 614.3 L1937.1 614.4 L1937.8 614.4 L1938.5 614.5 L1939.2 614.4 L1939.8 614.5 L1940.5 614.4 L1941.2 614.4 L1941.9 614.6 L1942.6 614.5 L1943.3 614.5 L1943.9 614.6 L1944.6 614.5 L1945.3 614.6 L1946.0 614.5 L1946.7 614.6 L1947.4 614.6 L1948.0 614.5 L1948.7 614.4 L1949.4 614.5 L1950.1 614.6 L1950.8 614.5 L1951.4 614.4 L1952.1 614.4 L1952.8 614.5 L1953.5 614.5 L1954.2 614.5 L1954.9 614.5 L1955.5 614.5 L1956.2 614.5 L1956.9 614.4 L1957.6 614.3 L1958.3 614.3 L1959.0 614.5 L1959.6 614.4 L1960.3 614.3 L1961.0 614.5 L1961.7 614.6 L1962.4 614.5 L1963.1 614.6 L1963.7 614.6 L1964.4 614.5 L1965.1 614.3 L1965.8 614.5 L1966.5 614.6 L1967.2 614.7 L1967.8 614.8 L1968.5 614.9 L1969.2 614.8 L1969.9 614.7 L1970.6 614.5 L1971.2 614.5 L1971.9 614.7 L1972.6 614.6 L1973.3 614.6 L1974.0 614.4 L1974.7 614.4 L1975.3 614.5 L1976.0 614.5 L1976.7 614.4 L1977.4 614.5 L1978.1 614.6 L1978.8 614.4 L1979.4 614.3 L1980.1 614.3 L1980.8 614.3 L1981.5 614.4 L1982.2 614.4 L1982.9 614.6 L1983.5 614.5 L1984.2 614.3 L1984.9 614.5 L1985.6 614.3 L1986.3 614.5 L1987.0 614.5 L1987.6 614.6 L1988.3 614.4 L1989.0 614.3 L1989.7 614.3 L1990.4 614.5 L1991.1 614.5 L1991.7 614.5 L1992.4 614.6 L1993.1 614.7 L1993.8 614.8 L1994.5 614.7 L1995.1 614.5 L1995.8 614.7 L1996.5 614.7 L1997.2 614.5 L1997.9 614.4 L1998.6 614.5 L1999.2 614.5 L1999.9 614.5 L2000.6 614.7 L2001.3 614.5 L2002.0 614.6 L2002.7 614.7 L2003.3 614.8 L2004.0 614.7 L2004.7 614.8 L2005.4 614.7 L2006.1 614.6 L2006.8 614.4 L2007.4 614.3 L2008.1 614.5 L2008.8 614.4 L2009.5 614.5 L2010.2 614.6 L2010.9 614.6 L2011.5 614.7 L2012.2 614.7 L2012.9 614.7 L2013.6 614.6 L2014.3 614.6 L2014.9 614.7 L2015.6 614.5 L2016.3 614.5 L2017.0 614.6 L2017.7 614.4 L2018.4 614.6 L2019.0 614.5 L2019.7 614.6 L2020.4 614.5 L2021.1 614.6 L2021.8 614.6 L2022.5 614.5 L2023.1 614.4 L2023.8 614.3 L2024.5 614.4 L2025.2 614.5 L2025.9 614.6 L2026.6 614.4 L2027.2 614.5 L2027.9 614.4 L2028.6 614.3 L2029.3 614.4 L2030.0 614.4 L2030.7 614.6 L2031.3 614.4 L2032.0 614.5 L2032.7 614.5 L2033.4 614.4 L2034.1 614.5 L2034.8 614.4 L2035.4 614.5 L2036.1 614.4 L2036.8 614.4 L2037.5 614.6 L2038.2 614.7 L2038.8 614.6 L2039.5 614.5 L2040.2 614.4 L2040.9 614.3 L2041.6 614.3 L2042.3 614.4 L2042.9 614.3 L2043.6 614.4 L2044.3 614.5 L2045.0 614.4 L2045.7 614.4 L2046.4 614.3 L2047.0 614.4 L2047.7 614.4 L2048.4 614.5 L2049.1 614.4 L2049.8 614.4 L2050.5 614.5 L2051.1 614.6 L2051.8 614.7 L2052.5 614.5 L2053.2 614.5 L2053.9 614.6 L2054.6 614.5 L2055.2 614.4 L2055.9 614.4 L2056.6 614.4 L2057.3 614.5 L2058.0 614.4 L2058.6 614.4 L2059.3 614.4 L2060.0 614.3 L2060.7 614.5 L2061.4 614.5 L2062.1 614.5 L2062.7 614.6 L2063.4 614.5 L2064.1 614.5 L2064.8 614.5 L2065.5 614.5 L2066.2 614.6 L2066.8 614.6 L2067.5 614.4 L2068.2 614.4 L2068.9 614.4 L2069.6 614.4 L2070.3 614.4 L2070.9 614.4 L2071.6 614.4 L2072.3 614.4 L2073.0 614.5 L2073.7 614.5 L2074.4 614.5 L2075.0 614.4 L2075.7 614.5 L2076.4 614.5 L2077.1 614.4 L2077.8 614.4 L2078.5 614.6 L2079.1 614.6 L2079.8 614.4 L2080.5 614.5 L2081.2 614.5 L2081.9 614.4 L2082.5 614.5 L2083.2 614.5 L2083.9 614.4 L2084.6 614.6 L2085.3 614.6 L2086.0 614.6 L2086.6 614.5 L2087.3 614.5 L2088.0 614.5 L2088.7 614.3 L2089.4 614.5 L2090.1 614.4 L2090.7 614.3 L2091.4 614.2 L2092.1 614.3 L2092.8 614.3 L2093.5 614.3 L2094.2 614.3 L2094.8 614.3 L2095.5 614.4 L2096.2 614.3 L2096.9 614.3 L2097.6 614.2 L2098.3 614.4 L2098.9 614.5 L2099.6 614.4 L2100.3 614.3 L2101.0 614.2 L2101.7 614.2 L2102.3 614.1 L2103.0 614.1 L2103.7 614.1 L2104.4 614.2 L2105.1 614.2 L2105.8 614.4 L2106.4 614.4 L2107.1 614.3 L2107.8 614.4 L2108.5 614.5 L2109.2 614.5 L2109.9 614.3 L2110.5 614.5 L2111.2 614.6 L2111.9 614.4 L2112.6 614.3 L2113.3 614.1 L2114.0 614.3 L2114.6 614.4 L2115.3 614.2 L2116.0 614.2 L2116.7 614.3 L2117.4 614.4 L2118.1 614.3 L2118.7 614.2 L2119.4 614.4 L2120.1 614.3 L2120.8 614.2 L2121.5 614.1 L2122.2 614.2 L2122.8 614.2 L2123.5 614.4 L2124.2 614.5 L2124.9 614.5 L2125.6 614.3 L2126.2 614.2 L2126.9 614.0 L2127.6 614.2 L2128.3 614.2 L2129.0 614.2 L2129.7 614.1 L2130.3 614.0 L2131.0 614.0 L2131.7 614.2 L2132.4 614.1 L2133.1 614.2 L2133.8 614.2 L2134.4 614.1 L2135.1 614.0 L2135.8 613.9 L2136.5 614.0 L2137.2 614.0 L2137.9 614.0 L2138.5 614.0 L2139.2 613.9 L2139.9 613.9 L2140.6 613.9 L2141.3 613.9 L2142.0 613.8 L2142.6 613.9 L2143.3 613.7 L2144.0 613.5 L2144.7 613.6 L2145.4 613.5 L2146.0 613.5 L2146.7 613.5 L2147.4 613.5 L2148.1 613.4 L2148.8 613.2 L2149.5 613.0 L2150.1 613.0 L2150.8 612.8 L2151.5 612.8 L2152.2 612.6 L2152.9 612.4 L2153.6 612.3 L2154.2 612.3 L2154.9 611.9 L2155.6 611.8 L2156.3 611.5 L2157.0 611.2 L2157.7 610.9 L2158.3 610.7 L2159.0 610.3 L2159.7 609.8 L2160.4 609.5 L2161.1 609.1 L2161.8 608.7 L2162.4 608.3 L2163.1 607.8 L2163.8 607.2 L2164.5 606.6 L2165.2 606.1 L2165.9 605.6 L2166.5 604.9 L2167.2 604.5 L2167.9 603.8 L2168.6 603.3 L2169.3 603.0 L2169.9 602.6 L2170.6 602.1 L2171.3 601.7 L2172.0 601.6 L2172.7 601.5 L2173.4 601.7 L2174.0 601.7 L2174.7 601.9 L2175.4 602.1 L2176.1 602.6 L2176.8 602.9 L2177.5 603.3 L2178.1 603.8 L2178.8 604.4 L2179.5 604.8 L2180.2 605.4 L2180.9 606.1 L2181.6 606.7 L2182.2 607.3 L2182.9 607.8 L2183.6 608.1 L2184.3 608.6 L2185.0 608.9 L2185.7 609.4 L2186.3 609.8 L2187.0 610.2 L2187.7 610.6 L2188.4 610.9 L2189.1 611.1 L2189.7 611.5 L2190.4 611.8 L2191.1 611.9 L2191.8 612.2 L2192.5 612.3 L2193.2 612.4 L2193.8 612.5 L2194.5 612.6 L2195.2 612.9 L2195.9 613.0 L2196.6 613.1 L2197.3 613.1 L2197.9 613.4 L2198.6 613.5 L2199.3 613.5 L2200.0 613.5 L2200.7 613.5 L2201.4 613.6 L2202.0 613.7 L2202.7 613.9 L2203.4 613.8 L2204.1 613.8 L2204.8 613.8 L2205.5 614.0 L2206.1 614.0 L2206.8 613.9 L2207.5 614.1 L2208.2 614.0 L2208.9 614.0 L2209.6 614.0 L2210.2 613.9 L2210.9 613.9 L2211.6 614.0 L2212.3 614.2 L2213.0 614.3 L2213.6 614.2 L2214.3 614.1 L2215.0 614.1 L2215.7 614.3 L2216.4 614.1 L2217.1 614.1 L2217.7 614.3 L2218.4 614.3 L2219.1 614.1 L2219.8 614.2 L2220.5 614.1 L2221.2 614.0 L2221.8 614.2 L2222.5 614.2 L2223.2 614.3 L2223.9 614.3 L2224.6 614.4 L2225.3 614.4 L2225.9 614.3 L2226.6 614.4 L2227.3 614.4 L2228.0 614.3 L2228.7 614.4 L2229.4 614.2 L2230.0 614.2 L2230.7 614.2 L2231.4 614.3 L2232.1 614.3 L2232.8 614.3 L2233.4 614.2 L2234.1 614.2 L2234.8 614.1 L2235.5 614.1 L2236.2 614.1 L2236.9 614.1 L2237.5 614.1 L2238.2 614.3 L2238.9 614.5 L2239.6 614.5 L2240.3 614.5 L2241.0 614.5 L2241.6 614.6 L2242.3 614.7 L2243.0 614.5 L2243.7 614.5 L2244.4 614.6 L2245.1 614.7 L2245.7 614.6 L2246.4 614.7 L2247.1 614.6 L2247.8 614.6 L2248.5 614.6 L2249.2 614.7 L2249.8 614.6 L2250.5 614.5 L2251.2 614.6 L2251.9 614.7 L2252.6 614.7 L2253.2 614.6 L2253.9 614.6 L2254.6 614.5 L2255.3 614.6 L2256.0 614.5 L2256.7 614.6 L2257.3 614.6 L2258.0 614.7 L2258.7 614.7 L2259.4 614.7 L2260.1 614.8 L2260.8 614.8 L2261.4 614.9 L2262.1 614.7 L2262.8 614.5 L2263.5 614.4 L2264.2 614.5 L2264.9 614.4 L2265.5 614.3 L2266.2 614.5 L2266.9 614.6 L2267.6 614.7 L2268.3 614.6 L2269.0 614.6 L2269.6 614.5 L2270.3 614.5 L2271.0 614.4 L2271.7 614.5 L2272.4 614.6 L2273.1 614.5 L2273.7 614.6 L2274.4 614.6 L2275.1 614.4 L2275.8 614.3 L2276.5 614.3 L2277.1 614.4 L2277.8 614.6 L2278.5 614.6 L2279.2 614.7 L2279.9 614.7 L2280.6 614.5 L2281.2 614.5 L2281.9 614.4 L2282.6 614.4 L2283.3 614.6 L2284.0 614.5 L2284.7 614.6 L2285.3 614.6 L2286.0 614.6 L2286.7 614.7 L2287.4 614.7 L2288.1 614.6 L2288.8 614.7 L2289.4 614.6 L2290.1 614.5 L2290.8 614.5 L2291.5 614.7 L2292.2 614.5 L2292.9 614.7 L2293.5 614.5 L2294.2 614.6 L2294.9 614.7 L2295.6 614.7 L2296.3 614.6 L2296.9 614.5 L2297.6 614.6 L2298.3 614.5 L2299.0 614.7 L2299.7 614.6 L2300.4 614.7 L2301.0 614.7 L2301.7 614.6 L2302.4 614.8 L2303.1 614.8 L2303.8 614.9 L2304.5 614.9 L2305.1 615.0 L2305.8 614.7 L2306.5 614.6 L2307.2 614.5 L2307.9 614.7 L2308.6 614.7 L2309.2 614.8 L2309.9 614.8 L2310.6 614.8 L2311.3 614.7 L2312.0 614.8 L2312.7 614.9 L2313.3 614.7 L2314.0 614.6 L2314.7 614.7 L2315.4 614.8 L2316.1 614.7 L2316.8 614.6 L2317.4 614.6 L2318.1 614.6 L2318.8 614.7 L2319.5 614.8 L2320.2 614.9 L2320.8 615.0 L2321.5 614.7 L2322.2 614.6 L2322.9 614.6 L2323.6 614.5 L2324.3 614.4 L2324.9 614.4 L2325.6 614.6 L2326.3 614.5 L2327.0 614.5 L2327.7 614.6 L2328.4 614.7 L2329.0 614.8 L2329.7 614.6 L2330.4 614.7 L2331.1 614.5 L2331.8 614.6 L2332.5 614.6 L2333.1 614.7 L2333.8 614.8 L2334.5 614.7 L2335.2 614.7 L2335.9 614.8 L2336.6 614.8 L2337.2 614.6 L2337.9 614.6 L2338.6 614.7 L2339.3 614.7 L2340.0 614.7 L2340.7 614.8 L2341.3 614.8 L2342.0 614.6 L2342.7 614.7 L2343.4 614.8 L2344.1 614.7 L2344.7 614.8 L2345.4 614.9 L2346.1 614.8 L2346.8 614.7 L2347.5 614.8 L2348.2 614.6 L2348.8 614.8 L2349.5 614.6 L2350.2 614.6 L2350.9 614.6 L2351.6 614.7 L2352.3 614.8 L2352.9 614.6 L2353.6 614.8 L2354.3 614.7 L2355.0 614.8 L2355.7 614.6 L2356.4 614.6 L2357.0 614.5 L2357.7 614.7 L2358.4 614.6 L2359.1 614.7 L2359.8 614.8 L2360.5 614.7 L2361.1 614.8 L2361.8 614.8 L2362.5 614.8" fill="none" stroke="#FD6E6E" stroke-width="9" stroke-linejoin="round" stroke-linecap="butt"/>
</g>
<clipPath id="clip_fe"><rect x="177.2" y="0" width="2185.9" height="1634.0"/></clipPath><g clip-path="url(#clip_fe)" stroke="#FD6E6E" stroke-width="12.0" stroke-linecap="round"><line x1="889.3" y1="1476.0" x2="889.3" y2="1633.0"/><line x1="1587.5" y1="1611.3" x2="1587.5" y2="1633.0"/><line x1="2181.9" y1="1593.2" x2="2181.9" y2="1633.0"/></g>
<clipPath id="clip_cao"><rect x="177.2" y="0" width="2185.9" height="931.5"/></clipPath><g clip-path="url(#clip_cao)" stroke="#5ADAFE" stroke-width="12.0" stroke-linecap="round"><line x1="456.8" y1="846.4" x2="456.8" y2="924.5"/><line x1="632.9" y1="739.0" x2="632.9" y2="924.5"/><line x1="1195.9" y1="816.0" x2="1195.9" y2="924.5"/><line x1="1546.5" y1="890.0" x2="1546.5" y2="924.5"/><line x1="1656.5" y1="888.5" x2="1656.5" y2="924.5"/><line x1="2075.4" y1="905.0" x2="2075.4" y2="924.5"/></g>
<clipPath id="clip_mgo"><rect x="177.2" y="0" width="2185.9" height="1108.5"/></clipPath><g clip-path="url(#clip_mgo)" stroke="#00FAC3" stroke-width="12.0" stroke-linecap="round"><line x1="618.9" y1="1045.1" x2="618.9" y2="1101.5"/><line x1="823.1" y1="942.7" x2="823.1" y2="1101.5"/><line x1="1485.1" y1="997.5" x2="1485.1" y2="1101.5"/><line x1="1907.4" y1="1051.0" x2="1907.4" y2="1101.5"/><line x1="2042.9" y1="1041.0" x2="2042.9" y2="1101.5"/></g>
<clipPath id="clip_tio"><rect x="177.2" y="0" width="2185.9" height="1269.5"/></clipPath><g clip-path="url(#clip_tio)" stroke="#FEE985" stroke-width="12.0" stroke-linecap="round"><line x1="223.2" y1="1097.0" x2="223.2" y2="1262.5"/><line x1="620.0" y1="1246.4" x2="620.0" y2="1262.5"/><line x1="649.0" y1="1240.3" x2="649.0" y2="1262.5"/><line x1="675.6" y1="1230.8" x2="675.6" y2="1262.5"/><line x1="1000.3" y1="1213.2" x2="1000.3" y2="1262.5"/><line x1="1134.1" y1="1249.8" x2="1134.1" y2="1262.5"/><line x1="1199.0" y1="1229.4" x2="1199.0" y2="1262.5"/><line x1="1240.6" y1="1221.6" x2="1240.6" y2="1262.5"/><line x1="1481.0" y1="1247.0" x2="1481.0" y2="1262.5"/><line x1="1500.4" y1="1240.9" x2="1500.4" y2="1262.5"/><line x1="1706.7" y1="1230.0" x2="1706.7" y2="1262.5"/><line x1="1760.9" y1="1239.9" x2="1760.9" y2="1262.5"/><line x1="1887.9" y1="1246.0" x2="1887.9" y2="1262.5"/><line x1="1922.8" y1="1236.9" x2="1922.8" y2="1262.5"/><line x1="1958.3" y1="1244.7" x2="1958.3" y2="1262.5"/><line x1="2046.0" y1="1250.1" x2="2046.0" y2="1262.5"/><line x1="2116.0" y1="1249.2" x2="2116.0" y2="1262.5"/><line x1="2166.2" y1="1249.2" x2="2166.2" y2="1262.5"/><line x1="2183.9" y1="1246.0" x2="2183.9" y2="1262.5"/><line x1="2201.0" y1="1245.2" x2="2201.0" y2="1262.5"/></g>
<clipPath id="clip_zro"><rect x="177.2" y="0" width="2185.9" height="1479.0"/></clipPath><g clip-path="url(#clip_zro)" stroke="#FDB77F" stroke-width="12.0" stroke-linecap="round"><line x1="178.9" y1="1427.7" x2="178.9" y2="1472.0"/><line x1="192.9" y1="1433.9" x2="192.9" y2="1472.0"/><line x1="320.2" y1="1275.2" x2="320.2" y2="1472.0"/><line x1="432.9" y1="1329.0" x2="432.9" y2="1472.0"/><line x1="524.0" y1="1415.0" x2="524.0" y2="1472.0"/><line x1="532.9" y1="1430.7" x2="532.9" y2="1472.0"/><line x1="562.9" y1="1425.9" x2="562.9" y2="1472.0"/><line x1="582.7" y1="1448.3" x2="582.7" y2="1472.0"/><line x1="668.1" y1="1454.3" x2="668.1" y2="1472.0"/><line x1="673.9" y1="1442.9" x2="673.9" y2="1472.0"/><line x1="683.1" y1="1453.0" x2="683.1" y2="1472.0"/><line x1="703.9" y1="1452.0" x2="703.9" y2="1472.0"/><line x1="722.0" y1="1454.1" x2="722.0" y2="1472.0"/><line x1="749.0" y1="1430.0" x2="749.0" y2="1472.0"/><line x1="763.0" y1="1445.2" x2="763.0" y2="1472.0"/><line x1="770.9" y1="1445.2" x2="770.9" y2="1472.0"/><line x1="853.1" y1="1453.9" x2="853.1" y2="1472.0"/><line x1="888.0" y1="1441.0" x2="888.0" y2="1472.0"/><line x1="910.8" y1="1441.0" x2="910.8" y2="1472.0"/><line x1="1027.9" y1="1450.2" x2="1027.9" y2="1472.0"/><line x1="1038.9" y1="1419.9" x2="1038.9" y2="1472.0"/><line x1="1068.9" y1="1411.9" x2="1068.9" y2="1472.0"/><line x1="1083.9" y1="1431.0" x2="1083.9" y2="1472.0"/><line x1="1106.1" y1="1443.8" x2="1106.1" y2="1472.0"/><line x1="1204.1" y1="1433.0" x2="1204.1" y2="1472.0"/><line x1="1205.1" y1="1454.8" x2="1205.1" y2="1472.0"/><line x1="1224.6" y1="1453.2" x2="1224.6" y2="1472.0"/><line x1="1245.1" y1="1448.0" x2="1245.1" y2="1472.0"/><line x1="1248.2" y1="1436.9" x2="1248.2" y2="1472.0"/><line x1="1258.1" y1="1442.2" x2="1258.1" y2="1472.0"/><line x1="1266.6" y1="1438.8" x2="1266.6" y2="1472.0"/><line x1="1308.9" y1="1438.3" x2="1308.9" y2="1472.0"/><line x1="1307.6" y1="1456.0" x2="1307.6" y2="1472.0"/><line x1="1334.2" y1="1444.0" x2="1334.2" y2="1472.0"/><line x1="1347.5" y1="1446.1" x2="1347.5" y2="1472.0"/><line x1="1399.1" y1="1435.8" x2="1399.1" y2="1472.0"/><line x1="1407.6" y1="1440.4" x2="1407.6" y2="1472.0"/><line x1="1452.3" y1="1442.0" x2="1452.3" y2="1472.0"/><line x1="1472.8" y1="1440.1" x2="1472.8" y2="1472.0"/><line x1="1502.5" y1="1434.2" x2="1502.5" y2="1472.0"/><line x1="1504.9" y1="1456.0" x2="1504.9" y2="1472.0"/><line x1="1545.2" y1="1451.4" x2="1545.2" y2="1472.0"/><line x1="1553.0" y1="1450.9" x2="1553.0" y2="1472.0"/><line x1="1576.9" y1="1452.0" x2="1576.9" y2="1472.0"/><line x1="1589.9" y1="1449.0" x2="1589.9" y2="1472.0"/><line x1="1600.1" y1="1444.0" x2="1600.1" y2="1472.0"/><line x1="1608.0" y1="1452.0" x2="1608.0" y2="1472.0"/><line x1="1711.1" y1="1449.1" x2="1711.1" y2="1472.0"/><line x1="1728.2" y1="1454.1" x2="1728.2" y2="1472.0"/><line x1="1734.3" y1="1452.5" x2="1734.3" y2="1472.0"/><line x1="1753.8" y1="1453.2" x2="1753.8" y2="1472.0"/><line x1="1775.6" y1="1454.3" x2="1775.6" y2="1472.0"/><line x1="1783.5" y1="1449.8" x2="1783.5" y2="1472.0"/><line x1="1790.0" y1="1446.3" x2="1790.0" y2="1472.0"/><line x1="1813.5" y1="1452.5" x2="1813.5" y2="1472.0"/><line x1="1819.7" y1="1451.6" x2="1819.7" y2="1472.0"/><line x1="1832.3" y1="1452.5" x2="1832.3" y2="1472.0"/><line x1="1836.4" y1="1452.5" x2="1836.4" y2="1472.0"/><line x1="1865.4" y1="1453.4" x2="1865.4" y2="1472.0"/><line x1="1873.9" y1="1455.0" x2="1873.9" y2="1472.0"/><line x1="1879.8" y1="1454.1" x2="1879.8" y2="1472.0"/><line x1="1903.3" y1="1454.8" x2="1903.3" y2="1472.0"/><line x1="1906.7" y1="1450.2" x2="1906.7" y2="1472.0"/><line x1="1921.7" y1="1444.5" x2="1921.7" y2="1472.0"/><line x1="1926.5" y1="1454.1" x2="1926.5" y2="1472.0"/><line x1="1954.9" y1="1454.3" x2="1954.9" y2="1472.0"/><line x1="1966.5" y1="1449.3" x2="1966.5" y2="1472.0"/><line x1="1984.9" y1="1453.2" x2="1984.9" y2="1472.0"/><line x1="1994.5" y1="1452.5" x2="1994.5" y2="1472.0"/><line x1="2000.3" y1="1452.5" x2="2000.3" y2="1472.0"/><line x1="2005.4" y1="1452.5" x2="2005.4" y2="1472.0"/><line x1="2020.4" y1="1452.5" x2="2020.4" y2="1472.0"/><line x1="2025.2" y1="1452.5" x2="2025.2" y2="1472.0"/><line x1="2041.9" y1="1453.7" x2="2041.9" y2="1472.0"/><line x1="2050.8" y1="1451.4" x2="2050.8" y2="1472.0"/><line x1="2100.0" y1="1453.0" x2="2100.0" y2="1472.0"/><line x1="2110.5" y1="1453.0" x2="2110.5" y2="1472.0"/><line x1="2129.0" y1="1453.4" x2="2129.0" y2="1472.0"/><line x1="2134.1" y1="1453.0" x2="2134.1" y2="1472.0"/><line x1="2142.0" y1="1449.0" x2="2142.0" y2="1472.0"/><line x1="2164.8" y1="1453.0" x2="2164.8" y2="1472.0"/><line x1="2176.1" y1="1450.0" x2="2176.1" y2="1472.0"/><line x1="2179.2" y1="1450.0" x2="2179.2" y2="1472.0"/><line x1="2194.2" y1="1449.0" x2="2194.2" y2="1472.0"/><line x1="2201.0" y1="1452.0" x2="2201.0" y2="1472.0"/><line x1="2213.6" y1="1453.0" x2="2213.6" y2="1472.0"/><line x1="2222.5" y1="1451.0" x2="2222.5" y2="1472.0"/><line x1="2230.4" y1="1450.0" x2="2230.4" y2="1472.0"/><line x1="2253.9" y1="1450.0" x2="2253.9" y2="1472.0"/><line x1="2297.3" y1="1450.0" x2="2297.3" y2="1472.0"/><line x1="2302.1" y1="1453.0" x2="2302.1" y2="1472.0"/><line x1="2324.9" y1="1453.0" x2="2324.9" y2="1472.0"/><line x1="2342.0" y1="1449.0" x2="2342.0" y2="1472.0"/><line x1="2366.9" y1="1450.0" x2="2366.9" y2="1472.0"/></g>
<g fill="#000">
<rect x="173" y="921" width="2194" height="7"/>
<rect x="173" y="1098" width="2194" height="7"/>
<rect x="173" y="1259" width="2194" height="7"/>
<rect x="173" y="1469" width="2194" height="6"/>
<rect x="379" y="892" width="7" height="30"/>
<rect x="720" y="892" width="7" height="30"/>
<rect x="1062" y="892" width="7" height="30"/>
<rect x="1403" y="892" width="7" height="30"/>
<rect x="1744" y="892" width="7" height="30"/>
<rect x="2086" y="892" width="7" height="30"/>
<rect x="379" y="1070" width="7" height="29"/>
<rect x="720" y="1070" width="7" height="29"/>
<rect x="1062" y="1070" width="7" height="29"/>
<rect x="1403" y="1070" width="7" height="29"/>
<rect x="1744" y="1070" width="7" height="29"/>
<rect x="2086" y="1070" width="7" height="29"/>
<rect x="379" y="1231" width="7" height="29"/>
<rect x="720" y="1231" width="7" height="29"/>
<rect x="1062" y="1231" width="7" height="29"/>
<rect x="1403" y="1231" width="7" height="29"/>
<rect x="1744" y="1231" width="7" height="29"/>
<rect x="2086" y="1231" width="7" height="29"/>
<rect x="379" y="1440" width="7" height="30"/>
<rect x="720" y="1440" width="7" height="30"/>
<rect x="1062" y="1440" width="7" height="30"/>
<rect x="1403" y="1440" width="7" height="30"/>
<rect x="1744" y="1440" width="7" height="30"/>
<rect x="2086" y="1440" width="7" height="30"/>
<rect x="379" y="1601" width="7" height="29"/>
<rect x="720" y="1601" width="7" height="29"/>
<rect x="1062" y="1601" width="7" height="29"/>
<rect x="1403" y="1601" width="7" height="29"/>
<rect x="1744" y="1601" width="7" height="29"/>
<rect x="2086" y="1601" width="7" height="29"/>
</g></svg>
</body></html>
